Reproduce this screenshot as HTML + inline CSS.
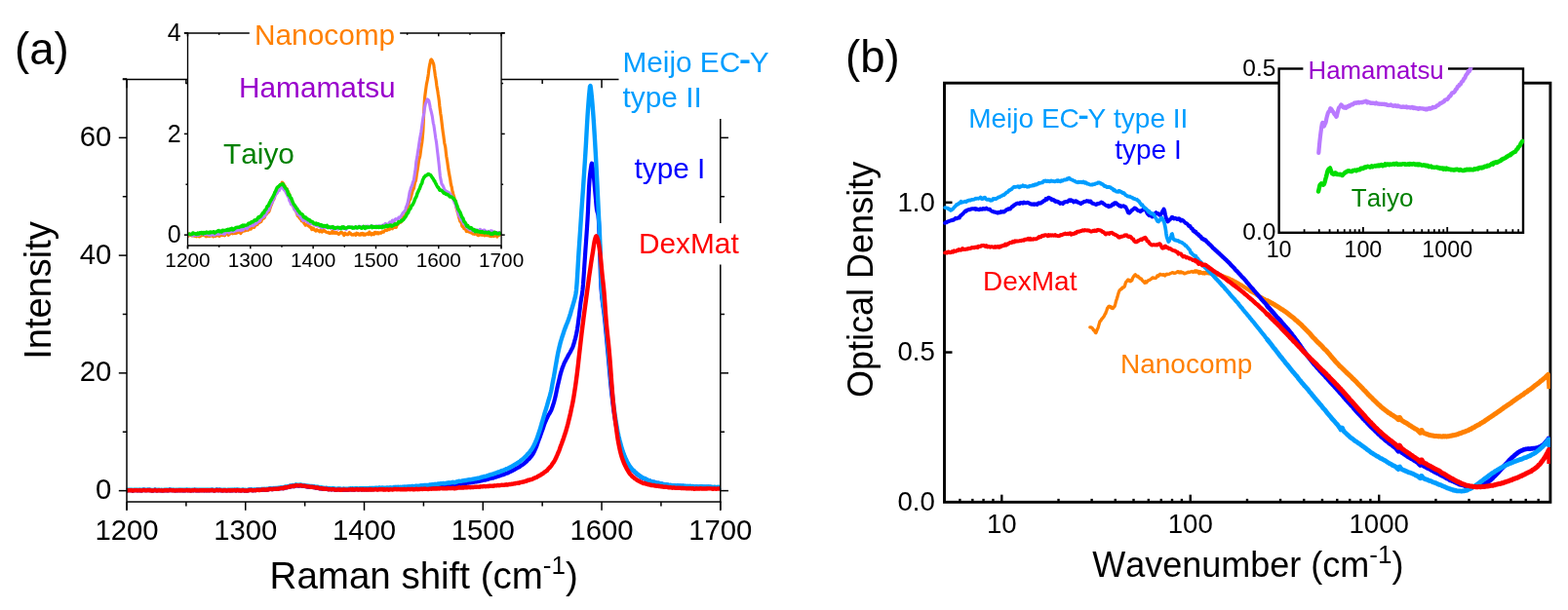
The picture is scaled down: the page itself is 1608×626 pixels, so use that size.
<!DOCTYPE html>
<html lang="en">
<head>
<meta charset="utf-8">
<title>Raman and optical density spectra</title>
<style>
html,body{margin:0;padding:0;background:#fff;}
body{width:1608px;height:626px;overflow:hidden;}
svg{display:block;}
svg text{font-family:"Liberation Sans",sans-serif;font-kerning:none;}
</style>
</head>
<body>
<svg width="1608" height="626" viewBox="0 0 1608 626">
<rect x="0" y="0" width="1608" height="626" fill="#fff"/>
<defs>
<clipPath id="clipA"><rect x="129.30" y="81.40" width="610.30" height="433.60"/></clipPath>
<clipPath id="clipAI"><rect x="191.90" y="33.90" width="322.90" height="218.00"/></clipPath>
<clipPath id="clipB"><rect x="967.10" y="85.20" width="622.80" height="430.10"/></clipPath>
<clipPath id="clipBI"><rect x="1311.60" y="69.30" width="251.60" height="169.50"/></clipPath>
</defs>
<g clip-path="url(#clipA)"><path d="M130.0,503.5 L130.5,503.5 L131.0,503.2 L131.5,503.1 L132.0,503.1 L132.5,503.2 L133.0,503.2 L133.5,503.2 L134.0,503.2 L134.5,503.1 L135.0,503.2 L135.5,503.3 L136.0,503.6 L136.5,503.5 L137.0,503.4 L137.5,503.2 L138.0,503.1 L138.5,503.2 L139.0,503.1 L139.5,503.2 L140.0,503.1 L140.5,503.3 L141.0,503.4 L141.5,503.4 L142.0,503.2 L142.5,503.2 L143.0,503.3 L143.5,503.3 L144.0,503.2 L144.5,503.3 L145.0,503.5 L145.5,503.4 L146.0,503.3 L146.5,503.1 L147.0,503.0 L147.5,502.9 L148.0,502.9 L148.5,503.2 L149.0,503.3 L149.5,503.2 L150.0,503.2 L150.5,503.2 L151.0,503.2 L151.5,503.1 L152.0,503.0 L152.5,503.1 L153.0,503.2 L153.5,503.0 L154.0,503.1 L154.5,503.2 L155.0,503.4 L155.5,503.5 L156.0,503.6 L156.5,503.6 L157.0,503.4 L157.5,503.4 L158.0,503.1 L158.5,503.1 L159.0,502.9 L159.5,503.2 L160.0,503.3 L160.5,503.5 L161.0,503.5 L161.5,503.4 L162.0,503.4 L162.5,503.2 L163.0,503.2 L163.5,503.2 L164.0,503.4 L164.5,503.4 L165.0,503.4 L165.5,503.3 L166.0,503.5 L166.5,503.5 L167.0,503.5 L167.5,503.4 L168.0,503.4 L168.5,503.2 L169.0,503.3 L169.5,503.2 L170.0,503.3 L170.5,503.2 L171.0,503.3 L171.5,503.3 L172.0,503.3 L172.5,503.4 L173.0,503.3 L173.5,502.9 L174.0,502.9 L174.5,502.9 L175.0,503.1 L175.5,503.1 L176.0,503.2 L176.5,503.2 L177.0,503.2 L177.5,503.3 L178.0,503.2 L178.5,503.2 L179.0,503.4 L179.5,503.5 L180.0,503.4 L180.5,503.2 L181.0,503.2 L181.5,503.4 L182.0,503.4 L182.5,503.3 L183.0,503.2 L183.5,503.2 L184.0,503.3 L184.5,503.3 L185.0,503.2 L185.5,503.2 L186.0,503.3 L186.5,503.2 L187.0,503.3 L187.5,503.3 L188.0,503.4 L188.5,503.3 L189.0,503.4 L189.5,503.3 L190.0,503.4 L190.5,503.2 L191.0,503.1 L191.5,503.1 L192.0,503.2 L192.5,503.3 L193.0,503.3 L193.5,503.2 L194.0,503.2 L194.5,503.1 L195.0,503.4 L195.5,503.5 L196.0,503.5 L196.5,503.3 L197.0,503.2 L197.5,503.2 L198.0,503.3 L198.5,503.3 L199.0,503.1 L199.5,503.0 L200.0,503.0 L200.5,503.2 L201.0,503.4 L201.5,503.3 L202.0,503.4 L202.5,503.3 L203.0,503.3 L203.5,503.4 L204.0,503.4 L204.5,503.3 L205.0,503.3 L205.5,503.2 L206.0,503.2 L206.5,503.2 L207.0,503.3 L207.5,503.2 L208.0,503.2 L208.5,503.2 L209.0,503.3 L209.5,503.3 L210.0,503.3 L210.5,503.2 L211.0,503.1 L211.5,503.3 L212.0,503.4 L212.5,503.3 L213.0,503.2 L213.5,503.2 L214.0,503.3 L214.5,503.3 L215.0,503.3 L215.5,503.2 L216.0,503.1 L216.5,503.2 L217.0,503.0 L217.5,503.0 L218.0,503.0 L218.5,503.2 L219.0,503.4 L219.5,503.5 L220.0,503.5 L220.5,503.4 L221.0,503.2 L221.5,503.0 L222.0,503.0 L222.5,502.9 L223.0,503.1 L223.5,503.2 L224.0,503.3 L224.5,503.2 L225.0,503.0 L225.5,503.0 L226.0,503.1 L226.5,503.3 L227.0,503.2 L227.5,503.4 L228.0,503.4 L228.5,503.5 L229.0,503.3 L229.5,503.2 L230.0,503.2 L230.5,503.2 L231.0,503.3 L231.5,503.3 L232.0,503.5 L232.5,503.5 L233.0,503.4 L233.5,503.4 L234.0,503.2 L234.5,503.2 L235.0,503.3 L235.5,503.3 L236.0,503.5 L236.5,503.3 L237.0,503.4 L237.5,503.3 L238.0,503.3 L238.5,503.4 L239.0,503.2 L239.5,503.2 L240.0,503.1 L240.5,503.1 L241.0,503.3 L241.5,503.3 L242.0,503.5 L242.5,503.1 L243.0,503.1 L243.5,503.0 L244.0,503.2 L244.5,503.3 L245.0,503.3 L245.5,503.3 L246.0,503.3 L246.5,503.5 L247.0,503.5 L247.5,503.5 L248.0,503.2 L248.5,503.2 L249.0,503.1 L249.5,503.1 L250.0,503.3 L250.5,503.5 L251.0,503.6 L251.5,503.4 L252.0,503.5 L252.5,503.5 L253.0,503.6 L253.5,503.5 L254.0,503.5 L254.5,503.4 L255.0,503.1 L255.5,503.0 L256.0,502.9 L256.5,503.0 L257.0,503.0 L257.5,502.9 L258.0,503.0 L258.5,503.2 L259.0,503.3 L259.5,503.3 L260.0,503.2 L260.5,503.1 L261.0,503.2 L261.5,503.1 L262.0,503.2 L262.5,503.0 L263.0,503.0 L263.5,502.8 L264.0,502.8 L264.5,502.9 L265.0,502.7 L265.5,503.0 L266.0,502.9 L266.5,503.0 L267.0,502.8 L267.5,502.9 L268.0,502.6 L268.5,502.6 L269.0,502.4 L269.5,502.6 L270.0,502.5 L270.5,502.6 L271.0,502.5 L271.5,502.6 L272.0,502.7 L272.5,502.8 L273.0,502.6 L273.5,502.4 L274.0,502.5 L274.5,502.6 L275.0,502.4 L275.5,502.2 L276.0,502.0 L276.5,501.9 L277.0,501.8 L277.5,501.9 L278.0,501.9 L278.5,502.1 L279.0,502.1 L279.5,502.1 L280.0,501.8 L280.5,501.7 L281.0,501.8 L281.5,501.8 L282.0,501.7 L282.5,501.6 L283.0,501.6 L283.5,501.7 L284.0,501.8 L284.5,501.7 L285.0,501.8 L285.5,501.5 L286.0,501.5 L286.5,501.4 L287.0,501.2 L287.5,501.2 L288.0,501.0 L288.5,501.1 L289.0,500.9 L289.5,501.1 L290.0,501.1 L290.5,501.2 L291.0,501.0 L291.5,500.8 L292.0,500.4 L292.5,500.2 L293.0,500.3 L293.5,500.4 L294.0,500.4 L294.5,500.3 L295.0,500.0 L295.5,499.9 L296.0,499.9 L296.5,499.9 L297.0,499.6 L297.5,499.3 L298.0,499.2 L298.5,499.3 L299.0,499.1 L299.5,499.1 L300.0,498.8 L300.5,498.9 L301.0,498.9 L301.5,499.2 L302.0,498.9 L302.5,498.7 L303.0,498.3 L303.5,498.4 L304.0,498.3 L304.5,498.5 L305.0,498.5 L305.5,498.5 L306.0,498.6 L306.5,498.6 L307.0,498.6 L307.5,498.4 L308.0,498.3 L308.5,498.3 L309.0,498.5 L309.5,498.6 L310.0,498.8 L310.5,498.8 L311.0,498.8 L311.5,498.8 L312.0,498.9 L312.5,499.0 L313.0,499.0 L313.5,499.2 L314.0,499.2 L314.5,499.4 L315.0,499.4 L315.5,499.6 L316.0,499.5 L316.5,499.6 L317.0,499.5 L317.5,499.7 L318.0,499.9 L318.5,499.9 L319.0,499.8 L319.5,499.7 L320.0,499.9 L320.5,499.9 L321.0,500.1 L321.5,500.1 L322.0,500.2 L322.5,500.2 L323.0,500.4 L323.5,500.6 L324.0,500.6 L324.5,500.6 L325.0,500.7 L325.5,500.6 L326.0,500.6 L326.5,500.7 L327.0,501.1 L327.5,501.3 L328.0,501.4 L328.5,501.4 L329.0,501.2 L329.5,501.2 L330.0,501.3 L330.5,501.6 L331.0,501.5 L331.5,501.5 L332.0,501.5 L332.5,501.8 L333.0,501.9 L333.5,501.8 L334.0,501.7 L334.5,501.7 L335.0,501.7 L335.5,501.9 L336.0,502.0 L336.5,502.2 L337.0,502.3 L337.5,502.2 L338.0,502.2 L338.5,502.1 L339.0,502.2 L339.5,502.3 L340.0,502.4 L340.5,502.3 L341.0,502.2 L341.5,502.1 L342.0,502.2 L342.5,502.2 L343.0,502.3 L343.5,502.6 L344.0,502.7 L344.5,502.7 L345.0,502.6 L345.5,502.6 L346.0,502.5 L346.5,502.4 L347.0,502.5 L347.5,502.4 L348.0,502.3 L348.5,502.4 L349.0,502.7 L349.5,502.9 L350.0,502.7 L350.5,502.8 L351.0,502.7 L351.5,502.6 L352.0,502.5 L352.5,502.4 L353.0,502.6 L353.5,502.5 L354.0,502.6 L354.5,502.6 L355.0,502.6 L355.5,502.6 L356.0,502.5 L356.5,502.5 L357.0,502.6 L357.5,502.5 L358.0,502.5 L358.5,502.3 L359.0,502.2 L359.5,502.2 L360.0,502.4 L360.5,502.5 L361.0,502.5 L361.5,502.2 L362.0,502.3 L362.5,502.4 L363.0,502.6 L363.5,502.6 L364.0,502.4 L364.5,502.3 L365.0,502.2 L365.5,502.2 L366.0,502.1 L366.5,502.2 L367.0,502.4 L367.5,502.5 L368.0,502.4 L368.5,502.3 L369.0,502.2 L369.5,502.1 L370.0,502.3 L370.5,502.4 L371.0,502.5 L371.5,502.4 L372.0,502.2 L372.5,502.2 L373.0,502.3 L373.5,502.3 L374.0,502.3 L374.5,502.2 L375.0,502.3 L375.5,502.4 L376.0,502.3 L376.5,502.3 L377.0,502.2 L377.5,502.3 L378.0,502.3 L378.5,502.2 L379.0,502.0 L379.5,502.2 L380.0,502.1 L380.5,502.3 L381.0,502.1 L381.5,502.2 L382.0,502.2 L382.5,502.2 L383.0,502.2 L383.5,502.1 L384.0,502.1 L384.5,502.0 L385.0,501.9 L385.5,501.9 L386.0,502.0 L386.5,502.0 L387.0,502.2 L387.5,502.1 L388.0,502.1 L388.5,501.8 L389.0,501.7 L389.5,501.8 L390.0,501.9 L390.5,501.9 L391.0,502.0 L391.5,501.8 L392.0,501.8 L392.5,501.7 L393.0,502.0 L393.5,502.1 L394.0,502.0 L394.5,501.9 L395.0,501.9 L395.5,502.0 L396.0,501.9 L396.5,501.8 L397.0,501.7 L397.5,501.8 L398.0,502.0 L398.5,502.1 L399.0,502.0 L399.5,501.8 L400.0,501.6 L400.5,501.7 L401.0,501.7 L401.5,501.8 L402.0,501.8 L402.5,501.9 L403.0,501.8 L403.5,501.7 L404.0,501.4 L404.5,501.3 L405.0,501.3 L405.5,501.3 L406.0,501.4 L406.5,501.5 L407.0,501.6 L407.5,501.4 L408.0,501.3 L408.5,501.2 L409.0,501.4 L409.5,501.4 L410.0,501.4 L410.5,501.3 L411.0,501.5 L411.5,501.5 L412.0,501.4 L412.5,501.3 L413.0,501.4 L413.5,501.4 L414.0,501.4 L414.5,501.2 L415.0,501.1 L415.5,501.3 L416.0,501.4 L416.5,501.4 L417.0,501.3 L417.5,501.0 L418.0,501.0 L418.5,501.1 L419.0,501.0 L419.5,501.0 L420.0,501.0 L420.5,501.1 L421.0,501.0 L421.5,501.0 L422.0,500.8 L422.5,500.8 L423.0,500.7 L423.5,500.9 L424.0,501.2 L424.5,501.2 L425.0,501.1 L425.5,500.9 L426.0,500.7 L426.5,500.7 L427.0,500.5 L427.5,500.7 L428.0,500.7 L428.5,500.8 L429.0,500.6 L429.5,500.6 L430.0,500.5 L430.5,500.6 L431.0,500.5 L431.5,500.3 L432.0,500.3 L432.5,500.3 L433.0,500.4 L433.5,500.3 L434.0,500.1 L434.5,500.1 L435.0,500.1 L435.5,500.2 L436.0,500.0 L436.5,500.0 L437.0,500.1 L437.5,500.2 L438.0,500.1 L438.5,500.1 L439.0,500.2 L439.5,500.1 L440.0,499.9 L440.5,499.7 L441.0,499.6 L441.5,499.7 L442.0,499.7 L442.5,499.7 L443.0,499.6 L443.5,499.4 L444.0,499.5 L444.5,499.4 L445.0,499.5 L445.5,499.3 L446.0,499.3 L446.5,499.1 L447.0,499.3 L447.5,499.3 L448.0,499.3 L448.5,499.1 L449.0,498.9 L449.5,499.0 L450.0,499.1 L450.5,499.0 L451.0,498.9 L451.5,498.7 L452.0,498.7 L452.5,498.6 L453.0,498.6 L453.5,498.6 L454.0,498.6 L454.5,498.6 L455.0,498.6 L455.5,498.7 L456.0,498.6 L456.5,498.7 L457.0,498.6 L457.5,498.5 L458.0,498.4 L458.5,498.2 L459.0,498.3 L459.5,498.0 L460.0,498.2 L460.5,498.0 L461.0,498.1 L461.5,498.1 L462.0,498.1 L462.5,498.0 L463.0,498.0 L463.5,497.7 L464.0,497.7 L464.5,497.6 L465.0,497.7 L465.5,497.7 L466.0,497.9 L466.5,497.8 L467.0,497.8 L467.5,497.4 L468.0,497.5 L468.5,497.2 L469.0,497.2 L469.5,497.0 L470.0,496.9 L470.5,496.6 L471.0,496.6 L471.5,496.7 L472.0,496.8 L472.5,496.8 L473.0,496.7 L473.5,496.6 L474.0,496.3 L474.5,496.3 L475.0,496.3 L475.5,496.4 L476.0,496.1 L476.5,495.8 L477.0,496.0 L477.5,496.0 L478.0,496.0 L478.5,495.7 L479.0,495.7 L479.5,495.7 L480.0,495.6 L480.5,495.3 L481.0,495.3 L481.5,495.4 L482.0,495.4 L482.5,495.4 L483.0,495.3 L483.5,495.2 L484.0,495.1 L484.5,495.0 L485.0,495.0 L485.5,494.9 L486.0,494.8 L486.5,494.6 L487.0,494.5 L487.5,494.5 L488.0,494.4 L488.5,494.4 L489.0,494.1 L489.5,494.1 L490.0,494.1 L490.5,494.0 L491.0,494.0 L491.5,493.8 L492.0,493.8 L492.5,493.4 L493.0,493.4 L493.5,493.2 L494.0,493.3 L494.5,493.1 L495.0,493.0 L495.5,492.8 L496.0,492.6 L496.5,492.5 L497.0,492.6 L497.5,492.6 L498.0,492.5 L498.5,492.3 L499.0,492.2 L499.5,491.9 L500.0,492.0 L500.5,491.9 L501.0,491.7 L501.5,491.3 L502.0,491.3 L502.5,491.2 L503.0,491.1 L503.5,490.9 L504.0,490.7 L504.5,490.7 L505.0,490.7 L505.5,490.6 L506.0,490.5 L506.5,490.1 L507.0,489.9 L507.5,489.7 L508.0,489.7 L508.5,489.6 L509.0,489.5 L509.5,489.2 L510.0,489.0 L510.5,488.7 L511.0,488.7 L511.5,488.7 L512.0,488.7 L512.5,488.3 L513.0,488.1 L513.5,487.9 L514.0,487.7 L514.5,487.4 L515.0,487.3 L515.5,487.3 L516.0,487.2 L516.5,487.0 L517.0,486.8 L517.5,486.6 L518.0,486.3 L518.5,486.0 L519.0,485.8 L519.5,485.6 L520.0,485.6 L520.5,485.5 L521.0,485.3 L521.5,484.9 L522.0,484.6 L522.5,484.4 L523.0,484.2 L523.5,484.0 L524.0,483.8 L524.5,483.5 L525.0,483.3 L525.5,483.0 L526.0,482.8 L526.5,482.5 L527.0,482.2 L527.5,482.0 L528.0,481.7 L528.5,481.2 L529.0,481.0 L529.5,480.7 L530.0,480.5 L530.5,480.2 L531.0,479.8 L531.5,479.7 L532.0,479.4 L532.5,479.3 L533.0,478.9 L533.5,478.4 L534.0,477.8 L534.5,477.7 L535.0,477.4 L535.5,477.2 L536.0,476.8 L536.5,476.4 L537.0,476.1 L537.5,475.5 L538.0,475.2 L538.5,474.7 L539.0,474.2 L539.5,473.9 L540.0,473.6 L540.5,473.0 L541.0,472.2 L541.5,471.7 L542.0,471.4 L542.5,471.0 L543.0,470.5 L543.5,469.8 L544.0,469.3 L544.5,468.6 L545.0,468.2 L545.5,467.4 L546.0,466.7 L546.5,465.9 L547.0,465.0 L547.5,464.1 L548.0,463.1 L548.5,462.0 L549.0,460.8 L549.5,459.7 L550.0,458.6 L550.5,457.2 L551.0,455.8 L551.5,454.3 L552.0,452.9 L552.5,451.6 L553.0,450.3 L553.5,449.0 L554.0,447.7 L554.5,446.2 L555.0,444.8 L555.5,443.2 L556.0,442.0 L556.5,440.6 L557.0,439.2 L557.5,437.6 L558.0,436.1 L558.5,434.6 L559.0,433.4 L559.5,432.2 L560.0,431.2 L560.5,430.0 L561.0,429.1 L561.5,428.0 L562.0,426.9 L562.5,425.8 L563.0,425.1 L563.5,424.4 L564.0,423.5 L564.5,422.6 L565.0,421.7 L565.5,420.6 L566.0,419.3 L566.5,417.7 L567.0,416.3 L567.5,414.7 L568.0,413.1 L568.5,411.2 L569.0,409.3 L569.5,407.2 L570.0,405.1 L570.5,402.6 L571.0,400.1 L571.5,397.7 L572.0,395.5 L572.5,393.4 L573.0,391.3 L573.5,389.2 L574.0,387.0 L574.5,384.9 L575.0,383.2 L575.5,381.4 L576.0,379.9 L576.5,378.2 L577.0,376.8 L577.5,375.6 L578.0,374.3 L578.5,373.0 L579.0,371.9 L579.5,370.9 L580.0,370.1 L580.5,369.0 L581.0,368.1 L581.5,367.1 L582.0,366.3 L582.5,365.3 L583.0,364.3 L583.5,363.4 L584.0,362.6 L584.5,361.9 L585.0,360.9 L585.5,359.8 L586.0,358.9 L586.5,357.9 L587.0,357.0 L587.5,355.7 L588.0,354.3 L588.5,352.6 L589.0,350.9 L589.5,349.0 L590.0,347.3 L590.5,345.2 L591.0,343.0 L591.5,340.5 L592.0,337.8 L592.5,334.5 L593.0,330.8 L593.5,326.7 L594.0,322.9 L594.5,318.6 L595.0,314.4 L595.5,310.3 L596.0,307.1 L596.5,304.2 L597.0,301.4 L597.5,297.2 L598.0,291.9 L598.5,284.8 L599.0,277.6 L599.5,269.9 L600.0,262.5 L600.5,255.2 L601.0,248.1 L601.5,240.9 L602.0,233.5 L602.5,225.5 L603.0,216.1 L603.5,204.1 L604.0,192.6 L604.5,184.8 L605.0,179.7 L605.5,175.5 L606.0,172.1 L606.5,168.8 L607.0,167.6 L607.5,170.2 L608.0,173.6 L608.5,177.7 L609.0,182.2 L609.5,187.4 L610.0,193.2 L610.5,199.0 L611.0,204.6 L611.5,210.6 L612.0,215.0 L612.5,217.3 L613.0,218.8 L613.5,221.0 L614.0,227.2 L614.5,238.6 L615.0,251.4 L615.5,268.3 L616.0,284.9 L616.5,295.5 L617.0,301.9 L617.5,306.8 L618.0,310.8 L618.5,314.4 L619.0,317.9 L619.5,321.6 L620.0,325.9 L620.5,330.8 L621.0,336.1 L621.5,341.2 L622.0,346.8 L622.5,352.1 L623.0,357.6 L623.5,362.9 L624.0,368.2 L624.5,374.0 L625.0,379.8 L625.5,385.5 L626.0,391.0 L626.5,396.3 L627.0,401.3 L627.5,405.9 L628.0,410.1 L628.5,414.5 L629.0,418.4 L629.5,422.1 L630.0,425.6 L630.5,428.8 L631.0,431.9 L631.5,434.5 L632.0,437.4 L632.5,440.3 L633.0,443.1 L633.5,445.8 L634.0,447.9 L634.5,450.1 L635.0,452.0 L635.5,453.9 L636.0,455.7 L636.5,457.5 L637.0,459.4 L637.5,461.1 L638.0,462.7 L638.5,464.0 L639.0,465.5 L639.5,466.6 L640.0,468.0 L640.5,469.1 L641.0,470.4 L641.5,471.3 L642.0,472.5 L642.5,473.6 L643.0,474.6 L643.5,475.4 L644.0,476.2 L644.5,477.1 L645.0,477.9 L645.5,478.7 L646.0,479.5 L646.5,480.1 L647.0,480.5 L647.5,481.2 L648.0,481.9 L648.5,482.5 L649.0,482.9 L649.5,483.0 L650.0,483.6 L650.5,484.1 L651.0,484.9 L651.5,485.0 L652.0,485.5 L652.5,485.9 L653.0,486.4 L653.5,486.8 L654.0,487.1 L654.5,487.5 L655.0,487.9 L655.5,488.2 L656.0,488.6 L656.5,488.9 L657.0,489.3 L657.5,489.6 L658.0,490.0 L658.5,490.1 L659.0,490.5 L659.5,490.7 L660.0,491.1 L660.5,491.0 L661.0,491.2 L661.5,491.2 L662.0,491.8 L662.5,492.1 L663.0,492.4 L663.5,492.4 L664.0,492.7 L664.5,493.0 L665.0,493.3 L665.5,493.2 L666.0,493.3 L666.5,493.5 L667.0,494.0 L667.5,494.2 L668.0,494.4 L668.5,494.3 L669.0,494.6 L669.5,494.6 L670.0,494.8 L670.5,494.7 L671.0,494.8 L671.5,495.0 L672.0,495.4 L672.5,495.5 L673.0,495.7 L673.5,495.6 L674.0,495.8 L674.5,495.8 L675.0,495.7 L675.5,495.8 L676.0,496.1 L676.5,496.2 L677.0,496.4 L677.5,496.5 L678.0,496.5 L678.5,496.7 L679.0,496.6 L679.5,496.9 L680.0,497.0 L680.5,497.2 L681.0,497.2 L681.5,497.3 L682.0,497.4 L682.5,497.5 L683.0,497.5 L683.5,497.4 L684.0,497.6 L684.5,497.6 L685.0,497.8 L685.5,497.9 L686.0,498.2 L686.5,498.2 L687.0,498.1 L687.5,498.0 L688.0,498.2 L688.5,498.3 L689.0,498.4 L689.5,498.6 L690.0,498.6 L690.5,498.6 L691.0,498.4 L691.5,498.5 L692.0,498.6 L692.5,498.6 L693.0,498.7 L693.5,498.8 L694.0,498.8 L694.5,498.5 L695.0,498.6 L695.5,498.6 L696.0,498.8 L696.5,498.7 L697.0,498.7 L697.5,498.7 L698.0,498.8 L698.5,498.9 L699.0,499.0 L699.5,498.9 L700.0,499.0 L700.5,498.9 L701.0,498.9 L701.5,499.0 L702.0,499.1 L702.5,499.0 L703.0,499.0 L703.5,499.1 L704.0,499.3 L704.5,499.4 L705.0,499.3 L705.5,499.1 L706.0,499.3 L706.5,499.3 L707.0,499.3 L707.5,499.2 L708.0,499.1 L708.5,499.3 L709.0,499.4 L709.5,499.6 L710.0,499.4 L710.5,499.4 L711.0,499.4 L711.5,499.6 L712.0,499.9 L712.5,500.0 L713.0,499.7 L713.5,499.5 L714.0,499.4 L714.5,499.7 L715.0,499.7 L715.5,499.8 L716.0,499.7 L716.5,499.8 L717.0,499.9 L717.5,499.8 L718.0,499.6 L718.5,499.4 L719.0,499.6 L719.5,499.8 L720.0,499.9 L720.5,499.7 L721.0,499.8 L721.5,499.9 L722.0,500.0 L722.5,499.8 L723.0,499.8 L723.5,499.8 L724.0,499.9 L724.5,500.1 L725.0,499.9 L725.5,499.8 L726.0,499.7 L726.5,499.9 L727.0,499.9 L727.5,499.8 L728.0,499.8 L728.5,499.9 L729.0,499.9 L729.5,500.0 L730.0,500.1 L730.5,500.2 L731.0,500.3 L731.5,500.3 L732.0,500.2 L732.5,500.1 L733.0,500.1 L733.5,500.2 L734.0,500.4 L734.5,500.3 L735.0,500.3 L735.5,500.3 L736.0,500.2 L736.5,500.2 L737.0,500.1 L737.5,500.3 L738.0,500.3 L738.5,500.4 L738.8,500.3" fill="none" stroke="#0000ff" stroke-width="4.2" stroke-linejoin="round" stroke-linecap="butt"/><path d="M130.0,503.0 L130.5,503.0 L131.0,502.7 L131.5,502.6 L132.0,502.6 L132.5,502.7 L133.0,502.7 L133.5,502.7 L134.0,502.7 L134.5,502.6 L135.0,502.7 L135.5,502.8 L136.0,503.1 L136.5,503.0 L137.0,502.9 L137.5,502.7 L138.0,502.6 L138.5,502.7 L139.0,502.6 L139.5,502.7 L140.0,502.6 L140.5,502.8 L141.0,502.9 L141.5,502.8 L142.0,502.7 L142.5,502.7 L143.0,502.8 L143.5,502.8 L144.0,502.7 L144.5,502.8 L145.0,503.0 L145.5,502.9 L146.0,502.8 L146.5,502.5 L147.0,502.4 L147.5,502.4 L148.0,502.4 L148.5,502.7 L149.0,502.8 L149.5,502.7 L150.0,502.7 L150.5,502.7 L151.0,502.6 L151.5,502.5 L152.0,502.5 L152.5,502.6 L153.0,502.6 L153.5,502.5 L154.0,502.6 L154.5,502.6 L155.0,502.9 L155.5,503.0 L156.0,503.0 L156.5,503.1 L157.0,502.9 L157.5,502.9 L158.0,502.6 L158.5,502.6 L159.0,502.4 L159.5,502.6 L160.0,502.8 L160.5,503.0 L161.0,503.0 L161.5,502.8 L162.0,502.9 L162.5,502.7 L163.0,502.7 L163.5,502.7 L164.0,502.9 L164.5,502.9 L165.0,502.9 L165.5,502.7 L166.0,503.0 L166.5,502.9 L167.0,503.0 L167.5,502.9 L168.0,502.9 L168.5,502.7 L169.0,502.8 L169.5,502.6 L170.0,502.8 L170.5,502.7 L171.0,502.8 L171.5,502.7 L172.0,502.8 L172.5,502.9 L173.0,502.8 L173.5,502.4 L174.0,502.3 L174.5,502.4 L175.0,502.6 L175.5,502.6 L176.0,502.7 L176.5,502.6 L177.0,502.7 L177.5,502.7 L178.0,502.7 L178.5,502.7 L179.0,502.8 L179.5,503.0 L180.0,502.9 L180.5,502.7 L181.0,502.7 L181.5,502.9 L182.0,502.9 L182.5,502.8 L183.0,502.6 L183.5,502.7 L184.0,502.8 L184.5,502.8 L185.0,502.7 L185.5,502.6 L186.0,502.7 L186.5,502.7 L187.0,502.8 L187.5,502.8 L188.0,502.9 L188.5,502.8 L189.0,502.8 L189.5,502.7 L190.0,502.8 L190.5,502.6 L191.0,502.6 L191.5,502.5 L192.0,502.6 L192.5,502.8 L193.0,502.8 L193.5,502.7 L194.0,502.6 L194.5,502.6 L195.0,502.8 L195.5,502.9 L196.0,502.9 L196.5,502.8 L197.0,502.7 L197.5,502.7 L198.0,502.7 L198.5,502.7 L199.0,502.6 L199.5,502.5 L200.0,502.5 L200.5,502.7 L201.0,502.8 L201.5,502.8 L202.0,502.8 L202.5,502.8 L203.0,502.8 L203.5,502.8 L204.0,502.8 L204.5,502.8 L205.0,502.8 L205.5,502.6 L206.0,502.7 L206.5,502.6 L207.0,502.8 L207.5,502.7 L208.0,502.7 L208.5,502.6 L209.0,502.8 L209.5,502.7 L210.0,502.7 L210.5,502.6 L211.0,502.6 L211.5,502.8 L212.0,502.8 L212.5,502.8 L213.0,502.7 L213.5,502.6 L214.0,502.8 L214.5,502.7 L215.0,502.7 L215.5,502.7 L216.0,502.6 L216.5,502.6 L217.0,502.5 L217.5,502.4 L218.0,502.4 L218.5,502.7 L219.0,502.8 L219.5,503.0 L220.0,503.0 L220.5,502.9 L221.0,502.7 L221.5,502.5 L222.0,502.4 L222.5,502.3 L223.0,502.5 L223.5,502.7 L224.0,502.7 L224.5,502.6 L225.0,502.4 L225.5,502.5 L226.0,502.6 L226.5,502.7 L227.0,502.7 L227.5,502.8 L228.0,502.9 L228.5,502.9 L229.0,502.7 L229.5,502.6 L230.0,502.6 L230.5,502.6 L231.0,502.7 L231.5,502.8 L232.0,502.9 L232.5,502.9 L233.0,502.9 L233.5,502.8 L234.0,502.6 L234.5,502.6 L235.0,502.7 L235.5,502.7 L236.0,502.9 L236.5,502.7 L237.0,502.8 L237.5,502.7 L238.0,502.8 L238.5,502.8 L239.0,502.7 L239.5,502.6 L240.0,502.6 L240.5,502.5 L241.0,502.7 L241.5,502.7 L242.0,502.9 L242.5,502.5 L243.0,502.5 L243.5,502.4 L244.0,502.6 L244.5,502.7 L245.0,502.7 L245.5,502.7 L246.0,502.7 L246.5,502.9 L247.0,502.9 L247.5,502.9 L248.0,502.6 L248.5,502.6 L249.0,502.5 L249.5,502.5 L250.0,502.7 L250.5,502.9 L251.0,503.0 L251.5,502.8 L252.0,502.9 L252.5,502.9 L253.0,503.0 L253.5,502.9 L254.0,502.8 L254.5,502.8 L255.0,502.5 L255.5,502.4 L256.0,502.3 L256.5,502.4 L257.0,502.4 L257.5,502.3 L258.0,502.3 L258.5,502.6 L259.0,502.7 L259.5,502.7 L260.0,502.6 L260.5,502.5 L261.0,502.5 L261.5,502.4 L262.0,502.6 L262.5,502.4 L263.0,502.4 L263.5,502.2 L264.0,502.2 L264.5,502.2 L265.0,502.1 L265.5,502.3 L266.0,502.3 L266.5,502.4 L267.0,502.2 L267.5,502.2 L268.0,502.0 L268.5,501.9 L269.0,501.8 L269.5,501.9 L270.0,501.9 L270.5,502.0 L271.0,501.8 L271.5,502.0 L272.0,502.1 L272.5,502.1 L273.0,501.9 L273.5,501.7 L274.0,501.8 L274.5,501.9 L275.0,501.8 L275.5,501.6 L276.0,501.3 L276.5,501.3 L277.0,501.1 L277.5,501.2 L278.0,501.2 L278.5,501.4 L279.0,501.4 L279.5,501.4 L280.0,501.2 L280.5,501.0 L281.0,501.2 L281.5,501.1 L282.0,501.0 L282.5,500.9 L283.0,500.9 L283.5,501.0 L284.0,501.1 L284.5,501.0 L285.0,501.1 L285.5,500.8 L286.0,500.8 L286.5,500.7 L287.0,500.5 L287.5,500.5 L288.0,500.3 L288.5,500.4 L289.0,500.2 L289.5,500.4 L290.0,500.3 L290.5,500.5 L291.0,500.3 L291.5,500.0 L292.0,499.7 L292.5,499.5 L293.0,499.5 L293.5,499.6 L294.0,499.6 L294.5,499.5 L295.0,499.3 L295.5,499.1 L296.0,499.1 L296.5,499.1 L297.0,498.8 L297.5,498.5 L298.0,498.4 L298.5,498.5 L299.0,498.4 L299.5,498.3 L300.0,498.0 L300.5,498.1 L301.0,498.1 L301.5,498.4 L302.0,498.1 L302.5,497.9 L303.0,497.5 L303.5,497.6 L304.0,497.5 L304.5,497.7 L305.0,497.7 L305.5,497.7 L306.0,497.8 L306.5,497.8 L307.0,497.8 L307.5,497.6 L308.0,497.5 L308.5,497.5 L309.0,497.7 L309.5,497.8 L310.0,498.0 L310.5,498.0 L311.0,498.0 L311.5,497.9 L312.0,498.1 L312.5,498.2 L313.0,498.2 L313.5,498.4 L314.0,498.4 L314.5,498.6 L315.0,498.5 L315.5,498.8 L316.0,498.6 L316.5,498.7 L317.0,498.7 L317.5,498.9 L318.0,499.0 L318.5,499.0 L319.0,499.0 L319.5,498.9 L320.0,499.0 L320.5,499.1 L321.0,499.2 L321.5,499.2 L322.0,499.3 L322.5,499.3 L323.0,499.6 L323.5,499.7 L324.0,499.7 L324.5,499.7 L325.0,499.8 L325.5,499.7 L326.0,499.7 L326.5,499.8 L327.0,500.2 L327.5,500.4 L328.0,500.5 L328.5,500.5 L329.0,500.3 L329.5,500.3 L330.0,500.4 L330.5,500.6 L331.0,500.6 L331.5,500.6 L332.0,500.6 L332.5,500.9 L333.0,501.0 L333.5,500.9 L334.0,500.8 L334.5,500.7 L335.0,500.8 L335.5,501.0 L336.0,501.1 L336.5,501.3 L337.0,501.4 L337.5,501.3 L338.0,501.3 L338.5,501.2 L339.0,501.3 L339.5,501.4 L340.0,501.5 L340.5,501.3 L341.0,501.3 L341.5,501.2 L342.0,501.3 L342.5,501.3 L343.0,501.4 L343.5,501.7 L344.0,501.8 L344.5,501.8 L345.0,501.7 L345.5,501.7 L346.0,501.6 L346.5,501.5 L347.0,501.6 L347.5,501.5 L348.0,501.4 L348.5,501.5 L349.0,501.8 L349.5,502.0 L350.0,501.8 L350.5,501.9 L351.0,501.8 L351.5,501.7 L352.0,501.6 L352.5,501.5 L353.0,501.7 L353.5,501.6 L354.0,501.7 L354.5,501.7 L355.0,501.7 L355.5,501.6 L356.0,501.6 L356.5,501.6 L357.0,501.6 L357.5,501.6 L358.0,501.5 L358.5,501.4 L359.0,501.3 L359.5,501.3 L360.0,501.5 L360.5,501.5 L361.0,501.6 L361.5,501.3 L362.0,501.3 L362.5,501.4 L363.0,501.6 L363.5,501.6 L364.0,501.5 L364.5,501.3 L365.0,501.3 L365.5,501.2 L366.0,501.2 L366.5,501.2 L367.0,501.4 L367.5,501.5 L368.0,501.4 L368.5,501.2 L369.0,501.2 L369.5,501.1 L370.0,501.3 L370.5,501.3 L371.0,501.5 L371.5,501.3 L372.0,501.1 L372.5,501.1 L373.0,501.3 L373.5,501.3 L374.0,501.2 L374.5,501.2 L375.0,501.2 L375.5,501.3 L376.0,501.2 L376.5,501.2 L377.0,501.1 L377.5,501.2 L378.0,501.2 L378.5,501.1 L379.0,500.9 L379.5,501.1 L380.0,501.0 L380.5,501.1 L381.0,500.9 L381.5,501.0 L382.0,501.1 L382.5,501.0 L383.0,501.0 L383.5,500.9 L384.0,500.9 L384.5,500.8 L385.0,500.7 L385.5,500.7 L386.0,500.8 L386.5,500.8 L387.0,501.0 L387.5,500.9 L388.0,500.8 L388.5,500.6 L389.0,500.4 L389.5,500.5 L390.0,500.7 L390.5,500.7 L391.0,500.7 L391.5,500.5 L392.0,500.5 L392.5,500.4 L393.0,500.7 L393.5,500.8 L394.0,500.7 L394.5,500.6 L395.0,500.6 L395.5,500.7 L396.0,500.6 L396.5,500.5 L397.0,500.4 L397.5,500.4 L398.0,500.6 L398.5,500.8 L399.0,500.7 L399.5,500.5 L400.0,500.3 L400.5,500.3 L401.0,500.4 L401.5,500.4 L402.0,500.4 L402.5,500.5 L403.0,500.4 L403.5,500.3 L404.0,500.0 L404.5,499.9 L405.0,499.9 L405.5,499.8 L406.0,499.9 L406.5,500.0 L407.0,500.1 L407.5,500.0 L408.0,499.8 L408.5,499.7 L409.0,499.9 L409.5,499.9 L410.0,499.9 L410.5,499.8 L411.0,500.0 L411.5,499.9 L412.0,499.9 L412.5,499.7 L413.0,499.8 L413.5,499.8 L414.0,499.8 L414.5,499.6 L415.0,499.5 L415.5,499.6 L416.0,499.8 L416.5,499.8 L417.0,499.6 L417.5,499.4 L418.0,499.3 L418.5,499.4 L419.0,499.3 L419.5,499.3 L420.0,499.2 L420.5,499.4 L421.0,499.3 L421.5,499.2 L422.0,499.0 L422.5,499.0 L423.0,498.9 L423.5,499.1 L424.0,499.4 L424.5,499.4 L425.0,499.3 L425.5,499.0 L426.0,498.8 L426.5,498.8 L427.0,498.6 L427.5,498.8 L428.0,498.8 L428.5,498.9 L429.0,498.7 L429.5,498.7 L430.0,498.6 L430.5,498.6 L431.0,498.5 L431.5,498.3 L432.0,498.3 L432.5,498.3 L433.0,498.4 L433.5,498.3 L434.0,498.1 L434.5,498.1 L435.0,498.0 L435.5,498.1 L436.0,497.9 L436.5,497.9 L437.0,498.0 L437.5,498.0 L438.0,498.0 L438.5,497.9 L439.0,498.0 L439.5,497.9 L440.0,497.7 L440.5,497.5 L441.0,497.4 L441.5,497.4 L442.0,497.5 L442.5,497.4 L443.0,497.3 L443.5,497.1 L444.0,497.2 L444.5,497.1 L445.0,497.2 L445.5,497.0 L446.0,496.9 L446.5,496.8 L447.0,496.9 L447.5,496.9 L448.0,496.9 L448.5,496.7 L449.0,496.5 L449.5,496.5 L450.0,496.7 L450.5,496.6 L451.0,496.4 L451.5,496.2 L452.0,496.2 L452.5,496.1 L453.0,496.1 L453.5,496.1 L454.0,496.1 L454.5,496.0 L455.0,496.0 L455.5,496.2 L456.0,496.1 L456.5,496.1 L457.0,496.0 L457.5,495.9 L458.0,495.8 L458.5,495.6 L459.0,495.6 L459.5,495.4 L460.0,495.5 L460.5,495.3 L461.0,495.5 L461.5,495.4 L462.0,495.4 L462.5,495.3 L463.0,495.2 L463.5,495.0 L464.0,494.9 L464.5,494.8 L465.0,495.0 L465.5,494.9 L466.0,495.2 L466.5,495.0 L467.0,495.0 L467.5,494.6 L468.0,494.7 L468.5,494.3 L469.0,494.4 L469.5,494.1 L470.0,494.1 L470.5,493.7 L471.0,493.7 L471.5,493.9 L472.0,493.9 L472.5,493.9 L473.0,493.8 L473.5,493.7 L474.0,493.4 L474.5,493.3 L475.0,493.4 L475.5,493.4 L476.0,493.2 L476.5,492.9 L477.0,493.0 L477.5,493.0 L478.0,493.0 L478.5,492.7 L479.0,492.7 L479.5,492.6 L480.0,492.5 L480.5,492.3 L481.0,492.2 L481.5,492.3 L482.0,492.3 L482.5,492.3 L483.0,492.2 L483.5,492.1 L484.0,492.0 L484.5,491.8 L485.0,491.8 L485.5,491.8 L486.0,491.6 L486.5,491.4 L487.0,491.3 L487.5,491.3 L488.0,491.2 L488.5,491.2 L489.0,490.9 L489.5,490.8 L490.0,490.8 L490.5,490.7 L491.0,490.7 L491.5,490.5 L492.0,490.5 L492.5,490.1 L493.0,490.0 L493.5,489.8 L494.0,489.8 L494.5,489.7 L495.0,489.5 L495.5,489.4 L496.0,489.1 L496.5,489.0 L497.0,489.0 L497.5,489.0 L498.0,488.9 L498.5,488.7 L499.0,488.5 L499.5,488.3 L500.0,488.3 L500.5,488.2 L501.0,487.9 L501.5,487.5 L502.0,487.5 L502.5,487.4 L503.0,487.3 L503.5,487.0 L504.0,486.9 L504.5,486.8 L505.0,486.8 L505.5,486.7 L506.0,486.5 L506.5,486.1 L507.0,485.9 L507.5,485.7 L508.0,485.6 L508.5,485.5 L509.0,485.4 L509.5,485.1 L510.0,484.9 L510.5,484.5 L511.0,484.5 L511.5,484.5 L512.0,484.5 L512.5,484.1 L513.0,483.9 L513.5,483.6 L514.0,483.4 L514.5,483.1 L515.0,483.0 L515.5,483.0 L516.0,482.9 L516.5,482.6 L517.0,482.4 L517.5,482.2 L518.0,481.9 L518.5,481.6 L519.0,481.3 L519.5,481.1 L520.0,481.1 L520.5,481.0 L521.0,480.8 L521.5,480.3 L522.0,480.0 L522.5,479.8 L523.0,479.6 L523.5,479.4 L524.0,479.2 L524.5,478.8 L525.0,478.6 L525.5,478.3 L526.0,478.0 L526.5,477.7 L527.0,477.4 L527.5,477.2 L528.0,476.8 L528.5,476.3 L529.0,476.2 L529.5,475.8 L530.0,475.6 L530.5,475.2 L531.0,474.8 L531.5,474.6 L532.0,474.3 L532.5,474.1 L533.0,473.7 L533.5,473.2 L534.0,472.6 L534.5,472.3 L535.0,472.0 L535.5,471.7 L536.0,471.3 L536.5,470.9 L537.0,470.5 L537.5,469.8 L538.0,469.4 L538.5,468.9 L539.0,468.4 L539.5,468.0 L540.0,467.6 L540.5,466.9 L541.0,466.1 L541.5,465.5 L542.0,465.1 L542.5,464.7 L543.0,464.1 L543.5,463.3 L544.0,462.7 L544.5,462.0 L545.0,461.4 L545.5,460.6 L546.0,459.8 L546.5,458.9 L547.0,458.0 L547.5,457.1 L548.0,456.1 L548.5,455.0 L549.0,453.9 L549.5,452.7 L550.0,451.7 L550.5,450.3 L551.0,448.9 L551.5,447.4 L552.0,445.9 L552.5,444.5 L553.0,443.0 L553.5,441.4 L554.0,440.0 L554.5,438.1 L555.0,436.4 L555.5,434.5 L556.0,433.0 L556.5,431.3 L557.0,429.7 L557.5,427.8 L558.0,426.1 L558.5,424.3 L559.0,422.8 L559.5,421.2 L560.0,419.7 L560.5,417.8 L561.0,416.2 L561.5,414.4 L562.0,412.6 L562.5,410.7 L563.0,409.2 L563.5,407.7 L564.0,405.8 L564.5,403.8 L565.0,401.8 L565.5,399.5 L566.0,396.9 L566.5,394.0 L567.0,391.5 L567.5,388.9 L568.0,386.4 L568.5,383.5 L569.0,380.6 L569.5,377.5 L570.0,374.7 L570.5,371.8 L571.0,368.9 L571.5,366.1 L572.0,363.4 L572.5,361.0 L573.0,358.7 L573.5,356.6 L574.0,354.5 L574.5,352.4 L575.0,350.7 L575.5,349.0 L576.0,347.4 L576.5,345.7 L577.0,344.2 L577.5,342.8 L578.0,341.3 L578.5,339.7 L579.0,338.2 L579.5,336.9 L580.0,335.7 L580.5,334.2 L581.0,333.0 L581.5,331.8 L582.0,330.7 L582.5,329.3 L583.0,327.9 L583.5,326.4 L584.0,325.0 L584.5,323.6 L585.0,321.9 L585.5,320.0 L586.0,318.2 L586.5,316.6 L587.0,315.0 L587.5,313.3 L588.0,311.5 L588.5,309.8 L589.0,308.0 L589.5,306.1 L590.0,304.1 L590.5,301.4 L591.0,297.8 L591.5,291.9 L592.0,284.5 L592.5,276.0 L593.0,267.5 L593.5,259.2 L594.0,251.9 L594.5,244.5 L595.0,237.3 L595.5,229.7 L596.0,222.1 L596.5,214.6 L597.0,207.6 L597.5,200.5 L598.0,193.5 L598.5,185.8 L599.0,178.3 L599.5,170.7 L600.0,163.1 L600.5,155.0 L601.0,146.5 L601.5,137.2 L602.0,128.0 L602.5,119.6 L603.0,112.2 L603.5,105.3 L604.0,99.1 L604.5,93.7 L605.0,88.8 L605.5,88.1 L606.0,91.4 L606.5,96.1 L607.0,100.9 L607.5,106.7 L608.0,113.0 L608.5,119.6 L609.0,126.9 L609.5,134.9 L610.0,143.2 L610.5,151.8 L611.0,160.7 L611.5,170.3 L612.0,180.1 L612.5,190.1 L613.0,200.6 L613.5,211.2 L614.0,221.8 L614.5,231.6 L615.0,241.5 L615.5,254.5 L616.0,271.8 L616.5,287.9 L617.0,296.9 L617.5,302.7 L618.0,307.3 L618.5,311.2 L619.0,314.7 L619.5,318.1 L620.0,321.6 L620.5,325.9 L621.0,330.9 L621.5,335.8 L622.0,341.4 L622.5,346.7 L623.0,352.2 L623.5,357.5 L624.0,362.8 L624.5,368.3 L625.0,373.8 L625.5,379.4 L626.0,384.8 L626.5,390.2 L627.0,395.4 L627.5,400.4 L628.0,405.0 L628.5,409.5 L629.0,413.8 L629.5,417.8 L630.0,421.7 L630.5,425.2 L631.0,428.7 L631.5,431.6 L632.0,434.6 L632.5,437.7 L633.0,440.5 L633.5,443.4 L634.0,445.6 L634.5,448.0 L635.0,450.0 L635.5,452.0 L636.0,453.8 L636.5,455.8 L637.0,457.7 L637.5,459.4 L638.0,461.1 L638.5,462.5 L639.0,464.0 L639.5,465.3 L640.0,466.8 L640.5,467.9 L641.0,469.2 L641.5,470.3 L642.0,471.5 L642.5,472.6 L643.0,473.6 L643.5,474.5 L644.0,475.4 L644.5,476.3 L645.0,477.2 L645.5,478.0 L646.0,478.8 L646.5,479.5 L647.0,479.9 L647.5,480.6 L648.0,481.3 L648.5,482.0 L649.0,482.3 L649.5,482.5 L650.0,483.1 L650.5,483.6 L651.0,484.4 L651.5,484.6 L652.0,485.1 L652.5,485.4 L653.0,486.0 L653.5,486.4 L654.0,486.7 L654.5,487.1 L655.0,487.5 L655.5,487.8 L656.0,488.2 L656.5,488.6 L657.0,489.0 L657.5,489.3 L658.0,489.7 L658.5,489.8 L659.0,490.2 L659.5,490.4 L660.0,490.8 L660.5,490.7 L661.0,491.0 L661.5,491.0 L662.0,491.6 L662.5,491.9 L663.0,492.2 L663.5,492.2 L664.0,492.5 L664.5,492.8 L665.0,493.1 L665.5,493.1 L666.0,493.1 L666.5,493.3 L667.0,493.8 L667.5,494.1 L668.0,494.2 L668.5,494.1 L669.0,494.4 L669.5,494.5 L670.0,494.7 L670.5,494.6 L671.0,494.7 L671.5,494.9 L672.0,495.3 L672.5,495.4 L673.0,495.6 L673.5,495.5 L674.0,495.7 L674.5,495.7 L675.0,495.6 L675.5,495.7 L676.0,496.0 L676.5,496.1 L677.0,496.3 L677.5,496.3 L678.0,496.3 L678.5,496.5 L679.0,496.5 L679.5,496.7 L680.0,496.9 L680.5,497.0 L681.0,497.0 L681.5,497.1 L682.0,497.2 L682.5,497.3 L683.0,497.3 L683.5,497.2 L684.0,497.4 L684.5,497.4 L685.0,497.6 L685.5,497.7 L686.0,497.9 L686.5,498.0 L687.0,497.8 L687.5,497.7 L688.0,497.9 L688.5,498.0 L689.0,498.1 L689.5,498.3 L690.0,498.3 L690.5,498.3 L691.0,498.1 L691.5,498.2 L692.0,498.3 L692.5,498.3 L693.0,498.4 L693.5,498.5 L694.0,498.5 L694.5,498.2 L695.0,498.3 L695.5,498.3 L696.0,498.4 L696.5,498.4 L697.0,498.4 L697.5,498.4 L698.0,498.4 L698.5,498.5 L699.0,498.7 L699.5,498.6 L700.0,498.6 L700.5,498.5 L701.0,498.6 L701.5,498.7 L702.0,498.8 L702.5,498.7 L703.0,498.7 L703.5,498.7 L704.0,499.0 L704.5,499.0 L705.0,499.0 L705.5,498.8 L706.0,499.0 L706.5,499.0 L707.0,499.0 L707.5,498.8 L708.0,498.8 L708.5,499.0 L709.0,499.0 L709.5,499.2 L710.0,499.1 L710.5,499.0 L711.0,499.1 L711.5,499.3 L712.0,499.6 L712.5,499.6 L713.0,499.4 L713.5,499.2 L714.0,499.1 L714.5,499.3 L715.0,499.3 L715.5,499.4 L716.0,499.3 L716.5,499.4 L717.0,499.5 L717.5,499.5 L718.0,499.3 L718.5,499.1 L719.0,499.3 L719.5,499.5 L720.0,499.6 L720.5,499.3 L721.0,499.4 L721.5,499.5 L722.0,499.6 L722.5,499.5 L723.0,499.4 L723.5,499.4 L724.0,499.5 L724.5,499.7 L725.0,499.6 L725.5,499.4 L726.0,499.3 L726.5,499.5 L727.0,499.5 L727.5,499.4 L728.0,499.4 L728.5,499.5 L729.0,499.6 L729.5,499.6 L730.0,499.7 L730.5,499.8 L731.0,499.9 L731.5,499.9 L732.0,499.8 L732.5,499.7 L733.0,499.7 L733.5,499.8 L734.0,500.0 L734.5,499.9 L735.0,500.0 L735.5,499.9 L736.0,499.8 L736.5,499.8 L737.0,499.7 L737.5,499.9 L738.0,499.9 L738.5,500.0 L738.8,499.9" fill="none" stroke="#009dff" stroke-width="4.4" stroke-linejoin="round" stroke-linecap="butt"/><path d="M130.0,503.5 L130.5,503.5 L131.0,503.2 L131.5,503.1 L132.0,503.1 L132.5,503.2 L133.0,503.2 L133.5,503.2 L134.0,503.2 L134.5,503.1 L135.0,503.2 L135.5,503.3 L136.0,503.6 L136.5,503.5 L137.0,503.4 L137.5,503.2 L138.0,503.1 L138.5,503.2 L139.0,503.1 L139.5,503.2 L140.0,503.1 L140.5,503.3 L141.0,503.4 L141.5,503.4 L142.0,503.2 L142.5,503.2 L143.0,503.3 L143.5,503.3 L144.0,503.2 L144.5,503.3 L145.0,503.5 L145.5,503.4 L146.0,503.3 L146.5,503.1 L147.0,503.0 L147.5,502.9 L148.0,502.9 L148.5,503.2 L149.0,503.3 L149.5,503.2 L150.0,503.2 L150.5,503.2 L151.0,503.2 L151.5,503.1 L152.0,503.0 L152.5,503.1 L153.0,503.2 L153.5,503.0 L154.0,503.1 L154.5,503.2 L155.0,503.4 L155.5,503.5 L156.0,503.6 L156.5,503.6 L157.0,503.4 L157.5,503.4 L158.0,503.1 L158.5,503.1 L159.0,502.9 L159.5,503.2 L160.0,503.3 L160.5,503.5 L161.0,503.5 L161.5,503.4 L162.0,503.4 L162.5,503.2 L163.0,503.2 L163.5,503.2 L164.0,503.4 L164.5,503.4 L165.0,503.4 L165.5,503.3 L166.0,503.5 L166.5,503.5 L167.0,503.5 L167.5,503.4 L168.0,503.4 L168.5,503.2 L169.0,503.3 L169.5,503.2 L170.0,503.3 L170.5,503.2 L171.0,503.3 L171.5,503.3 L172.0,503.3 L172.5,503.4 L173.0,503.3 L173.5,502.9 L174.0,502.9 L174.5,502.9 L175.0,503.1 L175.5,503.1 L176.0,503.2 L176.5,503.2 L177.0,503.2 L177.5,503.3 L178.0,503.2 L178.5,503.2 L179.0,503.4 L179.5,503.5 L180.0,503.4 L180.5,503.2 L181.0,503.2 L181.5,503.4 L182.0,503.4 L182.5,503.3 L183.0,503.2 L183.5,503.2 L184.0,503.3 L184.5,503.3 L185.0,503.2 L185.5,503.2 L186.0,503.3 L186.5,503.2 L187.0,503.3 L187.5,503.3 L188.0,503.4 L188.5,503.3 L189.0,503.4 L189.5,503.3 L190.0,503.4 L190.5,503.2 L191.0,503.1 L191.5,503.1 L192.0,503.2 L192.5,503.3 L193.0,503.3 L193.5,503.2 L194.0,503.2 L194.5,503.1 L195.0,503.4 L195.5,503.5 L196.0,503.5 L196.5,503.3 L197.0,503.2 L197.5,503.2 L198.0,503.3 L198.5,503.3 L199.0,503.1 L199.5,503.0 L200.0,503.0 L200.5,503.2 L201.0,503.4 L201.5,503.3 L202.0,503.4 L202.5,503.3 L203.0,503.3 L203.5,503.4 L204.0,503.4 L204.5,503.3 L205.0,503.3 L205.5,503.2 L206.0,503.2 L206.5,503.2 L207.0,503.3 L207.5,503.2 L208.0,503.2 L208.5,503.2 L209.0,503.3 L209.5,503.3 L210.0,503.3 L210.5,503.2 L211.0,503.1 L211.5,503.3 L212.0,503.4 L212.5,503.3 L213.0,503.2 L213.5,503.2 L214.0,503.3 L214.5,503.3 L215.0,503.3 L215.5,503.2 L216.0,503.1 L216.5,503.2 L217.0,503.0 L217.5,503.0 L218.0,503.0 L218.5,503.2 L219.0,503.4 L219.5,503.5 L220.0,503.5 L220.5,503.4 L221.0,503.2 L221.5,503.0 L222.0,503.0 L222.5,502.9 L223.0,503.1 L223.5,503.2 L224.0,503.3 L224.5,503.2 L225.0,503.0 L225.5,503.0 L226.0,503.1 L226.5,503.3 L227.0,503.2 L227.5,503.4 L228.0,503.4 L228.5,503.5 L229.0,503.3 L229.5,503.2 L230.0,503.2 L230.5,503.2 L231.0,503.3 L231.5,503.3 L232.0,503.5 L232.5,503.5 L233.0,503.4 L233.5,503.4 L234.0,503.2 L234.5,503.2 L235.0,503.3 L235.5,503.3 L236.0,503.5 L236.5,503.3 L237.0,503.4 L237.5,503.3 L238.0,503.3 L238.5,503.4 L239.0,503.2 L239.5,503.2 L240.0,503.1 L240.5,503.1 L241.0,503.3 L241.5,503.3 L242.0,503.5 L242.5,503.1 L243.0,503.1 L243.5,503.0 L244.0,503.2 L244.5,503.3 L245.0,503.3 L245.5,503.3 L246.0,503.3 L246.5,503.5 L247.0,503.5 L247.5,503.5 L248.0,503.2 L248.5,503.2 L249.0,503.1 L249.5,503.1 L250.0,503.3 L250.5,503.5 L251.0,503.6 L251.5,503.4 L252.0,503.5 L252.5,503.5 L253.0,503.6 L253.5,503.5 L254.0,503.5 L254.5,503.4 L255.0,503.1 L255.5,503.0 L256.0,502.9 L256.5,503.0 L257.0,503.0 L257.5,502.9 L258.0,503.0 L258.5,503.2 L259.0,503.3 L259.5,503.3 L260.0,503.2 L260.5,503.1 L261.0,503.2 L261.5,503.1 L262.0,503.2 L262.5,503.0 L263.0,503.0 L263.5,502.8 L264.0,502.9 L264.5,502.9 L265.0,502.7 L265.5,503.0 L266.0,502.9 L266.5,503.0 L267.0,502.8 L267.5,502.9 L268.0,502.6 L268.5,502.6 L269.0,502.4 L269.5,502.6 L270.0,502.5 L270.5,502.6 L271.0,502.5 L271.5,502.6 L272.0,502.8 L272.5,502.8 L273.0,502.6 L273.5,502.4 L274.0,502.5 L274.5,502.6 L275.0,502.5 L275.5,502.3 L276.0,502.0 L276.5,501.9 L277.0,501.8 L277.5,501.9 L278.0,501.9 L278.5,502.1 L279.0,502.1 L279.5,502.1 L280.0,501.8 L280.5,501.7 L281.0,501.9 L281.5,501.8 L282.0,501.7 L282.5,501.6 L283.0,501.6 L283.5,501.7 L284.0,501.8 L284.5,501.7 L285.0,501.8 L285.5,501.5 L286.0,501.5 L286.5,501.4 L287.0,501.2 L287.5,501.2 L288.0,501.0 L288.5,501.1 L289.0,500.9 L289.5,501.1 L290.0,501.0 L290.5,501.2 L291.0,501.0 L291.5,500.7 L292.0,500.3 L292.5,500.1 L293.0,500.2 L293.5,500.3 L294.0,500.3 L294.5,500.2 L295.0,499.9 L295.5,499.8 L296.0,499.8 L296.5,499.7 L297.0,499.4 L297.5,499.1 L298.0,499.0 L298.5,499.2 L299.0,499.0 L299.5,499.0 L300.0,498.6 L300.5,498.7 L301.0,498.7 L301.5,499.0 L302.0,498.7 L302.5,498.5 L303.0,498.1 L303.5,498.2 L304.0,498.1 L304.5,498.3 L305.0,498.3 L305.5,498.3 L306.0,498.4 L306.5,498.4 L307.0,498.4 L307.5,498.2 L308.0,498.1 L308.5,498.1 L309.0,498.3 L309.5,498.4 L310.0,498.7 L310.5,498.6 L311.0,498.6 L311.5,498.6 L312.0,498.7 L312.5,498.8 L313.0,498.8 L313.5,499.0 L314.0,499.0 L314.5,499.3 L315.0,499.2 L315.5,499.4 L316.0,499.3 L316.5,499.4 L317.0,499.3 L317.5,499.6 L318.0,499.7 L318.5,499.7 L319.0,499.7 L319.5,499.6 L320.0,499.8 L320.5,499.8 L321.0,500.0 L321.5,499.9 L322.0,500.1 L322.5,500.1 L323.0,500.3 L323.5,500.4 L324.0,500.5 L324.5,500.5 L325.0,500.6 L325.5,500.5 L326.0,500.5 L326.5,500.6 L327.0,501.0 L327.5,501.2 L328.0,501.3 L328.5,501.3 L329.0,501.1 L329.5,501.1 L330.0,501.2 L330.5,501.5 L331.0,501.5 L331.5,501.5 L332.0,501.5 L332.5,501.8 L333.0,501.8 L333.5,501.8 L334.0,501.6 L334.5,501.6 L335.0,501.7 L335.5,501.8 L336.0,502.0 L336.5,502.2 L337.0,502.3 L337.5,502.2 L338.0,502.2 L338.5,502.1 L339.0,502.2 L339.5,502.3 L340.0,502.4 L340.5,502.2 L341.0,502.1 L341.5,502.1 L342.0,502.2 L342.5,502.2 L343.0,502.3 L343.5,502.6 L344.0,502.7 L344.5,502.7 L345.0,502.6 L345.5,502.6 L346.0,502.5 L346.5,502.4 L347.0,502.5 L347.5,502.4 L348.0,502.3 L348.5,502.4 L349.0,502.7 L349.5,502.9 L350.0,502.7 L350.5,502.8 L351.0,502.7 L351.5,502.6 L352.0,502.5 L352.5,502.4 L353.0,502.6 L353.5,502.5 L354.0,502.6 L354.5,502.6 L355.0,502.6 L355.5,502.6 L356.0,502.6 L356.5,502.6 L357.0,502.6 L357.5,502.5 L358.0,502.5 L358.5,502.4 L359.0,502.3 L359.5,502.3 L360.0,502.5 L360.5,502.5 L361.0,502.6 L361.5,502.3 L362.0,502.3 L362.5,502.5 L363.0,502.6 L363.5,502.6 L364.0,502.5 L364.5,502.4 L365.0,502.3 L365.5,502.3 L366.0,502.2 L366.5,502.3 L367.0,502.5 L367.5,502.6 L368.0,502.5 L368.5,502.4 L369.0,502.3 L369.5,502.3 L370.0,502.4 L370.5,502.5 L371.0,502.6 L371.5,502.5 L372.0,502.3 L372.5,502.3 L373.0,502.5 L373.5,502.5 L374.0,502.4 L374.5,502.4 L375.0,502.5 L375.5,502.6 L376.0,502.5 L376.5,502.5 L377.0,502.4 L377.5,502.5 L378.0,502.5 L378.5,502.5 L379.0,502.3 L379.5,502.5 L380.0,502.3 L380.5,502.5 L381.0,502.3 L381.5,502.4 L382.0,502.5 L382.5,502.4 L383.0,502.5 L383.5,502.4 L384.0,502.4 L384.5,502.3 L385.0,502.2 L385.5,502.2 L386.0,502.3 L386.5,502.4 L387.0,502.6 L387.5,502.5 L388.0,502.4 L388.5,502.2 L389.0,502.1 L389.5,502.2 L390.0,502.3 L390.5,502.3 L391.0,502.4 L391.5,502.2 L392.0,502.2 L392.5,502.1 L393.0,502.4 L393.5,502.6 L394.0,502.5 L394.5,502.3 L395.0,502.4 L395.5,502.5 L396.0,502.4 L396.5,502.3 L397.0,502.2 L397.5,502.3 L398.0,502.5 L398.5,502.7 L399.0,502.6 L399.5,502.4 L400.0,502.2 L400.5,502.2 L401.0,502.3 L401.5,502.4 L402.0,502.4 L402.5,502.5 L403.0,502.4 L403.5,502.3 L404.0,502.0 L404.5,502.0 L405.0,502.0 L405.5,501.9 L406.0,502.1 L406.5,502.2 L407.0,502.3 L407.5,502.2 L408.0,502.0 L408.5,502.0 L409.0,502.2 L409.5,502.1 L410.0,502.2 L410.5,502.1 L411.0,502.3 L411.5,502.3 L412.0,502.3 L412.5,502.1 L413.0,502.2 L413.5,502.3 L414.0,502.3 L414.5,502.1 L415.0,502.0 L415.5,502.2 L416.0,502.4 L416.5,502.4 L417.0,502.2 L417.5,502.0 L418.0,502.0 L418.5,502.1 L419.0,502.1 L419.5,502.0 L420.0,502.0 L420.5,502.2 L421.0,502.1 L421.5,502.1 L422.0,501.9 L422.5,501.9 L423.0,501.9 L423.5,502.1 L424.0,502.4 L424.5,502.4 L425.0,502.3 L425.5,502.1 L426.0,502.0 L426.5,502.0 L427.0,501.8 L427.5,502.0 L428.0,502.1 L428.5,502.2 L429.0,502.0 L429.5,502.0 L430.0,502.0 L430.5,502.0 L431.0,501.9 L431.5,501.8 L432.0,501.8 L432.5,501.8 L433.0,502.0 L433.5,501.9 L434.0,501.7 L434.5,501.8 L435.0,501.8 L435.5,501.8 L436.0,501.7 L436.5,501.8 L437.0,501.8 L437.5,501.9 L438.0,501.9 L438.5,501.9 L439.0,502.0 L439.5,501.9 L440.0,501.8 L440.5,501.6 L441.0,501.6 L441.5,501.6 L442.0,501.7 L442.5,501.7 L443.0,501.6 L443.5,501.4 L444.0,501.6 L444.5,501.5 L445.0,501.6 L445.5,501.4 L446.0,501.4 L446.5,501.3 L447.0,501.5 L447.5,501.6 L448.0,501.6 L448.5,501.3 L449.0,501.2 L449.5,501.3 L450.0,501.5 L450.5,501.4 L451.0,501.3 L451.5,501.1 L452.0,501.2 L452.5,501.1 L453.0,501.1 L453.5,501.2 L454.0,501.2 L454.5,501.2 L455.0,501.2 L455.5,501.4 L456.0,501.3 L456.5,501.4 L457.0,501.4 L457.5,501.3 L458.0,501.2 L458.5,501.0 L459.0,501.2 L459.5,501.0 L460.0,501.1 L460.5,501.0 L461.0,501.1 L461.5,501.1 L462.0,501.2 L462.5,501.1 L463.0,501.1 L463.5,500.9 L464.0,500.9 L464.5,500.8 L465.0,501.0 L465.5,501.0 L466.0,501.3 L466.5,501.2 L467.0,501.2 L467.5,500.9 L468.0,501.0 L468.5,500.7 L469.0,500.8 L469.5,500.6 L470.0,500.6 L470.5,500.3 L471.0,500.3 L471.5,500.5 L472.0,500.6 L472.5,500.6 L473.0,500.6 L473.5,500.6 L474.0,500.3 L474.5,500.3 L475.0,500.4 L475.5,500.5 L476.0,500.3 L476.5,500.1 L477.0,500.2 L477.5,500.3 L478.0,500.3 L478.5,500.1 L479.0,500.2 L479.5,500.2 L480.0,500.1 L480.5,499.9 L481.0,499.9 L481.5,500.1 L482.0,500.2 L482.5,500.2 L483.0,500.1 L483.5,500.1 L484.0,500.0 L484.5,500.0 L485.0,500.0 L485.5,500.0 L486.0,499.9 L486.5,499.8 L487.0,499.8 L487.5,499.8 L488.0,499.8 L488.5,499.8 L489.0,499.6 L489.5,499.6 L490.0,499.7 L490.5,499.6 L491.0,499.7 L491.5,499.6 L492.0,499.7 L492.5,499.3 L493.0,499.4 L493.5,499.3 L494.0,499.4 L494.5,499.3 L495.0,499.2 L495.5,499.2 L496.0,499.0 L496.5,499.0 L497.0,499.1 L497.5,499.2 L498.0,499.3 L498.5,499.1 L499.0,499.1 L499.5,499.0 L500.0,499.1 L500.5,499.1 L501.0,499.0 L501.5,498.7 L502.0,498.7 L502.5,498.8 L503.0,498.8 L503.5,498.6 L504.0,498.6 L504.5,498.7 L505.0,498.8 L505.5,498.8 L506.0,498.8 L506.5,498.5 L507.0,498.4 L507.5,498.3 L508.0,498.4 L508.5,498.4 L509.0,498.4 L509.5,498.2 L510.0,498.2 L510.5,497.9 L511.0,498.1 L511.5,498.2 L512.0,498.3 L512.5,498.1 L513.0,498.0 L513.5,497.9 L514.0,497.8 L514.5,497.7 L515.0,497.7 L515.5,497.8 L516.0,497.9 L516.5,497.8 L517.0,497.7 L517.5,497.7 L518.0,497.6 L518.5,497.4 L519.0,497.3 L519.5,497.3 L520.0,497.5 L520.5,497.5 L521.0,497.4 L521.5,497.2 L522.0,497.1 L522.5,497.0 L523.0,497.0 L523.5,496.9 L524.0,497.0 L524.5,496.8 L525.0,496.8 L525.5,496.7 L526.0,496.6 L526.5,496.5 L527.0,496.4 L527.5,496.4 L528.0,496.3 L528.5,496.0 L529.0,496.0 L529.5,495.9 L530.0,495.9 L530.5,495.8 L531.0,495.6 L531.5,495.7 L532.0,495.5 L532.5,495.7 L533.0,495.4 L533.5,495.2 L534.0,494.9 L534.5,494.9 L535.0,494.8 L535.5,494.8 L536.0,494.7 L536.5,494.6 L537.0,494.4 L537.5,494.2 L538.0,494.1 L538.5,493.8 L539.0,493.7 L539.5,493.7 L540.0,493.7 L540.5,493.3 L541.0,492.9 L541.5,492.7 L542.0,492.8 L542.5,492.7 L543.0,492.6 L543.5,492.3 L544.0,492.3 L544.5,492.1 L545.0,492.1 L545.5,491.8 L546.0,491.7 L546.5,491.4 L547.0,491.1 L547.5,490.9 L548.0,490.7 L548.5,490.4 L549.0,490.3 L549.5,490.1 L550.0,490.1 L550.5,489.7 L551.0,489.4 L551.5,489.0 L552.0,488.7 L552.5,488.4 L553.0,488.2 L553.5,487.9 L554.0,487.8 L554.5,487.3 L555.0,487.0 L555.5,486.5 L556.0,486.4 L556.5,486.2 L557.0,485.9 L557.5,485.3 L558.0,484.9 L558.5,484.5 L559.0,484.2 L559.5,483.9 L560.0,483.7 L560.5,483.1 L561.0,482.9 L561.5,482.2 L562.0,481.6 L562.5,480.8 L563.0,480.4 L563.5,480.1 L564.0,479.4 L564.5,478.9 L565.0,478.3 L565.5,477.7 L566.0,476.9 L566.5,475.9 L567.0,475.3 L567.5,474.6 L568.0,474.0 L568.5,473.2 L569.0,472.3 L569.5,471.3 L570.0,470.3 L570.5,469.1 L571.0,467.9 L571.5,466.8 L572.0,465.6 L572.5,464.5 L573.0,463.3 L573.5,462.1 L574.0,460.7 L574.5,459.1 L575.0,457.8 L575.5,456.5 L576.0,455.2 L576.5,453.7 L577.0,452.4 L577.5,451.1 L578.0,449.6 L578.5,448.0 L579.0,446.5 L579.5,445.0 L580.0,443.6 L580.5,441.8 L581.0,440.0 L581.5,438.3 L582.0,436.5 L582.5,434.6 L583.0,432.5 L583.5,430.4 L584.0,428.4 L584.5,426.4 L585.0,424.2 L585.5,421.7 L586.0,419.4 L586.5,417.1 L587.0,414.8 L587.5,412.3 L588.0,409.5 L588.5,406.5 L589.0,403.3 L589.5,400.0 L590.0,396.8 L590.5,393.2 L591.0,389.6 L591.5,385.7 L592.0,381.9 L592.5,377.6 L593.0,373.3 L593.5,368.5 L594.0,364.0 L594.5,359.4 L595.0,355.2 L595.5,350.8 L596.0,346.4 L596.5,342.0 L597.0,338.1 L597.5,334.1 L598.0,330.4 L598.5,326.1 L599.0,322.4 L599.5,318.5 L600.0,314.9 L600.5,311.2 L601.0,307.4 L601.5,303.6 L602.0,299.9 L602.5,296.3 L603.0,292.5 L603.5,288.7 L604.0,284.8 L604.5,281.3 L605.0,277.9 L605.5,274.5 L606.0,271.0 L606.5,267.7 L607.0,264.4 L607.5,261.4 L608.0,258.3 L608.5,255.0 L609.0,251.5 L609.5,248.5 L610.0,246.1 L610.5,244.4 L611.0,242.8 L611.5,242.3 L612.0,242.9 L612.5,244.3 L613.0,245.9 L613.5,247.7 L614.0,250.2 L614.5,253.3 L615.0,256.7 L615.5,260.4 L616.0,265.0 L616.5,270.4 L617.0,275.9 L617.5,281.1 L618.0,285.7 L618.5,290.2 L619.0,294.8 L619.5,300.0 L620.0,306.4 L620.5,313.8 L621.0,321.4 L621.5,327.7 L622.0,333.5 L622.5,338.5 L623.0,343.4 L623.5,348.0 L624.0,352.7 L624.5,357.9 L625.0,363.4 L625.5,369.5 L626.0,376.0 L626.5,382.8 L627.0,389.8 L627.5,396.6 L628.0,403.1 L628.5,409.2 L629.0,414.4 L629.5,419.2 L630.0,423.7 L630.5,427.8 L631.0,431.9 L631.5,435.6 L632.0,439.5 L632.5,443.3 L633.0,446.9 L633.5,450.3 L634.0,453.0 L634.5,455.9 L635.0,458.3 L635.5,460.7 L636.0,462.9 L636.5,465.0 L637.0,466.9 L637.5,468.6 L638.0,470.2 L638.5,471.5 L639.0,472.9 L639.5,474.1 L640.0,475.4 L640.5,476.4 L641.0,477.6 L641.5,478.5 L642.0,479.6 L642.5,480.6 L643.0,481.5 L643.5,482.3 L644.0,483.2 L644.5,484.0 L645.0,484.8 L645.5,485.6 L646.0,486.3 L646.5,486.9 L647.0,487.3 L647.5,487.9 L648.0,488.5 L648.5,489.1 L649.0,489.5 L649.5,489.6 L650.0,490.1 L650.5,490.5 L651.0,491.2 L651.5,491.3 L652.0,491.8 L652.5,492.0 L653.0,492.5 L653.5,492.8 L654.0,493.0 L654.5,493.3 L655.0,493.6 L655.5,493.9 L656.0,494.1 L656.5,494.4 L657.0,494.7 L657.5,494.9 L658.0,495.2 L658.5,495.3 L659.0,495.6 L659.5,495.6 L660.0,496.0 L660.5,495.8 L661.0,495.9 L661.5,495.9 L662.0,496.3 L662.5,496.6 L663.0,496.7 L663.5,496.7 L664.0,496.9 L664.5,497.1 L665.0,497.4 L665.5,497.2 L666.0,497.2 L666.5,497.3 L667.0,497.7 L667.5,497.9 L668.0,498.0 L668.5,497.8 L669.0,498.1 L669.5,498.1 L670.0,498.2 L670.5,498.0 L671.0,498.1 L671.5,498.3 L672.0,498.6 L672.5,498.6 L673.0,498.8 L673.5,498.7 L674.0,498.8 L674.5,498.7 L675.0,498.7 L675.5,498.7 L676.0,499.0 L676.5,499.1 L677.0,499.2 L677.5,499.2 L678.0,499.2 L678.5,499.3 L679.0,499.2 L679.5,499.5 L680.0,499.6 L680.5,499.7 L681.0,499.7 L681.5,499.7 L682.0,499.8 L682.5,499.8 L683.0,499.8 L683.5,499.7 L684.0,499.9 L684.5,499.9 L685.0,500.1 L685.5,500.1 L686.0,500.4 L686.5,500.4 L687.0,500.2 L687.5,500.1 L688.0,500.3 L688.5,500.4 L689.0,500.5 L689.5,500.7 L690.0,500.6 L690.5,500.6 L691.0,500.4 L691.5,500.6 L692.0,500.7 L692.5,500.7 L693.0,500.8 L693.5,500.9 L694.0,500.9 L694.5,500.6 L695.0,500.7 L695.5,500.7 L696.0,500.9 L696.5,500.8 L697.0,500.8 L697.5,500.8 L698.0,500.9 L698.5,501.0 L699.0,501.1 L699.5,501.0 L700.0,501.1 L700.5,501.0 L701.0,501.0 L701.5,501.1 L702.0,501.2 L702.5,501.1 L703.0,501.1 L703.5,501.1 L704.0,501.4 L704.5,501.4 L705.0,501.3 L705.5,501.1 L706.0,501.3 L706.5,501.3 L707.0,501.3 L707.5,501.1 L708.0,501.1 L708.5,501.3 L709.0,501.3 L709.5,501.5 L710.0,501.3 L710.5,501.3 L711.0,501.3 L711.5,501.5 L712.0,501.8 L712.5,501.8 L713.0,501.6 L713.5,501.3 L714.0,501.2 L714.5,501.5 L715.0,501.5 L715.5,501.5 L716.0,501.4 L716.5,501.5 L717.0,501.6 L717.5,501.6 L718.0,501.3 L718.5,501.1 L719.0,501.3 L719.5,501.5 L720.0,501.6 L720.5,501.4 L721.0,501.4 L721.5,501.5 L722.0,501.6 L722.5,501.4 L723.0,501.4 L723.5,501.4 L724.0,501.5 L724.5,501.6 L725.0,501.5 L725.5,501.3 L726.0,501.2 L726.5,501.4 L727.0,501.4 L727.5,501.3 L728.0,501.3 L728.5,501.4 L729.0,501.4 L729.5,501.4 L730.0,501.5 L730.5,501.7 L731.0,501.7 L731.5,501.7 L732.0,501.5 L732.5,501.5 L733.0,501.5 L733.5,501.6 L734.0,501.7 L734.5,501.7 L735.0,501.7 L735.5,501.6 L736.0,501.5 L736.5,501.5 L737.0,501.4 L737.5,501.6 L738.0,501.5 L738.5,501.6 L738.8,501.5" fill="none" stroke="#ff0000" stroke-width="4.4" stroke-linejoin="round" stroke-linecap="butt"/></g>
<line x1="130.00" y1="80.65" x2="130.00" y2="523.60" stroke="#000" stroke-width="1.5"/>
<line x1="125.80" y1="81.40" x2="738.80" y2="81.40" stroke="#000" stroke-width="1.5"/>
<line x1="130.00" y1="515.00" x2="739.55" y2="515.00" stroke="#000" stroke-width="1.5"/>
<line x1="738.80" y1="81.40" x2="738.80" y2="523.60" stroke="#000" stroke-width="1.5"/>
<line x1="130.00" y1="515.00" x2="130.00" y2="523.80" stroke="#000" stroke-width="1.5"/>
<line x1="130.00" y1="81.40" x2="130.00" y2="90.20" stroke="#000" stroke-width="1.5"/>
<line x1="190.88" y1="515.00" x2="190.88" y2="519.50" stroke="#000" stroke-width="1.5"/>
<line x1="190.88" y1="81.40" x2="190.88" y2="85.90" stroke="#000" stroke-width="1.5"/>
<line x1="251.76" y1="515.00" x2="251.76" y2="523.80" stroke="#000" stroke-width="1.5"/>
<line x1="251.76" y1="81.40" x2="251.76" y2="90.20" stroke="#000" stroke-width="1.5"/>
<line x1="312.64" y1="515.00" x2="312.64" y2="519.50" stroke="#000" stroke-width="1.5"/>
<line x1="312.64" y1="81.40" x2="312.64" y2="85.90" stroke="#000" stroke-width="1.5"/>
<line x1="373.52" y1="515.00" x2="373.52" y2="523.80" stroke="#000" stroke-width="1.5"/>
<line x1="373.52" y1="81.40" x2="373.52" y2="90.20" stroke="#000" stroke-width="1.5"/>
<line x1="434.40" y1="515.00" x2="434.40" y2="519.50" stroke="#000" stroke-width="1.5"/>
<line x1="434.40" y1="81.40" x2="434.40" y2="85.90" stroke="#000" stroke-width="1.5"/>
<line x1="495.28" y1="515.00" x2="495.28" y2="523.80" stroke="#000" stroke-width="1.5"/>
<line x1="495.28" y1="81.40" x2="495.28" y2="90.20" stroke="#000" stroke-width="1.5"/>
<line x1="556.16" y1="515.00" x2="556.16" y2="519.50" stroke="#000" stroke-width="1.5"/>
<line x1="556.16" y1="81.40" x2="556.16" y2="85.90" stroke="#000" stroke-width="1.5"/>
<line x1="617.04" y1="515.00" x2="617.04" y2="523.80" stroke="#000" stroke-width="1.5"/>
<line x1="617.04" y1="81.40" x2="617.04" y2="90.20" stroke="#000" stroke-width="1.5"/>
<line x1="677.92" y1="515.00" x2="677.92" y2="519.50" stroke="#000" stroke-width="1.5"/>
<line x1="677.92" y1="81.40" x2="677.92" y2="85.90" stroke="#000" stroke-width="1.5"/>
<line x1="738.80" y1="515.00" x2="738.80" y2="523.80" stroke="#000" stroke-width="1.5"/>
<line x1="738.80" y1="81.40" x2="738.80" y2="90.20" stroke="#000" stroke-width="1.5"/>
<line x1="121.80" y1="503.60" x2="130.00" y2="503.60" stroke="#000" stroke-width="1.5"/>
<line x1="738.80" y1="503.60" x2="747.00" y2="503.60" stroke="#000" stroke-width="1.5"/>
<line x1="125.80" y1="443.23" x2="130.00" y2="443.23" stroke="#000" stroke-width="1.5"/>
<line x1="738.80" y1="443.23" x2="743.00" y2="443.23" stroke="#000" stroke-width="1.5"/>
<line x1="121.80" y1="382.85" x2="130.00" y2="382.85" stroke="#000" stroke-width="1.5"/>
<line x1="738.80" y1="382.85" x2="747.00" y2="382.85" stroke="#000" stroke-width="1.5"/>
<line x1="125.80" y1="322.48" x2="130.00" y2="322.48" stroke="#000" stroke-width="1.5"/>
<line x1="738.80" y1="322.48" x2="743.00" y2="322.48" stroke="#000" stroke-width="1.5"/>
<line x1="121.80" y1="262.10" x2="130.00" y2="262.10" stroke="#000" stroke-width="1.5"/>
<line x1="738.80" y1="262.10" x2="747.00" y2="262.10" stroke="#000" stroke-width="1.5"/>
<line x1="125.80" y1="201.73" x2="130.00" y2="201.73" stroke="#000" stroke-width="1.5"/>
<line x1="738.80" y1="201.73" x2="743.00" y2="201.73" stroke="#000" stroke-width="1.5"/>
<line x1="121.80" y1="141.35" x2="130.00" y2="141.35" stroke="#000" stroke-width="1.5"/>
<line x1="738.80" y1="141.35" x2="747.00" y2="141.35" stroke="#000" stroke-width="1.5"/>
<line x1="125.80" y1="80.98" x2="130.00" y2="80.98" stroke="#000" stroke-width="1.5"/>
<line x1="738.80" y1="80.98" x2="743.00" y2="80.98" stroke="#000" stroke-width="1.5"/>
<text x="130.00" y="553.80" font-size="29.3" fill="#000" text-anchor="middle" >1200</text>
<text x="251.76" y="553.80" font-size="29.3" fill="#000" text-anchor="middle" >1300</text>
<text x="373.52" y="553.80" font-size="29.3" fill="#000" text-anchor="middle" >1400</text>
<text x="495.28" y="553.80" font-size="29.3" fill="#000" text-anchor="middle" >1500</text>
<text x="617.04" y="553.80" font-size="29.3" fill="#000" text-anchor="middle" >1600</text>
<text x="738.80" y="553.80" font-size="29.3" fill="#000" text-anchor="middle" >1700</text>
<text x="114.30" y="512.20" font-size="29.3" fill="#000" text-anchor="end" >0</text>
<text x="114.30" y="391.45" font-size="29.3" fill="#000" text-anchor="end" >20</text>
<text x="114.30" y="270.70" font-size="29.3" fill="#000" text-anchor="end" >40</text>
<text x="114.30" y="149.95" font-size="29.3" fill="#000" text-anchor="end" >60</text>
<text x="276.60" y="603.70" font-size="38.5" fill="#000" text-anchor="start" >Raman shift (cm<tspan font-size="26" dy="-14.5">-1</tspan><tspan dy="14.5">)</tspan></text>
<text transform="translate(52,298) rotate(-90)" font-size="38" text-anchor="middle">Intensity</text>
<text x="15.10" y="65.80" font-size="45.5" fill="#000" text-anchor="start" >(a)</text>
<rect x="192.50" y="33.90" width="321.60" height="244.00" fill="#fff"/>
<g clip-path="url(#clipAI)"><path d="M192.8,242.4 L193.3,242.2 L193.8,241.1 L194.3,240.0 L194.8,240.2 L195.3,241.4 L195.8,241.1 L196.3,241.5 L196.8,241.9 L197.3,241.3 L197.8,240.6 L198.3,240.9 L198.8,241.7 L199.3,242.3 L199.8,241.3 L200.3,240.5 L200.8,241.5 L201.3,242.8 L201.8,242.5 L202.3,241.4 L202.8,241.9 L203.3,242.1 L203.8,242.0 L204.3,242.9 L204.8,242.8 L205.3,242.1 L205.8,242.2 L206.3,241.8 L206.8,241.4 L207.3,241.4 L207.8,241.4 L208.3,241.5 L208.8,241.5 L209.3,241.6 L209.8,241.7 L210.3,241.9 L210.8,242.1 L211.3,242.7 L211.8,241.8 L212.3,241.8 L212.8,242.4 L213.3,241.2 L213.8,241.2 L214.3,241.9 L214.8,242.5 L215.3,241.9 L215.8,241.5 L216.3,242.1 L216.8,241.1 L217.3,240.5 L217.8,241.6 L218.3,242.5 L218.8,242.8 L219.3,242.7 L219.8,242.3 L220.3,242.1 L220.8,242.4 L221.3,241.9 L221.8,241.2 L222.3,241.8 L222.8,241.0 L223.3,241.4 L223.8,241.8 L224.3,241.0 L224.8,242.4 L225.3,242.0 L225.8,240.6 L226.3,241.7 L226.8,241.4 L227.3,240.3 L227.8,241.1 L228.3,241.4 L228.8,241.4 L229.3,241.3 L229.8,241.6 L230.3,241.8 L230.8,241.4 L231.3,240.4 L231.8,239.7 L232.3,239.0 L232.8,239.6 L233.3,239.6 L233.8,239.6 L234.3,241.3 L234.8,240.3 L235.3,238.9 L235.8,239.2 L236.3,239.8 L236.8,239.5 L237.3,239.0 L237.8,239.1 L238.3,238.9 L238.8,239.7 L239.3,239.3 L239.8,238.6 L240.3,239.1 L240.8,239.4 L241.3,238.6 L241.8,238.6 L242.3,239.3 L242.8,239.1 L243.3,238.8 L243.8,237.5 L244.3,237.0 L244.8,238.1 L245.3,238.4 L245.8,237.8 L246.3,238.6 L246.8,239.5 L247.3,238.5 L247.8,238.3 L248.3,237.2 L248.8,235.0 L249.3,236.3 L249.8,237.1 L250.3,236.8 L250.8,237.0 L251.3,236.5 L251.8,236.5 L252.3,236.4 L252.8,235.2 L253.3,235.0 L253.8,235.7 L254.3,236.3 L254.8,235.5 L255.3,234.4 L255.8,234.5 L256.3,234.3 L256.8,235.1 L257.3,235.1 L257.8,233.8 L258.3,233.4 L258.8,233.7 L259.3,232.9 L259.8,232.1 L260.3,233.0 L260.8,233.3 L261.3,232.2 L261.8,231.2 L262.3,230.8 L262.8,229.9 L263.3,230.1 L263.8,230.6 L264.3,229.9 L264.8,228.7 L265.3,227.8 L265.8,228.3 L266.3,228.4 L266.8,227.5 L267.3,227.1 L267.8,227.4 L268.3,226.3 L268.8,225.0 L269.3,224.4 L269.8,223.5 L270.3,223.8 L270.8,224.0 L271.3,223.2 L271.8,221.7 L272.3,220.3 L272.8,220.2 L273.3,219.8 L273.8,219.1 L274.3,218.2 L274.8,217.6 L275.3,217.8 L275.8,217.2 L276.3,216.0 L276.8,214.2 L277.3,212.7 L277.8,211.3 L278.3,210.1 L278.8,208.9 L279.3,207.0 L279.8,205.7 L280.3,205.2 L280.8,204.5 L281.3,203.1 L281.8,201.2 L282.3,199.9 L282.8,198.6 L283.3,198.1 L283.8,197.6 L284.3,195.9 L284.8,195.0 L285.3,193.3 L285.8,191.9 L286.3,191.9 L286.8,192.5 L287.3,191.2 L287.8,189.4 L288.3,189.4 L288.8,188.4 L289.3,187.2 L289.8,187.6 L290.3,188.4 L290.8,188.7 L291.3,190.0 L291.8,190.8 L292.3,191.1 L292.8,192.9 L293.3,194.5 L293.8,193.8 L294.3,193.8 L294.8,196.2 L295.3,196.9 L295.8,197.2 L296.3,198.7 L296.8,199.9 L297.3,201.4 L297.8,203.6 L298.3,206.2 L298.8,208.2 L299.3,208.8 L299.8,208.2 L300.3,209.4 L300.8,211.4 L301.3,212.8 L301.8,214.1 L302.3,214.1 L302.8,215.5 L303.3,216.4 L303.8,216.8 L304.3,218.9 L304.8,220.2 L305.3,221.6 L305.8,221.1 L306.3,221.2 L306.8,223.5 L307.3,223.8 L307.8,224.5 L308.3,224.8 L308.8,225.4 L309.3,226.8 L309.8,226.6 L310.3,226.5 L310.8,227.4 L311.3,227.9 L311.8,229.0 L312.3,229.8 L312.8,230.3 L313.3,231.2 L313.8,231.0 L314.3,230.7 L314.8,230.5 L315.3,230.6 L315.8,231.0 L316.3,231.9 L316.8,232.2 L317.3,232.3 L317.8,233.2 L318.3,233.2 L318.8,233.2 L319.3,234.5 L319.8,235.6 L320.3,234.7 L320.8,234.0 L321.3,234.5 L321.8,234.6 L322.3,235.7 L322.8,236.4 L323.3,236.4 L323.8,237.1 L324.3,236.4 L324.8,235.6 L325.3,236.0 L325.8,236.7 L326.3,236.8 L326.8,236.7 L327.3,237.5 L327.8,237.8 L328.3,237.6 L328.8,236.7 L329.3,235.8 L329.8,236.9 L330.3,238.0 L330.8,237.1 L331.3,236.7 L331.8,237.0 L332.3,236.5 L332.8,237.0 L333.3,237.5 L333.8,237.3 L334.3,238.1 L334.8,238.3 L335.3,238.3 L335.8,238.6 L336.3,238.5 L336.8,238.4 L337.3,239.3 L337.8,239.3 L338.3,239.3 L338.8,239.0 L339.3,238.6 L339.8,239.2 L340.3,238.5 L340.8,237.2 L341.3,238.4 L341.8,239.2 L342.3,238.0 L342.8,238.7 L343.3,239.3 L343.8,239.4 L344.3,239.3 L344.8,238.4 L345.3,239.0 L345.8,239.4 L346.3,239.1 L346.8,239.9 L347.3,240.4 L347.8,240.0 L348.3,239.3 L348.8,239.4 L349.3,238.6 L349.8,238.4 L350.3,238.9 L350.8,238.7 L351.3,239.3 L351.8,239.8 L352.3,240.5 L352.8,241.5 L353.3,239.8 L353.8,239.1 L354.3,239.6 L354.8,239.9 L355.3,240.5 L355.8,240.7 L356.3,240.8 L356.8,240.7 L357.3,240.5 L357.8,238.9 L358.3,238.5 L358.8,239.3 L359.3,239.7 L359.8,239.6 L360.3,240.7 L360.8,241.1 L361.3,241.0 L361.8,240.9 L362.3,241.1 L362.8,240.7 L363.3,240.1 L363.8,240.1 L364.3,240.0 L364.8,241.4 L365.3,240.4 L365.8,239.2 L366.3,240.1 L366.8,240.5 L367.3,239.7 L367.8,240.3 L368.3,241.0 L368.8,241.1 L369.3,241.2 L369.8,240.0 L370.3,239.6 L370.8,240.8 L371.3,240.3 L371.8,239.4 L372.3,240.4 L372.8,241.1 L373.3,241.2 L373.8,239.9 L374.3,240.5 L374.8,241.1 L375.3,240.1 L375.8,240.1 L376.3,240.0 L376.8,239.5 L377.3,239.4 L377.8,240.5 L378.3,240.0 L378.8,238.1 L379.3,239.0 L379.8,240.3 L380.3,240.4 L380.8,241.0 L381.3,240.3 L381.8,239.5 L382.3,240.0 L382.8,240.5 L383.3,240.7 L383.8,239.7 L384.3,238.4 L384.8,238.7 L385.3,238.5 L385.8,239.1 L386.3,239.7 L386.8,238.9 L387.3,238.6 L387.8,239.4 L388.3,239.9 L388.8,238.8 L389.3,238.8 L389.8,238.8 L390.3,238.7 L390.8,239.2 L391.3,238.6 L391.8,238.0 L392.3,238.2 L392.8,238.3 L393.3,238.2 L393.8,237.5 L394.3,236.7 L394.8,236.6 L395.3,236.2 L395.8,236.2 L396.3,236.6 L396.8,236.4 L397.3,235.9 L397.8,235.1 L398.3,234.8 L398.8,235.5 L399.3,235.7 L399.8,234.9 L400.3,234.0 L400.8,233.9 L401.3,232.9 L401.8,233.4 L402.3,234.8 L402.8,234.0 L403.3,233.2 L403.8,232.4 L404.3,233.2 L404.8,233.4 L405.3,233.1 L405.8,233.5 L406.3,233.4 L406.8,231.5 L407.3,230.4 L407.8,230.4 L408.3,230.0 L408.8,229.1 L409.3,228.0 L409.8,228.1 L410.3,228.2 L410.8,228.2 L411.3,227.6 L411.8,227.3 L412.3,225.8 L412.8,223.7 L413.3,223.9 L413.8,223.5 L414.3,222.0 L414.8,221.6 L415.3,221.5 L415.8,220.5 L416.3,218.4 L416.8,216.2 L417.3,214.9 L417.8,213.3 L418.3,212.0 L418.8,210.1 L419.3,208.0 L419.8,205.5 L420.3,204.1 L420.8,204.5 L421.3,202.7 L421.8,201.0 L422.3,198.8 L422.8,196.8 L423.3,195.4 L423.8,194.2 L424.3,193.6 L424.8,191.0 L425.3,188.4 L425.8,186.5 L426.3,185.6 L426.8,183.1 L427.3,179.1 L427.8,176.3 L428.3,173.3 L428.8,170.0 L429.3,166.2 L429.8,163.2 L430.3,162.0 L430.8,159.8 L431.3,156.1 L431.8,152.3 L432.3,149.1 L432.8,145.9 L433.3,141.1 L433.8,135.1 L434.3,124.9 L434.8,113.0 L435.3,104.0 L435.8,98.5 L436.3,94.5 L436.8,90.9 L437.3,87.1 L437.8,84.7 L438.3,82.2 L438.8,79.4 L439.3,75.9 L439.8,71.7 L440.3,68.4 L440.8,66.2 L441.3,63.5 L441.8,61.5 L442.3,60.9 L442.8,61.6 L443.3,62.3 L443.8,63.6 L444.3,64.9 L444.8,66.3 L445.3,70.3 L445.8,73.6 L446.3,77.4 L446.8,80.3 L447.3,83.2 L447.8,87.5 L448.3,90.7 L448.8,93.1 L449.3,96.8 L449.8,99.8 L450.3,103.5 L450.8,108.5 L451.3,112.5 L451.8,116.4 L452.3,119.5 L452.8,123.5 L453.3,127.7 L453.8,132.0 L454.3,135.7 L454.8,139.1 L455.3,142.9 L455.8,146.8 L456.3,149.0 L456.8,151.4 L457.3,156.2 L457.8,160.2 L458.3,163.2 L458.8,166.2 L459.3,170.0 L459.8,173.6 L460.3,176.6 L460.8,179.4 L461.3,182.0 L461.8,184.8 L462.3,188.5 L462.8,190.5 L463.3,192.3 L463.8,195.7 L464.3,197.1 L464.8,199.2 L465.3,200.9 L465.8,202.5 L466.3,204.6 L466.8,205.4 L467.3,208.1 L467.8,212.1 L468.3,214.1 L468.8,215.8 L469.3,217.9 L469.8,219.3 L470.3,221.8 L470.8,223.7 L471.3,225.1 L471.8,227.2 L472.3,227.6 L472.8,227.8 L473.3,229.4 L473.8,231.8 L474.3,232.5 L474.8,231.8 L475.3,232.8 L475.8,234.7 L476.3,234.8 L476.8,234.1 L477.3,235.0 L477.8,236.0 L478.3,237.5 L478.8,236.9 L479.3,235.4 L479.8,236.4 L480.3,237.8 L480.8,236.8 L481.3,236.5 L481.8,238.3 L482.3,238.5 L482.8,238.4 L483.3,239.0 L483.8,239.2 L484.3,239.5 L484.8,239.5 L485.3,240.0 L485.8,239.7 L486.3,239.3 L486.8,240.3 L487.3,240.0 L487.8,239.4 L488.3,239.4 L488.8,239.2 L489.3,240.7 L489.8,241.5 L490.3,241.5 L490.8,241.7 L491.3,240.9 L491.8,240.5 L492.3,240.6 L492.8,240.8 L493.3,241.2 L493.8,240.9 L494.3,240.6 L494.8,241.3 L495.3,241.2 L495.8,240.9 L496.3,241.4 L496.8,241.8 L497.3,241.5 L497.8,241.3 L498.3,241.1 L498.8,241.5 L499.3,241.7 L499.8,240.7 L500.3,240.6 L500.8,241.7 L501.3,242.0 L501.8,241.3 L502.3,241.5 L502.8,242.3 L503.3,242.2 L503.8,242.6 L504.3,242.1 L504.8,241.7 L505.3,241.7 L505.8,241.9 L506.3,242.5 L506.8,242.3 L507.3,242.1 L507.8,241.4 L508.3,241.3 L508.8,241.1 L509.3,241.8 L509.8,243.0 L510.3,241.1 L510.8,239.2 L511.3,240.6 L511.8,241.4 L512.3,241.0 L512.8,240.8 L513.3,240.5 L513.8,240.8" fill="none" stroke="#ff8000" stroke-width="3.2" stroke-linejoin="round" stroke-linecap="butt"/><path d="M192.8,241.3 L193.3,241.0 L193.8,240.9 L194.3,240.4 L194.8,240.6 L195.3,240.7 L195.8,240.4 L196.3,240.9 L196.8,240.6 L197.3,241.8 L197.8,241.9 L198.3,240.9 L198.8,241.6 L199.3,240.9 L199.8,241.0 L200.3,241.4 L200.8,241.3 L201.3,240.9 L201.8,240.1 L202.3,240.9 L202.8,241.6 L203.3,241.1 L203.8,241.2 L204.3,241.3 L204.8,240.5 L205.3,239.4 L205.8,239.1 L206.3,239.3 L206.8,239.1 L207.3,239.5 L207.8,240.2 L208.3,240.5 L208.8,240.8 L209.3,240.6 L209.8,240.4 L210.3,240.6 L210.8,240.3 L211.3,239.9 L211.8,240.3 L212.3,240.3 L212.8,240.1 L213.3,240.3 L213.8,241.1 L214.3,241.2 L214.8,240.5 L215.3,240.1 L215.8,240.2 L216.3,241.4 L216.8,240.1 L217.3,239.3 L217.8,240.7 L218.3,240.8 L218.8,240.2 L219.3,240.7 L219.8,241.6 L220.3,240.6 L220.8,240.2 L221.3,239.9 L221.8,239.8 L222.3,240.0 L222.8,240.3 L223.3,240.5 L223.8,240.0 L224.3,240.1 L224.8,240.3 L225.3,240.0 L225.8,239.1 L226.3,239.3 L226.8,239.4 L227.3,238.5 L227.8,238.9 L228.3,239.5 L228.8,240.0 L229.3,239.0 L229.8,239.0 L230.3,240.3 L230.8,239.4 L231.3,238.5 L231.8,238.4 L232.3,238.2 L232.8,237.7 L233.3,237.2 L233.8,237.6 L234.3,238.3 L234.8,239.1 L235.3,238.5 L235.8,236.7 L236.3,237.1 L236.8,237.7 L237.3,237.7 L237.8,237.7 L238.3,236.9 L238.8,236.7 L239.3,237.5 L239.8,237.8 L240.3,236.9 L240.8,237.1 L241.3,236.8 L241.8,236.1 L242.3,236.7 L242.8,236.2 L243.3,235.5 L243.8,236.0 L244.3,236.3 L244.8,236.1 L245.3,235.7 L245.8,235.2 L246.3,235.0 L246.8,236.6 L247.3,236.6 L247.8,235.8 L248.3,235.6 L248.8,235.4 L249.3,236.0 L249.8,235.5 L250.3,234.5 L250.8,233.6 L251.3,234.1 L251.8,234.0 L252.3,232.9 L252.8,233.9 L253.3,234.9 L253.8,234.0 L254.3,233.1 L254.8,232.6 L255.3,232.7 L255.8,232.6 L256.3,231.5 L256.8,231.2 L257.3,231.7 L257.8,231.1 L258.3,230.3 L258.8,230.7 L259.3,231.6 L259.8,231.3 L260.3,230.3 L260.8,230.7 L261.3,229.9 L261.8,228.5 L262.3,228.9 L262.8,229.4 L263.3,228.8 L263.8,226.9 L264.3,226.7 L264.8,227.7 L265.3,227.0 L265.8,226.6 L266.3,226.8 L266.8,226.2 L267.3,224.8 L267.8,223.5 L268.3,223.5 L268.8,223.5 L269.3,222.8 L269.8,222.1 L270.3,222.0 L270.8,222.3 L271.3,221.8 L271.8,220.4 L272.3,220.0 L272.8,220.0 L273.3,218.0 L273.8,217.4 L274.3,216.9 L274.8,215.3 L275.3,215.7 L275.8,215.5 L276.3,213.7 L276.8,212.0 L277.3,211.3 L277.8,209.9 L278.3,208.8 L278.8,208.3 L279.3,207.4 L279.8,206.5 L280.3,204.7 L280.8,203.9 L281.3,203.2 L281.8,201.5 L282.3,200.2 L282.8,199.4 L283.3,199.0 L283.8,198.8 L284.3,198.0 L284.8,196.4 L285.3,195.5 L285.8,195.6 L286.3,195.6 L286.8,194.3 L287.3,193.3 L287.8,193.1 L288.3,191.8 L288.8,191.4 L289.3,192.3 L289.8,192.9 L290.3,193.4 L290.8,194.0 L291.3,194.9 L291.8,195.4 L292.3,195.3 L292.8,196.6 L293.3,197.7 L293.8,198.7 L294.3,199.5 L294.8,200.8 L295.3,201.7 L295.8,201.7 L296.3,203.6 L296.8,206.0 L297.3,206.5 L297.8,207.4 L298.3,209.3 L298.8,210.0 L299.3,210.2 L299.8,209.9 L300.3,210.4 L300.8,211.9 L301.3,213.7 L301.8,214.9 L302.3,215.2 L302.8,216.1 L303.3,216.4 L303.8,217.2 L304.3,218.1 L304.8,219.1 L305.3,220.2 L305.8,219.9 L306.3,220.1 L306.8,220.3 L307.3,221.1 L307.8,221.9 L308.3,222.3 L308.8,223.7 L309.3,224.3 L309.8,224.4 L310.3,225.8 L310.8,226.3 L311.3,226.0 L311.8,226.0 L312.3,225.3 L312.8,225.9 L313.3,226.2 L313.8,225.1 L314.3,226.2 L314.8,227.9 L315.3,227.5 L315.8,228.2 L316.3,228.9 L316.8,228.4 L317.3,228.3 L317.8,229.2 L318.3,229.7 L318.8,229.2 L319.3,229.4 L319.8,229.5 L320.3,229.2 L320.8,229.4 L321.3,229.9 L321.8,230.7 L322.3,230.6 L322.8,230.8 L323.3,231.2 L323.8,230.7 L324.3,231.0 L324.8,231.5 L325.3,231.7 L325.8,232.1 L326.3,232.2 L326.8,231.4 L327.3,231.2 L327.8,232.6 L328.3,233.0 L328.8,231.4 L329.3,231.6 L329.8,233.4 L330.3,233.9 L330.8,233.3 L331.3,232.9 L331.8,233.3 L332.3,233.2 L332.8,232.7 L333.3,233.6 L333.8,233.7 L334.3,233.5 L334.8,233.0 L335.3,232.3 L335.8,232.6 L336.3,233.1 L336.8,233.4 L337.3,233.0 L337.8,232.9 L338.3,233.3 L338.8,234.2 L339.3,233.9 L339.8,233.8 L340.3,234.1 L340.8,233.6 L341.3,233.8 L341.8,234.7 L342.3,233.5 L342.8,233.2 L343.3,235.1 L343.8,234.7 L344.3,234.3 L344.8,234.8 L345.3,234.7 L345.8,234.4 L346.3,234.8 L346.8,235.1 L347.3,234.6 L347.8,234.4 L348.3,234.0 L348.8,233.6 L349.3,234.0 L349.8,234.0 L350.3,233.7 L350.8,234.2 L351.3,234.6 L351.8,234.3 L352.3,233.6 L352.8,233.0 L353.3,233.3 L353.8,233.4 L354.3,234.3 L354.8,235.5 L355.3,234.8 L355.8,233.8 L356.3,233.6 L356.8,233.2 L357.3,233.6 L357.8,233.6 L358.3,232.8 L358.8,233.2 L359.3,233.5 L359.8,233.4 L360.3,233.5 L360.8,233.8 L361.3,233.9 L361.8,233.8 L362.3,233.5 L362.8,233.1 L363.3,233.2 L363.8,233.4 L364.3,233.4 L364.8,233.4 L365.3,234.1 L365.8,233.9 L366.3,233.2 L366.8,233.3 L367.3,233.6 L367.8,233.2 L368.3,232.1 L368.8,233.0 L369.3,233.8 L369.8,233.4 L370.3,232.7 L370.8,233.2 L371.3,233.7 L371.8,232.9 L372.3,232.5 L372.8,232.4 L373.3,233.2 L373.8,233.4 L374.3,232.4 L374.8,232.2 L375.3,233.1 L375.8,233.6 L376.3,232.8 L376.8,232.1 L377.3,232.1 L377.8,232.7 L378.3,232.8 L378.8,232.4 L379.3,232.6 L379.8,232.6 L380.3,232.1 L380.8,231.7 L381.3,231.8 L381.8,232.0 L382.3,232.5 L382.8,232.9 L383.3,232.4 L383.8,232.8 L384.3,232.6 L384.8,232.6 L385.3,232.6 L385.8,232.0 L386.3,232.8 L386.8,233.3 L387.3,232.5 L387.8,232.1 L388.3,231.9 L388.8,231.7 L389.3,232.2 L389.8,231.9 L390.3,232.3 L390.8,232.6 L391.3,232.1 L391.8,231.5 L392.3,231.0 L392.8,231.2 L393.3,231.4 L393.8,231.4 L394.3,230.7 L394.8,229.9 L395.3,229.4 L395.8,230.5 L396.3,231.3 L396.8,230.9 L397.3,230.1 L397.8,230.2 L398.3,230.3 L398.8,229.4 L399.3,228.7 L399.8,227.8 L400.3,228.2 L400.8,228.6 L401.3,228.1 L401.8,227.3 L402.3,226.2 L402.8,226.0 L403.3,227.0 L403.8,228.0 L404.3,227.1 L404.8,225.9 L405.3,225.2 L405.8,224.7 L406.3,225.2 L406.8,224.9 L407.3,224.5 L407.8,225.0 L408.3,224.5 L408.8,223.2 L409.3,223.5 L409.8,223.9 L410.3,222.8 L410.8,222.2 L411.3,221.5 L411.8,221.1 L412.3,220.1 L412.8,219.1 L413.3,218.5 L413.8,217.7 L414.3,217.7 L414.8,216.7 L415.3,216.1 L415.8,215.1 L416.3,212.9 L416.8,211.8 L417.3,210.8 L417.8,209.3 L418.3,207.2 L418.8,204.5 L419.3,202.2 L419.8,198.9 L420.3,196.4 L420.8,194.9 L421.3,193.1 L421.8,191.7 L422.3,191.2 L422.8,189.5 L423.3,187.2 L423.8,186.3 L424.3,185.0 L424.8,181.7 L425.3,178.3 L425.8,175.6 L426.3,171.2 L426.8,166.0 L427.3,163.3 L427.8,160.9 L428.3,157.0 L428.8,154.1 L429.3,151.1 L429.8,147.2 L430.3,143.9 L430.8,141.0 L431.3,138.4 L431.8,135.6 L432.3,132.3 L432.8,128.5 L433.3,124.8 L433.8,121.8 L434.3,118.8 L434.8,115.8 L435.3,111.7 L435.8,109.1 L436.3,106.9 L436.8,105.2 L437.3,104.4 L437.8,102.9 L438.3,101.8 L438.8,102.3 L439.3,102.7 L439.8,103.4 L440.3,105.6 L440.8,108.1 L441.3,111.1 L441.8,113.0 L442.3,114.8 L442.8,117.1 L443.3,119.4 L443.8,122.9 L444.3,126.3 L444.8,128.1 L445.3,131.2 L445.8,134.9 L446.3,138.4 L446.8,142.0 L447.3,144.7 L447.8,148.3 L448.3,152.9 L448.8,157.0 L449.3,161.3 L449.8,165.6 L450.3,170.2 L450.8,175.4 L451.3,180.2 L451.8,183.5 L452.3,185.5 L452.8,188.3 L453.3,189.5 L453.8,189.7 L454.3,190.8 L454.8,191.9 L455.3,193.5 L455.8,194.6 L456.3,195.1 L456.8,195.8 L457.3,196.2 L457.8,196.4 L458.3,196.3 L458.8,196.8 L459.3,197.3 L459.8,197.7 L460.3,197.8 L460.8,197.8 L461.3,198.8 L461.8,199.3 L462.3,199.7 L462.8,201.0 L463.3,202.1 L463.8,201.9 L464.3,202.5 L464.8,204.6 L465.3,205.6 L465.8,207.1 L466.3,208.5 L466.8,208.3 L467.3,210.3 L467.8,212.4 L468.3,212.1 L468.8,214.1 L469.3,216.7 L469.8,218.3 L470.3,220.4 L470.8,221.8 L471.3,222.4 L471.8,222.4 L472.3,224.1 L472.8,225.7 L473.3,226.1 L473.8,226.3 L474.3,226.8 L474.8,228.3 L475.3,229.2 L475.8,229.8 L476.3,230.1 L476.8,229.8 L477.3,230.8 L477.8,231.9 L478.3,232.7 L478.8,233.7 L479.3,233.6 L479.8,233.3 L480.3,234.3 L480.8,235.2 L481.3,234.6 L481.8,235.3 L482.3,236.1 L482.8,235.4 L483.3,235.0 L483.8,235.1 L484.3,236.1 L484.8,236.5 L485.3,237.0 L485.8,237.3 L486.3,236.4 L486.8,235.9 L487.3,236.3 L487.8,236.1 L488.3,236.0 L488.8,236.0 L489.3,235.9 L489.8,236.3 L490.3,236.9 L490.8,237.5 L491.3,237.1 L491.8,236.4 L492.3,235.4 L492.8,235.6 L493.3,237.1 L493.8,236.9 L494.3,236.9 L494.8,236.8 L495.3,236.5 L495.8,236.3 L496.3,236.2 L496.8,236.0 L497.3,237.0 L497.8,238.2 L498.3,237.7 L498.8,237.4 L499.3,238.0 L499.8,238.3 L500.3,237.5 L500.8,237.3 L501.3,237.8 L501.8,237.9 L502.3,238.0 L502.8,237.2 L503.3,236.8 L503.8,236.7 L504.3,237.2 L504.8,237.9 L505.3,237.3 L505.8,238.5 L506.3,239.6 L506.8,238.5 L507.3,238.4 L507.8,238.4 L508.3,238.5 L508.8,239.2 L509.3,238.6 L509.8,238.6 L510.3,239.6 L510.8,239.9 L511.3,238.6 L511.8,238.5 L512.3,239.4 L512.8,239.3 L513.3,239.6 L513.8,239.2" fill="none" stroke="#b97aff" stroke-width="3.1" stroke-linejoin="round" stroke-linecap="butt"/><path d="M192.8,239.8 L193.3,240.0 L193.8,240.2 L194.3,240.1 L194.8,240.5 L195.3,240.5 L195.8,240.5 L196.3,240.6 L196.8,240.6 L197.3,239.9 L197.8,239.0 L198.3,238.9 L198.8,239.4 L199.3,239.7 L199.8,239.8 L200.3,240.0 L200.8,239.7 L201.3,240.3 L201.8,240.4 L202.3,239.6 L202.8,239.0 L203.3,239.4 L203.8,240.1 L204.3,239.2 L204.8,238.8 L205.3,239.3 L205.8,238.7 L206.3,238.5 L206.8,239.5 L207.3,239.0 L207.8,238.7 L208.3,239.9 L208.8,239.4 L209.3,238.6 L209.8,238.8 L210.3,239.1 L210.8,239.2 L211.3,238.4 L211.8,238.0 L212.3,238.5 L212.8,238.6 L213.3,238.9 L213.8,238.9 L214.3,238.3 L214.8,239.0 L215.3,239.1 L215.8,238.0 L216.3,238.0 L216.8,238.2 L217.3,238.4 L217.8,238.6 L218.3,238.2 L218.8,237.9 L219.3,237.7 L219.8,238.3 L220.3,239.1 L220.8,238.6 L221.3,238.0 L221.8,238.1 L222.3,237.7 L222.8,237.3 L223.3,237.2 L223.8,236.7 L224.3,236.5 L224.8,237.3 L225.3,237.8 L225.8,237.5 L226.3,237.0 L226.8,237.2 L227.3,238.0 L227.8,237.3 L228.3,236.3 L228.8,236.4 L229.3,236.8 L229.8,236.5 L230.3,236.4 L230.8,236.4 L231.3,236.3 L231.8,236.4 L232.3,235.9 L232.8,236.3 L233.3,235.9 L233.8,235.3 L234.3,235.8 L234.8,236.3 L235.3,236.0 L235.8,234.9 L236.3,234.9 L236.8,235.7 L237.3,235.3 L237.8,234.4 L238.3,234.7 L238.8,235.9 L239.3,235.6 L239.8,235.4 L240.3,234.9 L240.8,234.3 L241.3,234.2 L241.8,233.6 L242.3,233.6 L242.8,233.5 L243.3,233.3 L243.8,233.2 L244.3,233.2 L244.8,233.2 L245.3,233.2 L245.8,232.7 L246.3,232.6 L246.8,232.3 L247.3,232.0 L247.8,232.5 L248.3,231.5 L248.8,231.2 L249.3,232.2 L249.8,232.3 L250.3,231.6 L250.8,231.1 L251.3,231.2 L251.8,231.2 L252.3,231.2 L252.8,231.0 L253.3,230.8 L253.8,230.7 L254.3,229.9 L254.8,229.2 L255.3,229.1 L255.8,229.4 L256.3,229.0 L256.8,229.0 L257.3,228.5 L257.8,227.8 L258.3,227.8 L258.8,227.7 L259.3,227.8 L259.8,227.4 L260.3,226.6 L260.8,226.0 L261.3,225.9 L261.8,226.3 L262.3,225.9 L262.8,225.4 L263.3,225.6 L263.8,224.8 L264.3,223.9 L264.8,223.0 L265.3,222.6 L265.8,223.2 L266.3,222.6 L266.8,222.0 L267.3,222.1 L267.8,221.5 L268.3,220.5 L268.8,219.8 L269.3,219.1 L269.8,218.3 L270.3,218.7 L270.8,218.0 L271.3,216.2 L271.8,215.7 L272.3,215.3 L272.8,214.8 L273.3,213.7 L273.8,212.3 L274.3,211.4 L274.8,211.3 L275.3,211.1 L275.8,209.7 L276.3,208.3 L276.8,207.6 L277.3,206.5 L277.8,205.3 L278.3,205.0 L278.8,203.8 L279.3,202.6 L279.8,202.5 L280.3,201.0 L280.8,200.0 L281.3,199.2 L281.8,197.5 L282.3,196.7 L282.8,195.8 L283.3,194.5 L283.8,193.4 L284.3,192.4 L284.8,191.9 L285.3,191.5 L285.8,191.4 L286.3,190.8 L286.8,190.2 L287.3,189.7 L287.8,189.5 L288.3,189.3 L288.8,189.5 L289.3,189.6 L289.8,188.8 L290.3,189.1 L290.8,190.0 L291.3,191.0 L291.8,191.8 L292.3,192.5 L292.8,193.4 L293.3,193.6 L293.8,194.0 L294.3,195.2 L294.8,196.0 L295.3,198.2 L295.8,199.9 L296.3,199.4 L296.8,199.8 L297.3,201.4 L297.8,202.7 L298.3,203.1 L298.8,203.6 L299.3,205.1 L299.8,206.5 L300.3,207.6 L300.8,208.7 L301.3,209.9 L301.8,210.2 L302.3,210.8 L302.8,212.0 L303.3,212.2 L303.8,213.5 L304.3,213.9 L304.8,214.2 L305.3,215.4 L305.8,216.5 L306.3,216.7 L306.8,217.0 L307.3,218.3 L307.8,218.7 L308.3,219.1 L308.8,219.6 L309.3,219.6 L309.8,220.0 L310.3,220.3 L310.8,221.2 L311.3,222.7 L311.8,222.3 L312.3,222.7 L312.8,223.6 L313.3,223.0 L313.8,223.1 L314.3,224.2 L314.8,224.8 L315.3,224.6 L315.8,225.2 L316.3,225.8 L316.8,225.7 L317.3,225.6 L317.8,226.3 L318.3,227.3 L318.8,227.0 L319.3,226.9 L319.8,227.4 L320.3,227.8 L320.8,227.8 L321.3,228.7 L321.8,229.4 L322.3,229.2 L322.8,229.2 L323.3,229.8 L323.8,230.2 L324.3,229.1 L324.8,229.4 L325.3,230.2 L325.8,229.7 L326.3,229.8 L326.8,230.1 L327.3,230.5 L327.8,231.2 L328.3,230.6 L328.8,230.8 L329.3,231.8 L329.8,230.8 L330.3,231.0 L330.8,232.2 L331.3,232.2 L331.8,232.6 L332.3,232.3 L332.8,231.6 L333.3,231.9 L333.8,232.2 L334.3,232.3 L334.8,231.6 L335.3,231.4 L335.8,233.2 L336.3,233.6 L336.8,233.1 L337.3,233.2 L337.8,232.8 L338.3,233.0 L338.8,233.5 L339.3,233.1 L339.8,232.9 L340.3,233.3 L340.8,233.1 L341.3,232.6 L341.8,233.4 L342.3,234.1 L342.8,233.7 L343.3,233.9 L343.8,234.3 L344.3,233.9 L344.8,233.4 L345.3,233.6 L345.8,233.6 L346.3,233.3 L346.8,233.2 L347.3,233.7 L347.8,233.9 L348.3,233.5 L348.8,233.7 L349.3,234.6 L349.8,234.7 L350.3,233.3 L350.8,232.9 L351.3,233.5 L351.8,233.3 L352.3,232.9 L352.8,233.7 L353.3,234.3 L353.8,234.1 L354.3,233.9 L354.8,233.9 L355.3,234.0 L355.8,233.7 L356.3,233.5 L356.8,233.1 L357.3,232.9 L357.8,233.2 L358.3,233.1 L358.8,233.3 L359.3,233.3 L359.8,233.4 L360.3,233.3 L360.8,233.1 L361.3,234.0 L361.8,234.2 L362.3,233.6 L362.8,233.7 L363.3,233.9 L363.8,233.6 L364.3,233.6 L364.8,232.8 L365.3,233.1 L365.8,233.8 L366.3,233.9 L366.8,233.4 L367.3,233.4 L367.8,233.5 L368.3,232.8 L368.8,232.7 L369.3,233.2 L369.8,233.4 L370.3,233.8 L370.8,234.3 L371.3,234.1 L371.8,233.8 L372.3,233.0 L372.8,232.4 L373.3,232.7 L373.8,233.7 L374.3,234.3 L374.8,233.2 L375.3,232.9 L375.8,233.7 L376.3,233.2 L376.8,233.0 L377.3,233.1 L377.8,233.1 L378.3,233.4 L378.8,233.2 L379.3,233.1 L379.8,233.0 L380.3,233.0 L380.8,232.1 L381.3,232.2 L381.8,233.7 L382.3,233.1 L382.8,232.6 L383.3,233.3 L383.8,233.1 L384.3,232.6 L384.8,232.8 L385.3,233.3 L385.8,232.8 L386.3,232.6 L386.8,233.3 L387.3,232.7 L387.8,232.5 L388.3,233.5 L388.8,233.4 L389.3,232.8 L389.8,233.3 L390.3,233.1 L390.8,232.5 L391.3,233.1 L391.8,233.7 L392.3,232.8 L392.8,232.1 L393.3,232.6 L393.8,233.0 L394.3,233.0 L394.8,232.2 L395.3,232.3 L395.8,231.6 L396.3,231.3 L396.8,232.3 L397.3,232.6 L397.8,232.4 L398.3,231.4 L398.8,231.5 L399.3,231.7 L399.8,231.2 L400.3,231.7 L400.8,231.0 L401.3,231.3 L401.8,232.2 L402.3,231.7 L402.8,231.2 L403.3,231.0 L403.8,231.2 L404.3,230.8 L404.8,229.9 L405.3,229.8 L405.8,230.3 L406.3,230.3 L406.8,230.1 L407.3,229.7 L407.8,229.3 L408.3,228.5 L408.8,227.5 L409.3,227.7 L409.8,227.8 L410.3,227.7 L410.8,227.2 L411.3,226.5 L411.8,226.8 L412.3,226.7 L412.8,225.8 L413.3,225.6 L413.8,225.5 L414.3,224.5 L414.8,223.6 L415.3,223.3 L415.8,222.8 L416.3,221.8 L416.8,220.9 L417.3,219.2 L417.8,218.7 L418.3,218.9 L418.8,217.8 L419.3,216.1 L419.8,215.2 L420.3,214.9 L420.8,214.1 L421.3,213.1 L421.8,211.4 L422.3,210.7 L422.8,210.7 L423.3,209.7 L423.8,208.9 L424.3,207.7 L424.8,206.7 L425.3,205.1 L425.8,203.7 L426.3,203.0 L426.8,202.1 L427.3,200.9 L427.8,199.0 L428.3,197.7 L428.8,196.8 L429.3,195.5 L429.8,194.4 L430.3,193.7 L430.8,192.2 L431.3,190.8 L431.8,189.4 L432.3,188.7 L432.8,187.9 L433.3,185.4 L433.8,184.2 L434.3,183.1 L434.8,181.9 L435.3,181.8 L435.8,181.1 L436.3,180.2 L436.8,180.1 L437.3,180.1 L437.8,179.8 L438.3,179.5 L438.8,178.8 L439.3,178.5 L439.8,178.7 L440.3,179.0 L440.8,179.3 L441.3,179.4 L441.8,180.0 L442.3,180.7 L442.8,181.5 L443.3,182.2 L443.8,183.1 L444.3,183.5 L444.8,184.6 L445.3,185.7 L445.8,185.8 L446.3,187.1 L446.8,188.3 L447.3,189.0 L447.8,190.2 L448.3,190.9 L448.8,192.0 L449.3,192.6 L449.8,192.5 L450.3,193.9 L450.8,195.1 L451.3,195.3 L451.8,194.8 L452.3,195.0 L452.8,195.6 L453.3,195.9 L453.8,196.4 L454.3,197.1 L454.8,197.9 L455.3,198.2 L455.8,197.9 L456.3,198.2 L456.8,198.9 L457.3,199.5 L457.8,199.5 L458.3,199.3 L458.8,199.6 L459.3,199.7 L459.8,200.3 L460.3,200.8 L460.8,201.3 L461.3,202.0 L461.8,201.9 L462.3,201.9 L462.8,202.0 L463.3,202.2 L463.8,202.6 L464.3,203.2 L464.8,203.3 L465.3,203.7 L465.8,204.7 L466.3,205.4 L466.8,205.9 L467.3,206.7 L467.8,208.4 L468.3,210.2 L468.8,211.1 L469.3,212.8 L469.8,214.5 L470.3,215.0 L470.8,216.3 L471.3,217.3 L471.8,217.5 L472.3,218.9 L472.8,220.5 L473.3,221.7 L473.8,223.0 L474.3,223.4 L474.8,223.9 L475.3,225.6 L475.8,227.2 L476.3,227.7 L476.8,228.0 L477.3,228.9 L477.8,229.7 L478.3,231.2 L478.8,232.3 L479.3,231.8 L479.8,231.6 L480.3,232.8 L480.8,233.5 L481.3,233.8 L481.8,234.2 L482.3,233.9 L482.8,233.6 L483.3,233.7 L483.8,234.2 L484.3,235.1 L484.8,235.5 L485.3,236.3 L485.8,236.2 L486.3,235.6 L486.8,236.7 L487.3,237.7 L487.8,237.1 L488.3,236.7 L488.8,237.5 L489.3,236.8 L489.8,236.9 L490.3,237.8 L490.8,237.5 L491.3,237.8 L491.8,238.1 L492.3,237.6 L492.8,238.1 L493.3,238.2 L493.8,238.3 L494.3,237.7 L494.8,237.7 L495.3,238.5 L495.8,238.3 L496.3,238.5 L496.8,238.9 L497.3,238.6 L497.8,238.2 L498.3,238.4 L498.8,238.7 L499.3,238.9 L499.8,238.9 L500.3,239.0 L500.8,238.4 L501.3,238.2 L501.8,238.9 L502.3,239.1 L502.8,240.0 L503.3,240.2 L503.8,239.9 L504.3,239.5 L504.8,239.4 L505.3,240.2 L505.8,239.8 L506.3,239.0 L506.8,238.6 L507.3,238.4 L507.8,239.6 L508.3,239.5 L508.8,238.9 L509.3,239.8 L509.8,239.9 L510.3,239.8 L510.8,239.7 L511.3,240.0 L511.8,239.6 L512.3,239.1 L512.8,239.6 L513.3,239.1 L513.8,238.9" fill="none" stroke="#00dd00" stroke-width="3.5" stroke-linejoin="round" stroke-linecap="butt"/></g>
<line x1="192.50" y1="33.15" x2="192.50" y2="255.30" stroke="#000" stroke-width="1.35"/>
<line x1="188.90" y1="33.90" x2="517.70" y2="33.90" stroke="#000" stroke-width="1.5"/>
<line x1="192.50" y1="251.90" x2="514.10" y2="251.90" stroke="#000" stroke-width="1.5"/>
<line x1="514.10" y1="33.90" x2="514.10" y2="255.30" stroke="#000" stroke-width="1.35"/>
<line x1="192.50" y1="251.90" x2="192.50" y2="255.30" stroke="#000" stroke-width="1.5"/>
<line x1="192.50" y1="33.90" x2="192.50" y2="37.30" stroke="#000" stroke-width="1.5"/>
<line x1="224.66" y1="251.90" x2="224.66" y2="253.80" stroke="#000" stroke-width="1.5"/>
<line x1="224.66" y1="33.90" x2="224.66" y2="35.80" stroke="#000" stroke-width="1.5"/>
<line x1="256.82" y1="251.90" x2="256.82" y2="255.30" stroke="#000" stroke-width="1.5"/>
<line x1="256.82" y1="33.90" x2="256.82" y2="37.30" stroke="#000" stroke-width="1.5"/>
<line x1="288.98" y1="251.90" x2="288.98" y2="253.80" stroke="#000" stroke-width="1.5"/>
<line x1="288.98" y1="33.90" x2="288.98" y2="35.80" stroke="#000" stroke-width="1.5"/>
<line x1="321.14" y1="251.90" x2="321.14" y2="255.30" stroke="#000" stroke-width="1.5"/>
<line x1="321.14" y1="33.90" x2="321.14" y2="37.30" stroke="#000" stroke-width="1.5"/>
<line x1="353.30" y1="251.90" x2="353.30" y2="253.80" stroke="#000" stroke-width="1.5"/>
<line x1="353.30" y1="33.90" x2="353.30" y2="35.80" stroke="#000" stroke-width="1.5"/>
<line x1="385.46" y1="251.90" x2="385.46" y2="255.30" stroke="#000" stroke-width="1.5"/>
<line x1="385.46" y1="33.90" x2="385.46" y2="37.30" stroke="#000" stroke-width="1.5"/>
<line x1="417.62" y1="251.90" x2="417.62" y2="253.80" stroke="#000" stroke-width="1.5"/>
<line x1="417.62" y1="33.90" x2="417.62" y2="35.80" stroke="#000" stroke-width="1.5"/>
<line x1="449.78" y1="251.90" x2="449.78" y2="255.30" stroke="#000" stroke-width="1.5"/>
<line x1="449.78" y1="33.90" x2="449.78" y2="37.30" stroke="#000" stroke-width="1.5"/>
<line x1="481.94" y1="251.90" x2="481.94" y2="253.80" stroke="#000" stroke-width="1.5"/>
<line x1="481.94" y1="33.90" x2="481.94" y2="35.80" stroke="#000" stroke-width="1.5"/>
<line x1="514.10" y1="251.90" x2="514.10" y2="255.30" stroke="#000" stroke-width="1.5"/>
<line x1="514.10" y1="33.90" x2="514.10" y2="37.30" stroke="#000" stroke-width="1.5"/>
<line x1="188.90" y1="241.10" x2="192.50" y2="241.10" stroke="#000" stroke-width="1.5"/>
<line x1="514.10" y1="241.10" x2="517.70" y2="241.10" stroke="#000" stroke-width="1.5"/>
<line x1="190.50" y1="189.25" x2="192.50" y2="189.25" stroke="#000" stroke-width="1.5"/>
<line x1="514.10" y1="189.25" x2="516.10" y2="189.25" stroke="#000" stroke-width="1.5"/>
<line x1="188.90" y1="137.40" x2="192.50" y2="137.40" stroke="#000" stroke-width="1.5"/>
<line x1="514.10" y1="137.40" x2="517.70" y2="137.40" stroke="#000" stroke-width="1.5"/>
<line x1="190.50" y1="85.55" x2="192.50" y2="85.55" stroke="#000" stroke-width="1.5"/>
<line x1="514.10" y1="85.55" x2="516.10" y2="85.55" stroke="#000" stroke-width="1.5"/>
<line x1="188.90" y1="33.70" x2="192.50" y2="33.70" stroke="#000" stroke-width="1.5"/>
<line x1="514.10" y1="33.70" x2="517.70" y2="33.70" stroke="#000" stroke-width="1.5"/>
<text x="192.50" y="274.20" font-size="20.8" fill="#000" text-anchor="middle" >1200</text>
<text x="256.82" y="274.20" font-size="20.8" fill="#000" text-anchor="middle" >1300</text>
<text x="321.14" y="274.20" font-size="20.8" fill="#000" text-anchor="middle" >1400</text>
<text x="385.46" y="274.20" font-size="20.8" fill="#000" text-anchor="middle" >1500</text>
<text x="449.78" y="274.20" font-size="20.8" fill="#000" text-anchor="middle" >1600</text>
<text x="514.10" y="274.20" font-size="20.8" fill="#000" text-anchor="middle" >1700</text>
<text x="185.70" y="249.30" font-size="25" fill="#000" text-anchor="end" >0</text>
<text x="185.70" y="145.60" font-size="25" fill="#000" text-anchor="end" >2</text>
<text x="185.70" y="41.90" font-size="25" fill="#000" text-anchor="end" >4</text>
<rect x="255.80" y="22.00" width="154.40" height="30.00" fill="#fff"/>
<text x="261.00" y="45.80" font-size="29.8" fill="#ff8000" text-anchor="start" >Nanocomp</text>
<text x="245.00" y="100.40" font-size="29.8" fill="#9900cc" text-anchor="start" >Hamamatsu</text>
<text x="229.00" y="167.50" font-size="29.8" fill="#008000" text-anchor="start" >Taiyo</text>
<rect x="634.50" y="40.00" width="160.00" height="82.00" fill="#fff"/>
<text x="638.40" y="74.20" font-size="29.8" fill="#009dff" text-anchor="start" >Meijo EC<tspan font-weight="bold" dx="-1.4" dy="-3.4" textLength="12" lengthAdjust="spacingAndGlyphs">-</tspan><tspan dx="-1.2" dy="3.4">Y</tspan></text>
<text x="638.60" y="110.00" font-size="29.8" fill="#009dff" text-anchor="start" >type II</text>
<text x="650.50" y="182.50" font-size="29.8" fill="#0000ff" text-anchor="start" >type I</text>
<rect x="650.00" y="229.00" width="115.00" height="42.50" fill="#fff"/>
<text x="655.00" y="259.50" font-size="29.8" fill="#ff0000" text-anchor="start" >DexMat</text>
<rect x="968.50" y="85.20" width="621.40" height="430.10" fill="none" stroke="#000" stroke-width="2.9"/>
<line x1="984.38" y1="515.30" x2="984.38" y2="511.85" stroke="#000" stroke-width="2.4"/>
<line x1="997.33" y1="515.30" x2="997.33" y2="511.85" stroke="#000" stroke-width="2.4"/>
<line x1="1008.55" y1="515.30" x2="1008.55" y2="511.85" stroke="#000" stroke-width="2.4"/>
<line x1="1018.45" y1="515.30" x2="1018.45" y2="511.85" stroke="#000" stroke-width="2.4"/>
<line x1="1027.30" y1="515.30" x2="1027.30" y2="507.65" stroke="#000" stroke-width="2.4"/>
<line x1="1085.53" y1="515.30" x2="1085.53" y2="511.85" stroke="#000" stroke-width="2.4"/>
<line x1="1119.60" y1="515.30" x2="1119.60" y2="511.85" stroke="#000" stroke-width="2.4"/>
<line x1="1143.77" y1="515.30" x2="1143.77" y2="511.85" stroke="#000" stroke-width="2.4"/>
<line x1="1162.52" y1="515.30" x2="1162.52" y2="511.85" stroke="#000" stroke-width="2.4"/>
<line x1="1177.83" y1="515.30" x2="1177.83" y2="511.85" stroke="#000" stroke-width="2.4"/>
<line x1="1190.78" y1="515.30" x2="1190.78" y2="511.85" stroke="#000" stroke-width="2.4"/>
<line x1="1202.00" y1="515.30" x2="1202.00" y2="511.85" stroke="#000" stroke-width="2.4"/>
<line x1="1211.90" y1="515.30" x2="1211.90" y2="511.85" stroke="#000" stroke-width="2.4"/>
<line x1="1220.75" y1="515.30" x2="1220.75" y2="507.65" stroke="#000" stroke-width="2.4"/>
<line x1="1278.98" y1="515.30" x2="1278.98" y2="511.85" stroke="#000" stroke-width="2.4"/>
<line x1="1313.05" y1="515.30" x2="1313.05" y2="511.85" stroke="#000" stroke-width="2.4"/>
<line x1="1337.22" y1="515.30" x2="1337.22" y2="511.85" stroke="#000" stroke-width="2.4"/>
<line x1="1355.97" y1="515.30" x2="1355.97" y2="511.85" stroke="#000" stroke-width="2.4"/>
<line x1="1371.28" y1="515.30" x2="1371.28" y2="511.85" stroke="#000" stroke-width="2.4"/>
<line x1="1384.23" y1="515.30" x2="1384.23" y2="511.85" stroke="#000" stroke-width="2.4"/>
<line x1="1395.45" y1="515.30" x2="1395.45" y2="511.85" stroke="#000" stroke-width="2.4"/>
<line x1="1405.35" y1="515.30" x2="1405.35" y2="511.85" stroke="#000" stroke-width="2.4"/>
<line x1="1414.20" y1="515.30" x2="1414.20" y2="507.65" stroke="#000" stroke-width="2.4"/>
<line x1="1472.43" y1="515.30" x2="1472.43" y2="511.85" stroke="#000" stroke-width="2.4"/>
<line x1="1506.50" y1="515.30" x2="1506.50" y2="511.85" stroke="#000" stroke-width="2.4"/>
<line x1="1530.67" y1="515.30" x2="1530.67" y2="511.85" stroke="#000" stroke-width="2.4"/>
<line x1="1549.42" y1="515.30" x2="1549.42" y2="511.85" stroke="#000" stroke-width="2.4"/>
<line x1="1564.73" y1="515.30" x2="1564.73" y2="511.85" stroke="#000" stroke-width="2.4"/>
<line x1="1577.68" y1="515.30" x2="1577.68" y2="511.85" stroke="#000" stroke-width="2.4"/>
<line x1="968.50" y1="361.55" x2="976.50" y2="361.55" stroke="#000" stroke-width="2.5"/>
<line x1="968.50" y1="207.80" x2="976.50" y2="207.80" stroke="#000" stroke-width="2.5"/>
<g clip-path="url(#clipB)"><path d="M1117.8,335.8 L1118.3,335.9 L1118.8,335.8 L1119.3,336.2 L1119.8,336.5 L1120.3,336.8 L1120.8,337.8 L1121.3,338.8 L1121.8,338.6 L1122.3,339.0 L1122.8,340.2 L1123.3,341.2 L1123.8,341.6 L1124.3,340.7 L1124.8,339.3 L1125.3,338.0 L1125.8,337.1 L1126.3,335.7 L1126.8,333.8 L1127.3,332.1 L1127.8,330.3 L1128.3,329.3 L1128.8,329.3 L1129.3,328.4 L1129.8,327.3 L1130.3,327.0 L1130.8,326.3 L1131.3,325.7 L1131.8,325.1 L1132.3,324.3 L1132.8,323.2 L1133.3,322.1 L1133.8,321.7 L1134.3,320.0 L1134.8,318.8 L1135.3,317.4 L1135.8,315.8 L1136.3,315.5 L1136.8,314.6 L1137.3,314.2 L1137.8,314.9 L1138.3,315.2 L1138.8,314.5 L1139.3,314.9 L1139.8,316.2 L1140.3,316.3 L1140.8,316.2 L1141.3,316.5 L1141.8,315.9 L1142.3,315.0 L1142.8,314.8 L1143.3,313.7 L1143.8,311.9 L1144.3,309.9 L1144.8,308.1 L1145.3,306.8 L1145.8,305.3 L1146.3,303.4 L1146.8,301.6 L1147.3,300.0 L1147.8,298.7 L1148.3,297.6 L1148.8,297.7 L1149.3,296.9 L1149.8,296.5 L1150.3,296.5 L1150.8,295.3 L1151.3,295.0 L1151.8,295.0 L1152.3,295.0 L1152.8,294.6 L1153.3,293.9 L1153.8,292.3 L1154.3,290.4 L1154.8,289.3 L1155.3,288.8 L1155.8,288.3 L1156.3,287.5 L1156.8,287.1 L1157.3,288.0 L1157.8,288.0 L1158.3,287.5 L1158.8,288.3 L1159.3,288.8 L1159.8,288.4 L1160.3,288.2 L1160.8,287.7 L1161.3,286.0 L1161.8,284.9 L1162.3,284.3 L1162.8,283.4 L1163.3,282.8 L1163.8,282.1 L1164.3,281.7 L1164.8,282.9 L1165.3,283.2 L1165.8,283.3 L1166.3,283.8 L1166.8,283.2 L1167.3,283.7 L1167.8,284.6 L1168.3,284.8 L1168.8,285.5 L1169.3,285.9 L1169.8,286.1 L1170.3,286.0 L1170.8,286.7 L1171.3,287.6 L1171.8,288.0 L1172.3,288.8 L1172.8,288.8 L1173.3,289.3 L1173.8,290.4 L1174.3,290.0 L1174.8,288.8 L1175.3,289.3 L1175.8,289.9 L1176.3,289.1 L1176.8,288.6 L1177.3,288.0 L1177.8,287.6 L1178.3,287.6 L1178.8,287.5 L1179.3,287.1 L1179.8,286.6 L1180.3,286.5 L1180.8,286.2 L1181.3,285.4 L1181.8,285.1 L1182.3,284.9 L1182.8,285.3 L1183.3,285.4 L1183.8,285.2 L1184.3,285.4 L1184.8,285.5 L1185.3,285.4 L1185.8,284.8 L1186.3,284.1 L1186.8,282.9 L1187.3,283.0 L1187.8,283.5 L1188.3,282.9 L1188.8,282.0 L1189.3,281.6 L1189.8,281.3 L1190.3,281.8 L1190.8,282.0 L1191.3,281.9 L1191.8,282.1 L1192.3,281.7 L1192.8,282.3 L1193.3,282.5 L1193.8,281.8 L1194.3,282.3 L1194.8,282.9 L1195.3,282.4 L1195.8,281.8 L1196.3,281.4 L1196.8,281.2 L1197.3,281.6 L1197.8,281.4 L1198.3,281.4 L1198.8,281.4 L1199.3,281.1 L1199.8,280.8 L1200.3,280.3 L1200.8,280.4 L1201.3,280.1 L1201.8,280.0 L1202.3,279.7 L1202.8,279.6 L1203.3,280.2 L1203.8,280.3 L1204.3,280.1 L1204.8,280.4 L1205.3,280.0 L1205.8,279.9 L1206.3,279.8 L1206.8,279.3 L1207.3,279.0 L1207.8,278.7 L1208.3,278.6 L1208.8,279.5 L1209.3,279.8 L1209.8,279.3 L1210.3,279.7 L1210.8,278.9 L1211.3,278.8 L1211.8,279.9 L1212.3,279.9 L1212.8,279.7 L1213.3,279.6 L1213.8,280.2 L1214.3,280.9 L1214.8,280.9 L1215.3,280.6 L1215.8,280.4 L1216.3,280.2 L1216.8,279.8 L1217.3,279.8 L1217.8,279.8 L1218.3,279.1 L1218.8,279.2 L1219.3,279.5 L1219.8,279.4 L1220.3,279.4 L1220.8,278.9 L1221.3,278.8 L1221.8,278.9 L1222.3,278.4 L1222.8,278.7 L1223.3,279.4 L1223.8,279.1 L1224.3,278.7 L1224.8,278.6 L1225.3,278.7 L1225.8,278.3" fill="none" stroke="#ff8000" stroke-width="3.3" stroke-linejoin="round" stroke-linecap="round"/><path d="M1224.3,278.7 L1224.8,278.6 L1225.3,278.7 L1225.8,278.3 L1226.3,278.3 L1226.8,278.6 L1227.3,278.4 L1227.8,278.6 L1228.3,278.7 L1228.8,278.8 L1229.3,279.4 L1229.8,280.2 L1230.3,279.9 L1230.8,279.1 L1231.3,279.7 L1231.8,279.9 L1232.3,279.8 L1232.8,280.2 L1233.3,280.3 L1233.8,280.3 L1234.3,279.8 L1234.8,280.2 L1235.3,280.5 L1235.8,280.0 L1236.0,280.0 L1236.5,280.0 L1237.0,280.1 L1237.5,280.1 L1238.0,280.2 L1238.5,280.0 L1239.0,280.3 L1239.5,280.4 L1240.0,280.5 L1240.5,280.4 L1241.0,280.4 L1241.5,280.6 L1242.0,280.7 L1242.5,280.7 L1243.0,280.7 L1243.5,280.9 L1244.0,281.0 L1244.5,281.0 L1245.0,281.1 L1245.5,281.1 L1246.0,281.3 L1246.5,281.4 L1247.0,281.6 L1247.5,281.7 L1248.0,281.8 L1248.5,281.9 L1249.0,282.0 L1249.5,282.1 L1250.0,282.2 L1250.5,282.4 L1251.0,282.5 L1251.5,282.7 L1252.0,282.7 L1252.5,282.9 L1253.0,283.0 L1253.5,283.3 L1254.0,283.4 L1254.5,283.6 L1255.0,283.7 L1255.5,283.9 L1256.0,284.1 L1256.5,284.4 L1257.0,284.7 L1257.5,284.8 L1258.0,284.9 L1258.5,285.2 L1259.0,285.3 L1259.5,285.5 L1260.0,285.6 L1260.5,285.9 L1261.0,286.2 L1261.5,286.5 L1262.0,286.7 L1262.5,286.9 L1263.0,287.1 L1263.5,287.2 L1264.0,287.6 L1264.5,287.9 L1265.0,288.2 L1265.5,288.4 L1266.0,288.6 L1266.5,288.9 L1267.0,289.2 L1267.5,289.5 L1268.0,289.7 L1268.5,290.0 L1269.0,290.3 L1269.5,290.5 L1270.0,290.9 L1270.5,291.2 L1271.0,291.6 L1271.5,291.8 L1272.0,292.1 L1272.5,292.2 L1273.0,292.6 L1273.5,292.9 L1274.0,293.4 L1274.5,293.6 L1275.0,293.9 L1275.5,294.2 L1276.0,294.5 L1276.5,295.0 L1277.0,295.2 L1277.5,295.6 L1278.0,295.8 L1278.5,296.3 L1279.0,296.6 L1279.5,296.9 L1280.0,297.1 L1280.5,297.5 L1281.0,297.7 L1281.5,298.2 L1282.0,298.6 L1282.5,299.0 L1283.0,299.2 L1283.5,299.3 L1284.0,299.6 L1284.5,300.0 L1285.0,300.3 L1285.5,300.5 L1286.0,300.8 L1286.5,301.0 L1287.0,301.3 L1287.5,301.5 L1288.0,302.0 L1288.5,302.5 L1289.0,302.8 L1289.5,303.0 L1290.0,303.2 L1290.5,303.5 L1291.0,303.9 L1291.5,304.2 L1292.0,304.4 L1292.5,304.7 L1293.0,304.9 L1293.5,305.2 L1294.0,305.5 L1294.5,305.8 L1295.0,306.0 L1295.5,306.4 L1296.0,306.6 L1296.5,306.8 L1297.0,307.1 L1297.5,307.5 L1298.0,307.8 L1298.5,308.1 L1299.0,308.3 L1299.5,308.5 L1300.0,308.8 L1300.5,309.1 L1301.0,309.4" fill="none" stroke="#ff8000" stroke-width="4.15" stroke-linejoin="round" stroke-linecap="butt"/><path d="M1299.0,308.3 L1299.5,308.5 L1300.0,308.8 L1300.5,309.1 L1301.0,309.4 L1301.5,309.6 L1302.0,309.9 L1302.5,310.1 L1303.0,310.5 L1303.5,310.7 L1304.0,311.0 L1304.5,311.2 L1305.0,311.5 L1305.5,311.8 L1306.0,312.1 L1306.5,312.4 L1307.0,312.7 L1307.5,313.0 L1308.0,313.3 L1308.5,313.6 L1309.0,313.9 L1309.5,314.2 L1310.0,314.5 L1310.5,314.7 L1311.0,315.1 L1311.5,315.4 L1312.0,315.8 L1312.5,316.1 L1313.0,316.5 L1313.5,316.8 L1314.0,317.2 L1314.5,317.5 L1315.0,317.7 L1315.5,318.0 L1316.0,318.4 L1316.5,318.8 L1317.0,319.1 L1317.5,319.4 L1318.0,319.7 L1318.5,320.1 L1319.0,320.4 L1319.5,320.8 L1320.0,321.2 L1320.5,321.6 L1321.0,322.1 L1321.5,322.4 L1322.0,322.8 L1322.5,323.2 L1323.0,323.6 L1323.5,324.0 L1324.0,324.3 L1324.5,324.8 L1325.0,325.1 L1325.5,325.5 L1326.0,325.9 L1326.5,326.2 L1327.0,326.7 L1327.5,327.1 L1328.0,327.7 L1328.5,328.2 L1329.0,328.6 L1329.5,328.9 L1330.0,329.3 L1330.5,329.7 L1331.0,330.3 L1331.5,330.7 L1332.0,331.2 L1332.5,331.6 L1333.0,332.1 L1333.5,332.6 L1334.0,332.9 L1334.5,333.3 L1335.0,333.8 L1335.5,334.5 L1336.0,335.0 L1336.5,335.4 L1337.0,335.9 L1337.5,336.5 L1338.0,337.0 L1338.5,337.3 L1339.0,337.9 L1339.5,338.4 L1340.0,338.9 L1340.5,339.4 L1341.0,340.0 L1341.5,340.6 L1342.0,341.1 L1342.5,341.6 L1343.0,342.1 L1343.5,342.6 L1344.0,343.2 L1344.5,343.8 L1345.0,344.4 L1345.5,345.1 L1346.0,345.6 L1346.5,346.2 L1347.0,346.6 L1347.5,347.1 L1348.0,347.5 L1348.5,348.1 L1349.0,348.6 L1349.5,349.2 L1350.0,349.7 L1350.5,350.2 L1351.0,350.7 L1351.5,351.3 L1352.0,351.7 L1352.5,352.2 L1353.0,352.6 L1353.5,353.1 L1354.0,353.7 L1354.5,354.1 L1355.0,354.6 L1355.5,355.1 L1356.0,355.7 L1356.5,356.3 L1357.0,356.8 L1357.5,357.4 L1358.0,357.9 L1358.5,358.4 L1359.0,358.8 L1359.5,359.2 L1360.0,359.6 L1360.5,360.2 L1361.0,360.8 L1361.5,361.5 L1362.0,362.1 L1362.5,362.6 L1363.0,363.2 L1363.5,363.6 L1364.0,364.3 L1364.5,365.0 L1365.0,365.6 L1365.5,366.2 L1366.0,366.8 L1366.5,367.4 L1367.0,368.0 L1367.5,368.5 L1368.0,369.0 L1368.5,369.7 L1369.0,370.3 L1369.5,370.9 L1370.0,371.4 L1370.5,372.0 L1371.0,372.4 L1371.5,372.9 L1372.0,373.4 L1372.5,373.9 L1373.0,374.6 L1373.5,375.2 L1374.0,375.8 L1374.5,376.1 L1375.0,376.5 L1375.5,377.0 L1376.0,377.5 L1376.5,378.0 L1377.0,378.5 L1377.5,379.0 L1378.0,379.5 L1378.5,379.9 L1379.0,380.5 L1379.5,380.9 L1380.0,381.5 L1380.5,381.8 L1381.0,382.5 L1381.5,382.9 L1382.0,383.4 L1382.5,383.8 L1383.0,384.3 L1383.5,384.8 L1384.0,385.2 L1384.5,385.6 L1385.0,386.1 L1385.5,386.5 L1386.0,387.1 L1386.5,387.7 L1387.0,388.3 L1387.5,388.7 L1388.0,389.2 L1388.5,389.5 L1389.0,390.1 L1389.5,390.5 L1390.0,391.1 L1390.5,391.6 L1391.0,392.1 L1391.5,392.6 L1392.0,393.2 L1392.5,393.7 L1393.0,394.2 L1393.5,394.7 L1394.0,395.2 L1394.5,395.7 L1395.0,396.1 L1395.5,396.7 L1396.0,397.2 L1396.5,397.8 L1397.0,398.3 L1397.5,398.8 L1398.0,399.4 L1398.5,400.0 L1399.0,400.4 L1399.5,400.9 L1400.0,401.3 L1400.5,401.9 L1401.0,402.5 L1401.5,403.0 L1402.0,403.5 L1402.5,404.0 L1403.0,404.7 L1403.5,405.2 L1404.0,405.6 L1404.5,406.1 L1405.0,406.7 L1405.5,407.1 L1406.0,407.6 L1406.5,408.0 L1407.0,408.6 L1407.5,409.1 L1408.0,409.7 L1408.5,410.2 L1409.0,410.6 L1409.5,411.0 L1410.0,411.5 L1410.5,412.1 L1411.0,412.6 L1411.5,413.1 L1412.0,413.6 L1412.5,414.1 L1413.0,414.5 L1413.5,415.0 L1414.0,415.3 L1414.5,415.8 L1415.0,416.1 L1415.5,416.7 L1416.0,417.4 L1416.5,417.7 L1417.0,418.1 L1417.5,418.5 L1418.0,418.9 L1418.5,419.4 L1419.0,419.7 L1419.5,420.0 L1420.0,420.4 L1420.5,420.9 L1421.0,421.3 L1421.5,421.6 L1422.0,421.9 L1422.5,422.4 L1423.0,422.8 L1423.5,423.3 L1424.0,423.6 L1424.5,423.7 L1425.0,424.0 L1425.5,424.3 L1426.0,424.8 L1426.5,425.2 L1427.0,425.6 L1427.5,425.8 L1428.0,425.9 L1428.5,426.3 L1429.0,426.7 L1429.5,427.1 L1430.0,427.3 L1430.5,427.6 L1431.0,427.9 L1431.5,428.4 L1432.0,428.6 L1432.5,429.1 L1433.0,429.6 L1433.5,430.2 L1434.0,430.6 L1434.5,429.5 L1435.0,428.4 L1435.5,428.4 L1436.0,429.2 L1436.5,430.0 L1437.0,430.9 L1437.5,431.4 L1438.0,431.7 L1438.5,432.1 L1439.0,432.3 L1439.5,432.7 L1440.0,433.0 L1440.5,433.4 L1441.0,433.6 L1441.5,433.8 L1442.0,433.9 L1442.5,434.3 L1443.0,434.7 L1443.5,435.0 L1444.0,435.3 L1444.5,435.6 L1445.0,436.1 L1445.5,436.5 L1446.0,436.7 L1446.5,436.9 L1447.0,437.2 L1447.5,437.6 L1448.0,438.0 L1448.5,438.3 L1449.0,438.5 L1449.5,438.9 L1450.0,439.2 L1450.5,439.6 L1451.0,439.9 L1451.5,440.1 L1452.0,440.3 L1452.5,440.5 L1453.0,440.9 L1453.5,441.3 L1454.0,441.8 L1454.5,442.3 L1455.0,442.6 L1455.5,443.2 L1456.0,443.7 L1456.5,444.2 L1457.0,442.8 L1457.5,441.6 L1458.0,441.6 L1458.5,442.4 L1459.0,443.1 L1459.5,443.9 L1460.0,444.3 L1460.5,444.5 L1461.0,444.7 L1461.5,444.9 L1462.0,445.0 L1462.5,445.2 L1463.0,445.4 L1463.5,445.6 L1464.0,445.8 L1464.5,445.9 L1465.0,446.2 L1465.5,446.3 L1466.0,446.5 L1466.5,446.5 L1467.0,446.7 L1467.5,446.8 L1468.0,446.9 L1468.5,447.0 L1469.0,447.1 L1469.5,447.1 L1470.0,447.2 L1470.5,447.3 L1471.0,447.5 L1471.5,447.5 L1472.0,447.5 L1472.5,447.5 L1473.0,447.6 L1473.5,447.6 L1474.0,447.6 L1474.5,447.7 L1475.0,447.8 L1475.5,447.9 L1476.0,447.8 L1476.5,447.8 L1477.0,447.8 L1477.5,447.9 L1478.0,448.0 L1478.5,448.0 L1479.0,448.1 L1479.5,447.8 L1480.0,447.9 L1480.5,447.8 L1481.0,447.9 L1481.5,447.9 L1482.0,447.8 L1482.5,447.8 L1483.0,447.9 L1483.5,447.9 L1484.0,447.9 L1484.5,447.8 L1485.0,447.8 L1485.5,447.7 L1486.0,447.6 L1486.5,447.5 L1487.0,447.4 L1487.5,447.3 L1488.0,447.2 L1488.5,447.1 L1489.0,447.1 L1489.5,446.8 L1490.0,446.7 L1490.5,446.7 L1491.0,446.6 L1491.5,446.5 L1492.0,446.4 L1492.5,446.2 L1493.0,446.2 L1493.5,446.0 L1494.0,445.9 L1494.5,445.8 L1495.0,445.7 L1495.5,445.4 L1496.0,445.1 L1496.5,444.9 L1497.0,444.8 L1497.5,444.7 L1498.0,444.6 L1498.5,444.4 L1499.0,444.1 L1499.5,443.9 L1500.0,443.7 L1500.5,443.5 L1501.0,443.2 L1501.5,443.3 L1502.0,443.1 L1502.5,443.0 L1503.0,442.6 L1503.5,442.4 L1504.0,442.2 L1504.5,442.0 L1505.0,441.9 L1505.5,441.8 L1506.0,441.5 L1506.5,441.2 L1507.0,440.8 L1507.5,440.7 L1508.0,440.5 L1508.5,440.4 L1509.0,439.9 L1509.5,439.5 L1510.0,439.1 L1510.5,439.1 L1511.0,438.9 L1511.5,438.8 L1512.0,438.4 L1512.5,438.1 L1513.0,437.6 L1513.5,437.4 L1514.0,437.1 L1514.5,436.8 L1515.0,436.4 L1515.5,436.3 L1516.0,436.1 L1516.5,435.9 L1517.0,435.6 L1517.5,435.3 L1518.0,434.9 L1518.5,434.5 L1519.0,434.2 L1519.5,434.0 L1520.0,433.6 L1520.5,433.3 L1521.0,432.9 L1521.5,432.8 L1522.0,432.5 L1522.5,432.1 L1523.0,431.7 L1523.5,431.3 L1524.0,431.0 L1524.5,430.7 L1525.0,430.4 L1525.5,430.1 L1526.0,429.7 L1526.5,429.3 L1527.0,428.9 L1527.5,428.6 L1528.0,428.2 L1528.5,428.0 L1529.0,427.7 L1529.5,427.4 L1530.0,427.0 L1530.5,426.7 L1531.0,426.4 L1531.5,426.1 L1532.0,425.6 L1532.5,425.2 L1533.0,424.8 L1533.5,424.6 L1534.0,424.3 L1534.5,424.1 L1535.0,423.6 L1535.5,423.2 L1536.0,422.9 L1536.5,422.5 L1537.0,422.2 L1537.5,421.8 L1538.0,421.5 L1538.5,421.2 L1539.0,420.8 L1539.5,420.4 L1540.0,420.0 L1540.5,419.7 L1541.0,419.3 L1541.5,419.0 L1542.0,418.5 L1542.5,418.2 L1543.0,417.8 L1543.5,417.5 L1544.0,417.3 L1544.5,416.9 L1545.0,416.5 L1545.5,416.2 L1546.0,415.8 L1546.5,415.5 L1547.0,415.2 L1547.5,414.7 L1548.0,414.5 L1548.5,414.1 L1549.0,413.9 L1549.5,413.6 L1550.0,413.2 L1550.5,412.8 L1551.0,412.3 L1551.5,411.9 L1552.0,411.6 L1552.5,411.3 L1553.0,410.8 L1553.5,410.6 L1554.0,410.2 L1554.5,409.9 L1555.0,409.4 L1555.5,409.1 L1556.0,408.7 L1556.5,408.3 L1557.0,408.1 L1557.5,407.7 L1558.0,407.6 L1558.5,407.1 L1559.0,406.8 L1559.5,406.4 L1560.0,406.0 L1560.5,405.6 L1561.0,405.3 L1561.5,405.2 L1562.0,404.9 L1562.5,404.4 L1563.0,403.9 L1563.5,403.5 L1564.0,403.2 L1564.5,402.8 L1565.0,402.5 L1565.5,402.3 L1566.0,402.0 L1566.5,401.6 L1567.0,401.0 L1567.5,400.6 L1568.0,400.3 L1568.5,400.1 L1569.0,399.9 L1569.5,399.5 L1570.0,399.1 L1570.5,398.6 L1571.0,398.3 L1571.5,398.0 L1572.0,397.5 L1572.5,397.1 L1573.0,396.6 L1573.5,396.3 L1574.0,395.8 L1574.5,395.4 L1575.0,395.1 L1575.5,394.8 L1576.0,394.4 L1576.5,394.0 L1577.0,393.7 L1577.5,393.3 L1578.0,392.9 L1578.5,392.5 L1579.0,392.1 L1579.5,391.5 L1580.0,391.0 L1580.5,390.7 L1581.0,390.5 L1581.5,390.1 L1582.0,389.6 L1582.5,389.2 L1583.0,388.7 L1583.5,388.4 L1584.0,388.0 L1584.5,387.6 L1585.0,387.1 L1585.5,386.6 L1586.0,386.1 L1587.6,384.5 L1588.3,388.0 L1588.9,399.0" fill="none" stroke="#ff8000" stroke-width="5.0" stroke-linejoin="round" stroke-linecap="butt"/><path d="M969.0,228.8 L969.5,228.3 L970.0,228.4 L970.5,228.4 L971.0,227.8 L971.5,227.4 L972.0,227.6 L972.5,227.3 L973.0,227.0 L973.5,227.0 L974.0,226.6 L974.5,226.5 L975.0,226.4 L975.5,226.4 L976.0,225.8 L976.5,225.7 L977.0,226.0 L977.5,225.8 L978.0,225.8 L978.5,225.0 L979.0,224.8 L979.5,224.6 L980.0,223.8 L980.5,224.1 L981.0,224.4 L981.5,224.2 L982.0,223.9 L982.5,223.7 L983.0,223.1 L983.5,222.8 L984.0,223.4 L984.5,222.4 L985.0,221.2 L985.5,221.3 L986.0,220.6 L986.5,220.1 L987.0,219.9 L987.5,219.3 L988.0,218.8 L988.5,218.1 L989.0,217.7 L989.5,217.4 L990.0,216.5 L990.5,216.9 L991.0,216.8 L991.5,216.0 L992.0,215.4 L992.5,215.4 L993.0,215.4 L993.5,214.9 L994.0,215.2 L994.5,215.3 L995.0,214.7 L995.5,214.5 L996.0,214.6 L996.5,214.4 L997.0,214.1 L997.5,214.3 L998.0,214.2 L998.5,214.2 L999.0,214.6 L999.5,214.3 L1000.0,214.0 L1000.5,215.0 L1001.0,214.8 L1001.5,214.2 L1002.0,214.7 L1002.5,214.8 L1003.0,215.0 L1003.5,215.2 L1004.0,215.3 L1004.5,215.0 L1005.0,214.4 L1005.5,214.3 L1006.0,214.7 L1006.5,214.9 L1007.0,214.9 L1007.5,214.7 L1008.0,214.1 L1008.5,213.9 L1009.0,214.2 L1009.5,214.5 L1010.0,214.6 L1010.5,214.5 L1011.0,213.9 L1011.5,213.6 L1012.0,214.1 L1012.5,214.4 L1013.0,214.8 L1013.5,214.6 L1014.0,214.8 L1014.5,214.7 L1015.0,214.6 L1015.5,215.6 L1016.0,215.9 L1016.5,216.3 L1017.0,216.6 L1017.5,216.6 L1018.0,217.1 L1018.5,217.0 L1019.0,217.4 L1019.5,217.6 L1020.0,217.5 L1020.5,217.8 L1021.0,217.7 L1021.5,217.8 L1022.0,218.2 L1022.5,218.1 L1023.0,218.6 L1023.5,218.5 L1024.0,217.8 L1024.5,218.3 L1025.0,218.3 L1025.5,218.2 L1026.0,217.6 L1026.5,217.1 L1027.0,217.4 L1027.5,217.7 L1028.0,217.4 L1028.5,217.0 L1029.0,217.5 L1029.5,217.5 L1030.0,217.0 L1030.5,216.7 L1031.0,216.6 L1031.5,215.9 L1032.0,215.2 L1032.5,215.3 L1033.0,215.2 L1033.5,215.1 L1034.0,214.3 L1034.5,214.1 L1035.0,214.2 L1035.5,214.6 L1036.0,214.4 L1036.5,213.6 L1037.0,213.1 L1037.5,212.4 L1038.0,211.9 L1038.5,211.7 L1039.0,211.8 L1039.5,210.9 L1040.0,210.3 L1040.5,210.4 L1041.0,210.2 L1041.5,209.5 L1042.0,209.3 L1042.5,208.9 L1043.0,208.6 L1043.5,208.7 L1044.0,208.4 L1044.5,208.8 L1045.0,208.9 L1045.5,209.2 L1046.0,209.0 L1046.5,208.0 L1047.0,208.3 L1047.5,208.4 L1048.0,208.0 L1048.5,208.2 L1049.0,208.7 L1049.5,208.0 L1050.0,207.5 L1050.5,208.2 L1051.0,208.1 L1051.5,208.2 L1052.0,208.4 L1052.5,208.1 L1053.0,208.2 L1053.5,207.8 L1054.0,207.8 L1054.5,208.0 L1055.0,208.1 L1055.5,208.7 L1056.0,209.2 L1056.5,209.0 L1057.0,209.1 L1057.5,209.7 L1058.0,209.8 L1058.5,209.5 L1059.0,209.8 L1059.5,209.9 L1060.0,209.4 L1060.5,210.0 L1061.0,209.9 L1061.5,209.3 L1062.0,209.6 L1062.5,209.4 L1063.0,209.6 L1063.5,210.0 L1064.0,209.5 L1064.5,208.6 L1065.0,208.4 L1065.5,208.2 L1066.0,208.2 L1066.5,208.7 L1067.0,208.5 L1067.5,208.5 L1068.0,208.2 L1068.5,207.4 L1069.0,206.9 L1069.5,207.1 L1070.0,206.3 L1070.5,205.8 L1071.0,205.7 L1071.5,205.9 L1072.0,205.5 L1072.5,204.0 L1073.0,204.3 L1073.5,204.8 L1074.0,204.1 L1074.5,203.5 L1075.0,203.0 L1075.5,202.7 L1076.0,203.2 L1076.5,203.5 L1077.0,203.5 L1077.5,203.6 L1078.0,204.1 L1078.5,205.0 L1079.0,205.3 L1079.5,204.8 L1080.0,204.8 L1080.5,205.1 L1081.0,205.3 L1081.5,205.8 L1082.0,206.8 L1082.5,207.0 L1083.0,206.5 L1083.5,206.5 L1084.0,206.8 L1084.5,206.7 L1085.0,206.9 L1085.5,207.8 L1086.0,207.5 L1086.5,207.9 L1087.0,208.9 L1087.5,208.5 L1088.0,208.3 L1088.5,208.6 L1089.0,208.4 L1089.5,208.8 L1090.0,209.1 L1090.5,208.4 L1091.0,207.6 L1091.5,207.8 L1092.0,207.5 L1092.5,206.9 L1093.0,207.0 L1093.5,206.9 L1094.0,206.8 L1094.5,207.2 L1095.0,206.5 L1095.5,206.2 L1096.0,205.9 L1096.5,205.3 L1097.0,205.6 L1097.5,206.1 L1098.0,205.3 L1098.5,205.3 L1099.0,205.9 L1099.5,205.7 L1100.0,206.1 L1100.5,206.7 L1101.0,207.4 L1101.5,207.2 L1102.0,206.6 L1102.5,206.5 L1103.0,206.3 L1103.5,206.3 L1104.0,207.3 L1104.5,207.5 L1105.0,207.1 L1105.5,207.6 L1106.0,207.9 L1106.5,208.1 L1107.0,208.2 L1107.5,208.4 L1108.0,209.0 L1108.5,209.2 L1109.0,208.7 L1109.5,208.1 L1110.0,208.0 L1110.5,208.0 L1111.0,207.6 L1111.5,207.0 L1112.0,207.1 L1112.5,207.0 L1113.0,206.6 L1113.5,206.6 L1114.0,206.6 L1114.5,206.1 L1115.0,206.4 L1115.5,206.6 L1116.0,206.2 L1116.5,206.5 L1117.0,207.1 L1117.5,207.2 L1118.0,206.4 L1118.5,206.4 L1119.0,207.3 L1119.5,207.9 L1120.0,208.5 L1120.5,208.8 L1121.0,208.6 L1121.5,209.0 L1122.0,209.1 L1122.5,209.4 L1123.0,209.4 L1123.5,209.8 L1124.0,210.1 L1124.5,209.8 L1125.0,209.7 L1125.5,208.9 L1126.0,208.8 L1126.5,209.0 L1127.0,208.9 L1127.5,208.8 L1128.0,208.6 L1128.5,208.3 L1129.0,207.6 L1129.5,207.5 L1130.0,207.7 L1130.5,208.0 L1131.0,208.5 L1131.5,208.9 L1132.0,209.1 L1132.5,209.5 L1133.0,210.1 L1133.5,210.4 L1134.0,210.6 L1134.5,210.9 L1135.0,211.3 L1135.5,211.4 L1136.0,210.9 L1136.5,211.0 L1137.0,212.2 L1137.5,212.0 L1138.0,211.5 L1138.5,211.6 L1139.0,211.6 L1139.5,211.5 L1140.0,210.7 L1140.5,210.2 L1141.0,209.5 L1141.5,209.6 L1142.0,209.9 L1142.5,208.8 L1143.0,208.1 L1143.5,208.2 L1144.0,208.2 L1144.5,208.1 L1145.0,208.9 L1145.5,209.4 L1146.0,209.6 L1146.5,210.2 L1147.0,210.2 L1147.5,210.7 L1148.0,211.5 L1148.5,211.2 L1149.0,211.0 L1149.5,211.5 L1150.0,212.0 L1150.5,211.7 L1151.0,211.4 L1151.5,211.4 L1152.0,211.2 L1152.5,211.3 L1153.0,211.6 L1153.5,212.2 L1154.0,212.1 L1154.5,212.5 L1155.0,213.6 L1155.5,214.6 L1156.0,215.6 L1156.5,217.0 L1157.0,218.3 L1157.5,218.4 L1158.0,218.7 L1158.5,218.3 L1159.0,217.5 L1159.5,217.3 L1160.0,216.6 L1160.5,215.8 L1161.0,215.5 L1161.5,215.4 L1162.0,214.8 L1162.5,214.5 L1163.0,214.2 L1163.5,213.4 L1164.0,213.4 L1164.5,213.8 L1165.0,214.1 L1165.5,214.7 L1166.0,215.1 L1166.5,215.7 L1167.0,216.0 L1167.5,216.1 L1168.0,216.4 L1168.5,216.3 L1169.0,216.6 L1169.5,217.1 L1170.0,216.4 L1170.5,216.0 L1171.0,216.1 L1171.5,215.8 L1172.0,215.2 L1172.5,214.6 L1173.0,213.9 L1173.5,213.4 L1174.0,213.9 L1174.5,214.7 L1175.0,215.9 L1175.5,216.8 L1176.0,217.8 L1176.5,219.0 L1177.0,219.5 L1177.5,220.1 L1178.0,220.7 L1178.5,221.2 L1179.0,221.1 L1179.5,220.8 L1180.0,221.3 L1180.5,221.6 L1181.0,221.9 L1181.5,222.5 L1182.0,222.0 L1182.5,222.0 L1183.0,221.5 L1183.5,219.9 L1184.0,219.8 L1184.5,219.7 L1185.0,218.5 L1185.5,218.1 L1186.0,218.6 L1186.5,219.4 L1187.0,219.4 L1187.5,219.1 L1188.0,219.3 L1188.5,220.1 L1189.0,220.7 L1189.5,220.7 L1190.0,220.5 L1190.5,220.1 L1191.0,219.3 L1191.5,218.2 L1192.0,217.1 L1192.5,216.3 L1193.0,215.6 L1193.5,214.6 L1194.0,215.6 L1194.5,217.5 L1195.0,220.4 L1195.5,222.4 L1196.0,224.1 L1196.5,225.7 L1197.0,226.8 L1197.5,227.4 L1198.0,227.2 L1198.5,226.7 L1199.0,226.1 L1199.5,225.2 L1200.0,225.0 L1200.5,224.8 L1201.0,224.1 L1201.5,223.1 L1202.0,222.7 L1202.5,223.0 L1203.0,223.3 L1203.5,224.0 L1204.0,224.4 L1204.5,223.9 L1205.0,223.8 L1205.5,224.4 L1206.0,224.3 L1206.5,224.3 L1207.0,224.9 L1207.5,225.1 L1208.0,224.9 L1208.5,224.9 L1209.0,224.2 L1209.5,224.5 L1210.0,225.7 L1210.5,226.2 L1211.0,226.7 L1211.5,226.1 L1212.0,225.6 L1212.5,225.9 L1213.0,226.2 L1213.5,226.5 L1214.0,226.9 L1214.5,227.7 L1215.0,228.2 L1215.5,228.6 L1216.0,229.1 L1216.5,229.3 L1217.0,229.3 L1217.5,229.8 L1218.0,230.3 L1218.5,230.9 L1219.0,231.8 L1219.5,232.1 L1220.0,231.9 L1220.5,232.1 L1221.0,233.1 L1221.5,234.2 L1222.0,234.7 L1222.5,234.4 L1223.0,234.9 L1223.5,236.8 L1224.0,237.1 L1224.5,236.8 L1225.0,237.6 L1225.5,238.0 L1226.0,237.9" fill="none" stroke="#0000ff" stroke-width="3.9" stroke-linejoin="round" stroke-linecap="round"/><path d="M1224.5,236.8 L1225.0,237.6 L1225.5,238.0 L1226.0,237.9 L1226.5,238.8 L1227.0,239.3 L1227.5,239.6 L1228.0,240.2 L1228.5,240.4 L1229.0,240.7 L1229.5,241.4 L1230.0,242.1 L1230.5,242.3 L1231.0,242.7 L1231.5,243.0 L1232.0,243.9 L1232.5,244.7 L1233.0,245.1 L1233.5,245.0 L1234.0,245.4 L1234.5,245.7 L1235.0,246.3 L1236.0,246.2 L1236.5,246.8 L1237.0,247.2 L1237.5,247.9 L1238.0,248.4 L1238.5,248.9 L1239.0,249.3 L1239.5,250.0 L1240.0,250.5 L1240.5,250.9 L1241.0,251.2 L1241.5,251.7 L1242.0,252.2 L1242.5,252.8 L1243.0,253.3 L1243.5,253.9 L1244.0,254.4 L1244.5,254.9 L1245.0,255.3 L1245.5,255.8 L1246.0,256.3 L1246.5,256.7 L1247.0,257.1 L1247.5,257.5 L1248.0,258.0 L1248.5,258.6 L1249.0,258.9 L1249.5,259.4 L1250.0,259.9 L1250.5,260.3 L1251.0,260.8 L1251.5,261.4 L1252.0,261.8 L1252.5,262.3 L1253.0,262.6 L1253.5,263.2 L1254.0,263.7 L1254.5,264.1 L1255.0,264.5 L1255.5,265.0 L1256.0,265.5 L1256.5,266.0 L1257.0,266.4 L1257.5,266.8 L1258.0,267.3 L1258.5,267.9 L1259.0,268.3 L1259.5,268.8 L1260.0,269.2 L1260.5,269.7 L1261.0,270.3 L1261.5,270.8 L1262.0,271.5 L1262.5,272.1 L1263.0,272.6 L1263.5,273.0 L1264.0,273.5 L1264.5,273.9 L1265.0,274.4 L1265.5,274.9 L1266.0,275.5 L1266.5,276.3 L1267.0,276.9 L1267.5,277.6 L1268.0,277.9 L1268.5,278.3 L1269.0,278.8 L1269.5,279.4 L1270.0,280.1 L1270.5,280.6 L1271.0,281.0 L1271.5,281.5 L1272.0,282.1 L1272.5,282.7 L1273.0,283.2 L1273.5,283.8 L1274.0,284.4 L1274.5,284.8 L1275.0,285.2 L1275.5,285.7 L1276.0,286.3 L1276.5,286.9 L1277.0,287.6 L1277.5,288.1 L1278.0,288.8 L1278.5,289.5 L1279.0,290.1 L1279.5,290.5 L1280.0,291.0 L1280.5,291.7 L1281.0,292.3 L1281.5,292.9 L1282.0,293.4 L1282.5,294.1 L1283.0,294.7 L1283.5,295.2 L1284.0,295.7 L1284.5,296.2 L1285.0,296.8 L1285.5,297.5 L1286.0,298.2 L1286.5,298.6 L1287.0,299.2 L1287.5,299.7 L1288.0,300.4 L1288.5,300.9 L1289.0,301.5 L1289.5,302.0 L1290.0,302.8 L1290.5,303.3 L1291.0,304.0 L1291.5,304.5 L1292.0,305.1 L1292.5,305.6 L1293.0,306.2 L1293.5,306.9 L1294.0,307.4 L1294.5,308.0 L1295.0,308.6 L1295.5,309.2 L1296.0,309.8 L1296.5,310.3 L1297.0,310.8 L1297.5,311.3 L1298.0,311.9 L1298.5,312.5 L1299.0,313.2 L1299.5,313.8 L1300.0,314.5 L1300.5,315.2 L1301.0,315.6" fill="none" stroke="#0000ff" stroke-width="4.3" stroke-linejoin="round" stroke-linecap="butt"/><path d="M1299.0,313.2 L1299.5,313.8 L1300.0,314.5 L1300.5,315.2 L1301.0,315.6 L1301.5,316.2 L1302.0,316.7 L1302.5,317.4 L1303.0,317.9 L1303.5,318.3 L1304.0,319.0 L1304.5,319.6 L1305.0,320.2 L1305.5,320.7 L1306.0,321.2 L1306.5,321.8 L1307.0,322.4 L1307.5,323.1 L1308.0,323.6 L1308.5,324.3 L1309.0,324.9 L1309.5,325.6 L1310.0,326.0 L1310.5,326.4 L1311.0,326.8 L1311.5,327.4 L1312.0,328.0 L1312.5,328.5 L1313.0,329.0 L1313.5,329.6 L1314.0,330.1 L1314.5,330.8 L1315.0,331.5 L1315.5,332.1 L1316.0,332.7 L1316.5,333.2 L1317.0,333.7 L1317.5,334.3 L1318.0,334.8 L1318.5,335.5 L1319.0,336.1 L1319.5,336.8 L1320.0,337.2 L1320.5,337.6 L1321.0,338.2 L1321.5,338.8 L1322.0,339.5 L1322.5,340.1 L1323.0,340.9 L1323.5,341.4 L1324.0,342.0 L1324.5,342.5 L1325.0,343.3 L1325.5,343.9 L1326.0,344.6 L1326.5,345.1 L1327.0,345.8 L1327.5,346.4 L1328.0,347.2 L1328.5,347.9 L1329.0,348.5 L1329.5,349.2 L1330.0,349.8 L1330.5,350.5 L1331.0,351.2 L1331.5,352.0 L1332.0,352.7 L1332.5,353.4 L1333.0,354.1 L1333.5,354.8 L1334.0,355.6 L1334.5,356.3 L1335.0,357.1 L1335.5,357.9 L1336.0,358.6 L1336.5,359.2 L1337.0,359.9 L1337.5,360.6 L1338.0,361.3 L1338.5,361.9 L1339.0,362.6 L1339.5,363.3 L1340.0,364.0 L1340.5,364.8 L1341.0,365.3 L1341.5,366.0 L1342.0,366.5 L1342.5,367.3 L1343.0,367.9 L1343.5,368.5 L1344.0,369.1 L1344.5,369.8 L1345.0,370.5 L1345.5,371.1 L1346.0,371.7 L1346.5,372.3 L1347.0,373.0 L1347.5,373.6 L1348.0,374.2 L1348.5,374.6 L1349.0,375.1 L1349.5,375.7 L1350.0,376.4 L1350.5,377.0 L1351.0,377.5 L1351.5,378.0 L1352.0,378.5 L1352.5,379.1 L1353.0,379.7 L1353.5,380.3 L1354.0,380.9 L1354.5,381.4 L1355.0,381.9 L1355.5,382.4 L1356.0,383.0 L1356.5,383.5 L1357.0,384.1 L1357.5,384.6 L1358.0,385.0 L1358.5,385.7 L1359.0,386.2 L1359.5,386.9 L1360.0,387.5 L1360.5,387.9 L1361.0,388.4 L1361.5,388.8 L1362.0,389.6 L1362.5,390.1 L1363.0,390.7 L1363.5,391.2 L1364.0,391.8 L1364.5,392.4 L1365.0,392.8 L1365.5,393.4 L1366.0,393.9 L1366.5,394.6 L1367.0,395.0 L1367.5,395.5 L1368.0,396.1 L1368.5,396.7 L1369.0,397.3 L1369.5,397.8 L1370.0,398.3 L1370.5,398.8 L1371.0,399.4 L1371.5,400.0 L1372.0,400.5 L1372.5,401.0 L1373.0,401.6 L1373.5,402.3 L1374.0,402.9 L1374.5,403.3 L1375.0,403.9 L1375.5,404.3 L1376.0,405.0 L1376.5,405.5 L1377.0,406.2 L1377.5,406.8 L1378.0,407.5 L1378.5,408.0 L1379.0,408.5 L1379.5,409.1 L1380.0,409.8 L1380.5,410.3 L1381.0,410.9 L1381.5,411.4 L1382.0,411.9 L1382.5,412.5 L1383.0,413.0 L1383.5,413.5 L1384.0,414.0 L1384.5,414.7 L1385.0,415.4 L1385.5,415.8 L1386.0,416.4 L1386.5,416.9 L1387.0,417.4 L1387.5,417.9 L1388.0,418.6 L1388.5,419.3 L1389.0,419.8 L1389.5,420.3 L1390.0,420.9 L1390.5,421.6 L1391.0,422.2 L1391.5,422.7 L1392.0,423.3 L1392.5,423.7 L1393.0,424.3 L1393.5,424.8 L1394.0,425.3 L1394.5,425.8 L1395.0,426.3 L1395.5,426.9 L1396.0,427.3 L1396.5,427.9 L1397.0,428.6 L1397.5,429.2 L1398.0,429.8 L1398.5,430.2 L1399.0,430.7 L1399.5,431.2 L1400.0,431.8 L1400.5,432.2 L1401.0,432.7 L1401.5,433.2 L1402.0,433.8 L1402.5,434.4 L1403.0,434.8 L1403.5,435.3 L1404.0,435.9 L1404.5,436.5 L1405.0,437.1 L1405.5,437.6 L1406.0,438.1 L1406.5,438.4 L1407.0,439.0 L1407.5,439.3 L1408.0,439.9 L1408.5,440.2 L1409.0,440.8 L1409.5,441.3 L1410.0,441.8 L1410.5,442.4 L1411.0,442.9 L1411.5,443.3 L1412.0,443.7 L1412.5,444.1 L1413.0,444.8 L1413.5,445.3 L1414.0,445.8 L1414.5,446.2 L1415.0,446.7 L1415.5,447.2 L1416.0,447.6 L1416.5,448.2 L1417.0,448.6 L1417.5,449.1 L1418.0,449.3 L1418.5,449.7 L1419.0,450.1 L1419.5,450.6 L1420.0,451.1 L1420.5,451.6 L1421.0,452.1 L1421.5,452.4 L1422.0,452.7 L1422.5,452.9 L1423.0,453.4 L1423.5,453.9 L1424.0,454.5 L1424.5,454.8 L1425.0,455.2 L1425.5,455.4 L1426.0,455.9 L1426.5,456.2 L1427.0,456.5 L1427.5,456.8 L1428.0,457.3 L1428.5,457.8 L1429.0,458.2 L1429.5,458.5 L1430.0,458.9 L1430.5,459.4 L1431.0,459.6 L1431.5,460.1 L1432.0,460.7 L1432.5,461.4 L1433.0,462.1 L1433.5,462.7 L1434.0,463.3 L1434.5,462.1 L1435.0,461.1 L1435.5,461.1 L1436.0,462.0 L1436.5,462.8 L1437.0,463.8 L1437.5,464.4 L1438.0,464.7 L1438.5,465.0 L1439.0,465.3 L1439.5,465.7 L1440.0,466.1 L1440.5,466.3 L1441.0,466.7 L1441.5,467.1 L1442.0,467.4 L1442.5,467.7 L1443.0,468.0 L1443.5,468.5 L1444.0,468.7 L1444.5,469.1 L1445.0,469.4 L1445.5,469.6 L1446.0,469.9 L1446.5,470.2 L1447.0,470.6 L1447.5,470.9 L1448.0,471.1 L1448.5,471.2 L1449.0,471.5 L1449.5,471.9 L1450.0,472.3 L1450.5,472.7 L1451.0,472.9 L1451.5,473.2 L1452.0,473.5 L1452.5,473.9 L1453.0,474.2 L1453.5,474.4 L1454.0,474.8 L1454.5,475.5 L1455.0,476.0 L1455.5,476.5 L1456.0,477.0 L1456.5,477.5 L1457.0,476.4 L1457.5,475.2 L1458.0,475.2 L1458.5,476.0 L1459.0,476.9 L1459.5,477.8 L1460.0,478.3 L1460.5,478.6 L1461.0,478.9 L1461.5,479.1 L1462.0,479.3 L1462.5,479.6 L1463.0,479.9 L1463.5,480.3 L1464.0,480.6 L1464.5,480.6 L1465.0,480.8 L1465.5,480.9 L1466.0,481.3 L1466.5,481.6 L1467.0,481.9 L1467.5,482.2 L1468.0,482.5 L1468.5,482.7 L1469.0,483.0 L1469.5,483.2 L1470.0,483.6 L1470.5,483.9 L1471.0,484.2 L1471.5,484.5 L1472.0,484.6 L1472.5,484.8 L1473.0,485.1 L1473.5,485.5 L1474.0,485.7 L1474.5,485.8 L1475.0,486.1 L1475.5,486.3 L1476.0,486.7 L1476.5,486.9 L1477.0,487.3 L1477.5,487.6 L1478.0,487.9 L1478.5,488.1 L1479.0,488.3 L1479.5,488.5 L1480.0,488.7 L1480.5,488.9 L1481.0,489.3 L1481.5,489.6 L1482.0,489.9 L1482.5,490.3 L1483.0,490.6 L1483.5,490.9 L1484.0,491.1 L1484.5,491.3 L1485.0,491.4 L1485.5,491.5 L1486.0,491.8 L1486.5,492.4 L1487.0,492.8 L1487.5,493.0 L1488.0,493.0 L1488.5,493.3 L1489.0,493.4 L1489.5,493.7 L1490.0,493.9 L1490.5,494.1 L1491.0,494.3 L1491.5,494.6 L1492.0,494.9 L1492.5,495.1 L1493.0,495.3 L1493.5,495.5 L1494.0,495.8 L1494.5,496.0 L1495.0,496.1 L1495.5,496.5 L1496.0,496.8 L1496.5,497.0 L1497.0,497.2 L1497.5,497.3 L1498.0,497.3 L1498.5,497.4 L1499.0,497.6 L1499.5,497.8 L1500.0,497.9 L1500.5,497.9 L1501.0,498.1 L1501.5,498.3 L1502.0,498.6 L1502.5,498.7 L1503.0,498.9 L1503.5,499.0 L1504.0,499.0 L1504.5,499.1 L1505.0,499.2 L1505.5,499.3 L1506.0,499.4 L1506.5,499.4 L1507.0,499.4 L1507.5,499.5 L1508.0,499.6 L1508.5,499.6 L1509.0,499.5 L1509.5,499.4 L1510.0,499.6 L1510.5,499.6 L1511.0,499.7 L1511.5,499.7 L1512.0,499.7 L1512.5,499.6 L1513.0,499.4 L1513.5,499.5 L1514.0,499.4 L1514.5,499.4 L1515.0,499.4 L1515.5,499.4 L1516.0,499.2 L1516.5,499.0 L1517.0,498.8 L1517.5,498.7 L1518.0,498.5 L1518.5,498.4 L1519.0,498.3 L1519.5,498.0 L1520.0,497.7 L1520.5,497.6 L1521.0,497.4 L1521.5,497.1 L1522.0,496.8 L1522.5,496.5 L1523.0,496.2 L1523.5,496.0 L1524.0,495.8 L1524.5,495.5 L1525.0,495.0 L1525.5,494.6 L1526.0,494.4 L1526.5,494.2 L1527.0,493.9 L1527.5,493.4 L1528.0,493.0 L1528.5,492.7 L1529.0,492.3 L1529.5,491.8 L1530.0,491.4 L1530.5,491.0 L1531.0,490.4 L1531.5,489.7 L1532.0,489.3 L1532.5,488.9 L1533.0,488.5 L1533.5,487.9 L1534.0,487.4 L1534.5,486.8 L1535.0,486.3 L1535.5,485.9 L1536.0,485.4 L1536.5,484.9 L1537.0,484.3 L1537.5,483.7 L1538.0,483.2 L1538.5,482.6 L1539.0,482.0 L1539.5,481.4 L1540.0,480.8 L1540.5,480.5 L1541.0,479.9 L1541.5,479.4 L1542.0,478.7 L1542.5,478.2 L1543.0,477.6 L1543.5,477.0 L1544.0,476.4 L1544.5,475.9 L1545.0,475.4 L1545.5,475.0 L1546.0,474.4 L1546.5,473.8 L1547.0,473.2 L1547.5,472.7 L1548.0,472.2 L1548.5,471.6 L1549.0,471.1 L1549.5,470.6 L1550.0,470.2 L1550.5,469.8 L1551.0,469.2 L1551.5,468.8 L1552.0,468.4 L1552.5,468.0 L1553.0,467.5 L1553.5,467.0 L1554.0,466.5 L1554.5,466.2 L1555.0,465.8 L1555.5,465.5 L1556.0,465.0 L1556.5,464.6 L1557.0,464.2 L1557.5,464.0 L1558.0,463.7 L1558.5,463.3 L1559.0,463.0 L1559.5,462.7 L1560.0,462.6 L1560.5,462.4 L1561.0,462.3 L1561.5,462.0 L1562.0,461.8 L1562.5,461.5 L1563.0,461.3 L1563.5,461.2 L1564.0,461.1 L1564.5,461.0 L1565.0,460.8 L1565.5,460.8 L1566.0,460.7 L1566.5,460.6 L1567.0,460.6 L1567.5,460.7 L1568.0,460.7 L1568.5,460.6 L1569.0,460.6 L1569.5,460.6 L1570.0,460.4 L1570.5,460.4 L1571.0,460.2 L1571.5,460.3 L1572.0,460.1 L1572.5,460.1 L1573.0,460.1 L1573.5,460.2 L1574.0,460.2 L1574.5,460.0 L1575.0,459.9 L1575.5,459.7 L1576.0,459.8 L1576.5,459.6 L1577.0,459.4 L1577.5,459.2 L1578.0,459.0 L1578.5,458.8 L1579.0,458.5 L1579.5,458.2 L1580.0,458.1 L1580.5,457.8 L1581.0,457.6 L1581.5,457.1 L1582.0,456.8 L1582.5,456.4 L1583.0,456.1 L1583.5,455.6 L1584.0,455.0 L1584.5,454.4 L1585.0,453.8 L1585.5,453.2 L1586.0,452.6 L1586.5,452.1 L1587.0,451.4 L1587.5,450.8 L1588.0,450.0 L1588.6,451.0 L1588.9,458.0" fill="none" stroke="#0000ff" stroke-width="4.7" stroke-linejoin="round" stroke-linecap="butt"/><path d="M969.0,213.0 L969.5,213.1 L970.0,213.5 L970.5,213.4 L971.0,213.5 L971.5,213.6 L972.0,213.6 L972.5,214.1 L973.0,214.6 L973.5,214.9 L974.0,214.6 L974.5,215.1 L975.0,215.9 L975.5,215.6 L976.0,215.3 L976.5,215.1 L977.0,214.5 L977.5,214.2 L978.0,213.3 L978.5,212.8 L979.0,212.4 L979.5,211.7 L980.0,211.3 L980.5,210.6 L981.0,209.9 L981.5,210.0 L982.0,210.0 L982.5,209.7 L983.0,208.9 L983.5,208.4 L984.0,208.6 L984.5,208.5 L985.0,207.7 L985.5,206.8 L986.0,207.2 L986.5,207.8 L987.0,207.6 L987.5,207.4 L988.0,207.4 L988.5,207.1 L989.0,207.0 L989.5,206.9 L990.0,206.7 L990.5,207.0 L991.0,207.2 L991.5,206.5 L992.0,206.1 L992.5,205.8 L993.0,205.9 L993.5,205.6 L994.0,205.3 L994.5,205.7 L995.0,205.7 L995.5,205.5 L996.0,205.0 L996.5,204.9 L997.0,205.0 L997.5,205.0 L998.0,204.8 L998.5,204.7 L999.0,204.7 L999.5,204.4 L1000.0,204.0 L1000.5,203.7 L1001.0,203.6 L1001.5,203.9 L1002.0,203.8 L1002.5,203.5 L1003.0,203.8 L1003.5,203.9 L1004.0,203.5 L1004.5,203.4 L1005.0,203.0 L1005.5,202.5 L1006.0,202.9 L1006.5,203.9 L1007.0,204.2 L1007.5,204.1 L1008.0,203.8 L1008.5,203.1 L1009.0,203.4 L1009.5,203.4 L1010.0,202.6 L1010.5,203.2 L1011.0,204.3 L1011.5,204.5 L1012.0,204.8 L1012.5,205.0 L1013.0,204.9 L1013.5,204.6 L1014.0,204.6 L1014.5,204.7 L1015.0,204.9 L1015.5,205.8 L1016.0,205.9 L1016.5,205.5 L1017.0,205.1 L1017.5,205.5 L1018.0,205.0 L1018.5,204.0 L1019.0,204.5 L1019.5,204.4 L1020.0,203.8 L1020.5,204.0 L1021.0,204.2 L1021.5,204.1 L1022.0,203.5 L1022.5,203.4 L1023.0,203.1 L1023.5,202.5 L1024.0,202.4 L1024.5,202.5 L1025.0,202.4 L1025.5,201.8 L1026.0,201.7 L1026.5,201.4 L1027.0,201.0 L1027.5,200.9 L1028.0,200.7 L1028.5,200.2 L1029.0,199.8 L1029.5,200.1 L1030.0,199.6 L1030.5,199.0 L1031.0,198.9 L1031.5,198.2 L1032.0,197.6 L1032.5,197.3 L1033.0,197.2 L1033.5,197.0 L1034.0,196.6 L1034.5,195.7 L1035.0,195.1 L1035.5,195.2 L1036.0,195.2 L1036.5,194.5 L1037.0,194.4 L1037.5,194.2 L1038.0,193.3 L1038.5,193.0 L1039.0,192.5 L1039.5,192.0 L1040.0,191.8 L1040.5,191.7 L1041.0,192.1 L1041.5,191.9 L1042.0,191.9 L1042.5,191.7 L1043.0,191.5 L1043.5,191.6 L1044.0,191.1 L1044.5,191.3 L1045.0,191.9 L1045.5,192.4 L1046.0,192.0 L1046.5,191.3 L1047.0,191.6 L1047.5,191.2 L1048.0,191.1 L1048.5,191.0 L1049.0,190.3 L1049.5,190.7 L1050.0,191.0 L1050.5,191.3 L1051.0,191.2 L1051.5,190.9 L1052.0,191.2 L1052.5,191.3 L1053.0,191.5 L1053.5,191.8 L1054.0,191.7 L1054.5,191.6 L1055.0,191.6 L1055.5,191.1 L1056.0,190.6 L1056.5,191.0 L1057.0,190.9 L1057.5,190.5 L1058.0,190.7 L1058.5,190.7 L1059.0,190.2 L1059.5,189.9 L1060.0,190.0 L1060.5,190.4 L1061.0,189.8 L1061.5,189.2 L1062.0,189.7 L1062.5,189.7 L1063.0,189.1 L1063.5,188.9 L1064.0,189.0 L1064.5,189.0 L1065.0,188.3 L1065.5,187.6 L1066.0,187.9 L1066.5,188.0 L1067.0,187.8 L1067.5,187.6 L1068.0,187.5 L1068.5,187.3 L1069.0,187.5 L1069.5,187.0 L1070.0,186.1 L1070.5,185.7 L1071.0,185.7 L1071.5,185.9 L1072.0,185.6 L1072.5,185.3 L1073.0,185.8 L1073.5,186.2 L1074.0,186.0 L1074.5,185.6 L1075.0,185.5 L1075.5,186.0 L1076.0,186.3 L1076.5,186.4 L1077.0,186.2 L1077.5,185.7 L1078.0,185.4 L1078.5,185.9 L1079.0,185.9 L1079.5,185.9 L1080.0,185.8 L1080.5,186.2 L1081.0,186.2 L1081.5,186.0 L1082.0,186.3 L1082.5,186.1 L1083.0,185.9 L1083.5,185.4 L1084.0,185.2 L1084.5,186.1 L1085.0,186.1 L1085.5,185.3 L1086.0,185.7 L1086.5,185.9 L1087.0,186.0 L1087.5,186.3 L1088.0,185.5 L1088.5,185.2 L1089.0,185.7 L1089.5,185.7 L1090.0,185.2 L1090.5,185.0 L1091.0,184.7 L1091.5,184.4 L1092.0,184.4 L1092.5,184.7 L1093.0,184.4 L1093.5,184.2 L1094.0,184.3 L1094.5,183.3 L1095.0,183.1 L1095.5,183.6 L1096.0,183.0 L1096.5,182.7 L1097.0,183.6 L1097.5,183.7 L1098.0,183.9 L1098.5,184.3 L1099.0,184.3 L1099.5,184.6 L1100.0,184.9 L1100.5,185.2 L1101.0,185.5 L1101.5,185.6 L1102.0,185.7 L1102.5,185.9 L1103.0,186.5 L1103.5,186.6 L1104.0,186.9 L1104.5,187.0 L1105.0,187.1 L1105.5,187.3 L1106.0,186.7 L1106.5,186.7 L1107.0,186.9 L1107.5,187.1 L1108.0,186.7 L1108.5,186.7 L1109.0,187.1 L1109.5,187.1 L1110.0,187.3 L1110.5,186.6 L1111.0,186.3 L1111.5,186.8 L1112.0,187.0 L1112.5,187.8 L1113.0,187.6 L1113.5,187.1 L1114.0,187.5 L1114.5,188.2 L1115.0,188.7 L1115.5,188.5 L1116.0,188.6 L1116.5,188.9 L1117.0,189.2 L1117.5,189.4 L1118.0,189.5 L1118.5,189.7 L1119.0,189.5 L1119.5,189.4 L1120.0,189.7 L1120.5,189.6 L1121.0,189.1 L1121.5,189.0 L1122.0,189.2 L1122.5,189.2 L1123.0,188.7 L1123.5,188.3 L1124.0,188.4 L1124.5,188.1 L1125.0,188.1 L1125.5,188.1 L1126.0,187.4 L1126.5,187.3 L1127.0,187.3 L1127.5,187.5 L1128.0,187.6 L1128.5,187.9 L1129.0,188.8 L1129.5,188.9 L1130.0,188.8 L1130.5,188.9 L1131.0,189.1 L1131.5,189.8 L1132.0,190.6 L1132.5,191.0 L1133.0,190.6 L1133.5,190.9 L1134.0,191.2 L1134.5,191.5 L1135.0,192.2 L1135.5,192.0 L1136.0,191.6 L1136.5,191.8 L1137.0,192.1 L1137.5,191.9 L1138.0,192.2 L1138.5,192.1 L1139.0,192.4 L1139.5,193.1 L1140.0,193.5 L1140.5,193.6 L1141.0,193.6 L1141.5,194.4 L1142.0,195.2 L1142.5,194.7 L1143.0,194.9 L1143.5,195.9 L1144.0,195.9 L1144.5,196.3 L1145.0,196.7 L1145.5,196.6 L1146.0,196.5 L1146.5,197.0 L1147.0,197.0 L1147.5,195.9 L1148.0,195.8 L1148.5,196.4 L1149.0,196.4 L1149.5,197.0 L1150.0,197.3 L1150.5,197.1 L1151.0,197.7 L1151.5,198.3 L1152.0,198.3 L1152.5,198.0 L1153.0,198.4 L1153.5,199.3 L1154.0,199.8 L1154.5,200.2 L1155.0,200.4 L1155.5,200.8 L1156.0,201.3 L1156.5,201.3 L1157.0,201.5 L1157.5,201.7 L1158.0,201.8 L1158.5,201.5 L1159.0,201.7 L1159.5,202.2 L1160.0,202.4 L1160.5,202.7 L1161.0,202.7 L1161.5,202.9 L1162.0,203.6 L1162.5,203.9 L1163.0,203.8 L1163.5,203.9 L1164.0,204.4 L1164.5,204.5 L1165.0,204.5 L1165.5,204.8 L1166.0,204.7 L1166.5,205.2 L1167.0,206.1 L1167.5,206.1 L1168.0,206.4 L1168.5,207.2 L1169.0,208.3 L1169.5,208.7 L1170.0,209.4 L1170.5,210.4 L1171.0,210.1 L1171.5,210.3 L1172.0,211.4 L1172.5,211.9 L1173.0,212.5 L1173.5,213.2 L1174.0,213.6 L1174.5,213.9 L1175.0,213.9 L1175.5,214.5 L1176.0,215.1 L1176.5,215.5 L1177.0,216.2 L1177.5,217.1 L1178.0,217.5 L1178.5,216.8 L1179.0,217.6 L1179.5,218.5 L1180.0,218.7 L1180.5,219.3 L1181.0,219.1 L1181.5,218.9 L1182.0,219.7 L1182.5,220.1 L1183.0,219.8 L1183.5,220.4 L1184.0,221.5 L1184.5,222.6 L1185.0,223.5 L1185.5,224.0 L1186.0,225.1 L1186.5,226.2 L1187.0,227.1 L1187.5,227.2 L1188.0,227.5 L1188.5,226.9 L1189.0,226.1 L1189.5,226.0 L1190.0,224.9 L1190.5,224.0 L1191.0,223.5 L1191.5,223.5 L1192.0,224.4 L1192.5,225.4 L1193.0,226.3 L1193.5,227.3 L1194.0,228.6 L1194.5,230.8 L1195.0,233.2 L1195.5,236.3 L1196.0,240.1 L1196.5,242.9 L1197.0,244.6 L1197.5,246.0 L1198.0,247.4 L1198.5,248.1 L1199.0,247.3 L1199.5,246.0 L1200.0,245.0 L1200.5,243.7 L1201.0,242.3 L1201.5,240.3 L1202.0,240.0 L1202.5,242.0 L1203.0,244.3 L1203.5,245.4 L1204.0,245.7 L1204.5,246.2 L1205.0,246.6 L1205.5,246.3 L1206.0,246.5 L1206.5,246.8 L1207.0,247.0 L1207.5,247.1 L1208.0,246.9 L1208.5,247.2 L1209.0,247.6 L1209.5,248.1 L1210.0,248.3 L1210.5,248.2 L1211.0,248.6 L1211.5,248.6 L1212.0,248.7 L1212.5,249.4 L1213.0,249.6 L1213.5,250.0 L1214.0,250.5 L1214.5,250.6 L1215.0,251.4 L1215.5,252.0 L1216.0,252.1 L1216.5,252.1 L1217.0,253.0 L1217.5,253.6 L1218.0,254.0 L1218.5,254.9 L1219.0,255.4 L1219.5,255.8 L1220.0,256.3 L1220.5,257.4 L1221.0,259.2 L1221.5,259.8 L1222.0,259.5 L1222.5,260.1 L1223.0,261.1 L1223.5,261.5 L1224.0,261.6 L1224.5,262.0 L1225.0,262.5 L1225.5,262.7 L1226.0,262.9" fill="none" stroke="#009dff" stroke-width="3.7" stroke-linejoin="round" stroke-linecap="round"/><path d="M1224.5,262.0 L1225.0,262.5 L1225.5,262.7 L1226.0,262.9 L1226.5,263.7 L1227.0,265.0 L1227.5,265.2 L1228.0,265.3 L1228.5,266.2 L1229.0,266.7 L1229.5,267.4 L1230.0,267.9 L1230.5,268.7 L1231.0,269.2 L1231.5,269.2 L1232.0,269.9 L1232.5,270.8 L1233.0,272.1 L1233.5,272.4 L1234.0,272.6 L1234.5,272.8 L1235.0,273.1 L1235.5,274.3 L1236.0,274.6 L1236.0,274.5 L1236.5,275.0 L1237.0,275.5 L1237.5,276.0 L1238.0,276.5 L1238.5,277.2 L1239.0,277.7 L1239.5,278.1 L1240.0,278.6 L1240.5,279.2 L1241.0,279.6 L1241.5,280.1 L1242.0,280.5 L1242.5,281.2 L1243.0,281.6 L1243.5,282.1 L1244.0,282.5 L1244.5,283.1 L1245.0,283.7 L1245.5,284.3 L1246.0,284.8 L1246.5,285.5 L1247.0,286.0 L1247.5,286.3 L1248.0,286.9 L1248.5,287.4 L1249.0,288.2 L1249.5,288.6 L1250.0,289.0 L1250.5,289.5 L1251.0,290.2 L1251.5,290.8 L1252.0,291.3 L1252.5,292.0 L1253.0,292.6 L1253.5,293.0 L1254.0,293.5 L1254.5,293.9 L1255.0,294.5 L1255.5,295.1 L1256.0,295.7 L1256.5,296.5 L1257.0,297.0 L1257.5,297.4 L1258.0,298.0 L1258.5,298.6 L1259.0,299.2 L1259.5,299.7 L1260.0,300.2 L1260.5,300.8 L1261.0,301.5 L1261.5,302.2 L1262.0,302.7 L1262.5,303.2 L1263.0,303.9 L1263.5,304.4 L1264.0,305.1 L1264.5,305.6 L1265.0,306.1 L1265.5,306.5 L1266.0,307.0 L1266.5,307.7 L1267.0,308.4 L1267.5,309.0 L1268.0,309.6 L1268.5,310.1 L1269.0,310.6 L1269.5,311.1 L1270.0,311.7 L1270.5,312.5 L1271.0,313.0 L1271.5,313.7 L1272.0,314.2 L1272.5,314.9 L1273.0,315.4 L1273.5,315.9 L1274.0,316.5 L1274.5,317.4 L1275.0,317.9 L1275.5,318.6 L1276.0,319.2 L1276.5,319.8 L1277.0,320.4 L1277.5,320.9 L1278.0,321.5 L1278.5,322.1 L1279.0,322.8 L1279.5,323.4 L1280.0,324.1 L1280.5,324.6 L1281.0,325.1 L1281.5,325.7 L1282.0,326.5 L1282.5,327.0 L1283.0,327.6 L1283.5,328.2 L1284.0,328.9 L1284.5,329.4 L1285.0,330.1 L1285.5,330.6 L1286.0,331.2 L1286.5,331.8 L1287.0,332.5 L1287.5,333.2 L1288.0,333.7 L1288.5,334.4 L1289.0,335.0 L1289.5,335.7 L1290.0,336.2 L1290.5,336.8 L1291.0,337.4 L1291.5,338.1 L1292.0,338.7 L1292.5,339.4 L1293.0,340.0 L1293.5,340.7 L1294.0,341.2 L1294.5,341.9 L1295.0,342.5 L1295.5,343.2 L1296.0,343.8 L1296.5,344.3 L1297.0,345.0 L1297.5,345.7 L1298.0,346.4 L1298.5,347.0 L1299.0,347.6 L1299.5,348.2 L1300.0,348.8 L1300.5,349.5 L1301.0,350.3" fill="none" stroke="#009dff" stroke-width="4.25" stroke-linejoin="round" stroke-linecap="butt"/><path d="M1299.0,347.6 L1299.5,348.2 L1300.0,348.8 L1300.5,349.5 L1301.0,350.3 L1301.5,350.8 L1302.0,351.4 L1302.5,352.0 L1303.0,352.6 L1303.5,353.2 L1304.0,353.9 L1304.5,354.6 L1305.0,355.4 L1305.5,356.0 L1306.0,356.7 L1306.5,357.2 L1307.0,357.7 L1307.5,358.4 L1308.0,359.0 L1308.5,359.7 L1309.0,360.3 L1309.5,361.0 L1310.0,361.6 L1310.5,362.3 L1311.0,362.9 L1311.5,363.7 L1312.0,364.4 L1312.5,365.0 L1313.0,365.6 L1313.5,366.2 L1314.0,366.7 L1314.5,367.3 L1315.0,367.9 L1315.5,368.7 L1316.0,369.3 L1316.5,369.9 L1317.0,370.4 L1317.5,371.1 L1318.0,371.8 L1318.5,372.5 L1319.0,373.1 L1319.5,373.6 L1320.0,374.2 L1320.5,374.9 L1321.0,375.5 L1321.5,376.0 L1322.0,376.6 L1322.5,377.2 L1323.0,378.0 L1323.5,378.6 L1324.0,379.2 L1324.5,379.8 L1325.0,380.5 L1325.5,381.1 L1326.0,381.7 L1326.5,382.2 L1327.0,382.7 L1327.5,383.3 L1328.0,384.0 L1328.5,384.6 L1329.0,385.1 L1329.5,385.7 L1330.0,386.2 L1330.5,386.9 L1331.0,387.6 L1331.5,388.4 L1332.0,389.0 L1332.5,389.6 L1333.0,390.1 L1333.5,390.8 L1334.0,391.3 L1334.5,392.0 L1335.0,392.6 L1335.5,393.3 L1336.0,393.8 L1336.5,394.3 L1337.0,394.9 L1337.5,395.6 L1338.0,396.2 L1338.5,396.6 L1339.0,397.1 L1339.5,397.7 L1340.0,398.4 L1340.5,398.8 L1341.0,399.4 L1341.5,400.0 L1342.0,400.7 L1342.5,401.4 L1343.0,402.1 L1343.5,402.6 L1344.0,403.1 L1344.5,403.6 L1345.0,404.3 L1345.5,405.0 L1346.0,405.6 L1346.5,406.2 L1347.0,406.8 L1347.5,407.4 L1348.0,408.1 L1348.5,408.6 L1349.0,409.2 L1349.5,409.8 L1350.0,410.5 L1350.5,411.0 L1351.0,411.5 L1351.5,412.1 L1352.0,412.8 L1352.5,413.4 L1353.0,414.0 L1353.5,414.7 L1354.0,415.1 L1354.5,415.7 L1355.0,416.2 L1355.5,416.9 L1356.0,417.6 L1356.5,418.3 L1357.0,418.9 L1357.5,419.5 L1358.0,419.9 L1358.5,420.4 L1359.0,421.0 L1359.5,421.7 L1360.0,422.4 L1360.5,423.0 L1361.0,423.6 L1361.5,424.3 L1362.0,424.9 L1362.5,425.4 L1363.0,426.0 L1363.5,426.6 L1364.0,427.1 L1364.5,427.7 L1365.0,428.4 L1365.5,429.1 L1366.0,429.7 L1366.5,430.2 L1367.0,430.7 L1367.5,431.2 L1368.0,431.8 L1368.5,432.4 L1369.0,432.9 L1369.5,433.6 L1370.0,434.1 L1370.5,434.7 L1371.0,435.2 L1371.5,435.8 L1372.0,436.4 L1372.5,437.1 L1373.0,437.8 L1373.5,438.5 L1374.0,439.3 L1374.5,440.1 L1375.0,440.9 L1375.5,439.9 L1376.0,439.0 L1376.5,439.1 L1377.0,440.2 L1377.5,441.2 L1378.0,442.4 L1378.5,443.0 L1379.0,443.5 L1379.5,443.9 L1380.0,444.4 L1380.5,444.9 L1381.0,445.4 L1381.5,445.8 L1382.0,446.3 L1382.5,446.7 L1383.0,447.1 L1383.5,447.6 L1384.0,448.0 L1384.5,448.6 L1385.0,449.0 L1385.5,449.4 L1386.0,449.6 L1386.5,450.1 L1387.0,450.3 L1387.5,450.7 L1388.0,451.1 L1388.5,451.6 L1389.0,452.1 L1389.5,452.4 L1390.0,452.7 L1390.5,453.0 L1391.0,453.3 L1391.5,453.6 L1392.0,454.0 L1392.5,454.4 L1393.0,454.7 L1393.5,455.1 L1394.0,455.3 L1394.5,455.6 L1395.0,456.0 L1395.5,456.4 L1396.0,456.8 L1396.5,457.2 L1397.0,457.5 L1397.5,457.9 L1398.0,458.2 L1398.5,458.5 L1399.0,458.9 L1399.5,459.2 L1400.0,459.7 L1400.5,460.0 L1401.0,460.4 L1401.5,460.9 L1402.0,461.3 L1402.5,461.7 L1403.0,462.0 L1403.5,462.3 L1404.0,462.7 L1404.5,463.1 L1405.0,463.5 L1405.5,463.9 L1406.0,464.3 L1406.5,464.7 L1407.0,465.0 L1407.5,465.3 L1408.0,465.5 L1408.5,465.9 L1409.0,466.2 L1409.5,466.5 L1410.0,466.8 L1410.5,467.1 L1411.0,467.5 L1411.5,467.8 L1412.0,468.1 L1412.5,468.2 L1413.0,468.5 L1413.5,468.7 L1414.0,469.1 L1414.5,469.5 L1415.0,469.9 L1415.5,470.2 L1416.0,470.5 L1416.5,470.6 L1417.0,470.8 L1417.5,471.0 L1418.0,471.4 L1418.5,471.7 L1419.0,472.0 L1419.5,472.2 L1420.0,472.4 L1420.5,472.7 L1421.0,473.0 L1421.5,473.4 L1422.0,473.7 L1422.5,474.1 L1423.0,474.4 L1423.5,474.7 L1424.0,475.0 L1424.5,475.4 L1425.0,475.6 L1425.5,475.9 L1426.0,476.0 L1426.5,476.3 L1427.0,476.7 L1427.5,477.1 L1428.0,477.4 L1428.5,477.6 L1429.0,477.9 L1429.5,478.1 L1430.0,478.3 L1430.5,478.5 L1431.0,478.8 L1431.5,479.2 L1432.0,479.8 L1432.5,480.2 L1433.0,480.7 L1433.5,481.0 L1434.0,481.5 L1434.5,480.2 L1435.0,479.1 L1435.5,479.0 L1436.0,479.9 L1436.5,480.5 L1437.0,481.1 L1437.5,481.6 L1438.0,481.8 L1438.5,482.2 L1439.0,482.3 L1439.5,482.5 L1440.0,482.6 L1440.5,482.9 L1441.0,483.1 L1441.5,483.4 L1442.0,483.5 L1442.5,483.7 L1443.0,484.0 L1443.5,484.2 L1444.0,484.5 L1444.5,484.7 L1445.0,484.9 L1445.5,484.9 L1446.0,485.1 L1446.5,485.2 L1447.0,485.5 L1447.5,485.6 L1448.0,486.0 L1448.5,486.1 L1449.0,486.3 L1449.5,486.5 L1450.0,486.7 L1450.5,487.0 L1451.0,487.3 L1451.5,487.6 L1452.0,487.9 L1452.5,488.0 L1453.0,488.2 L1453.5,488.4 L1454.0,488.8 L1454.5,489.2 L1455.0,489.6 L1455.5,490.1 L1456.0,490.4 L1456.5,490.7 L1457.0,489.5 L1457.5,488.4 L1458.0,488.4 L1458.5,489.1 L1459.0,489.8 L1459.5,490.5 L1460.0,490.9 L1460.5,491.1 L1461.0,491.4 L1461.5,491.6 L1462.0,491.9 L1462.5,492.0 L1463.0,492.1 L1463.5,492.3 L1464.0,492.5 L1464.5,492.8 L1465.0,493.0 L1465.5,493.2 L1466.0,493.4 L1466.5,493.4 L1467.0,493.6 L1467.5,493.7 L1468.0,494.0 L1468.5,494.2 L1469.0,494.5 L1469.5,494.9 L1470.0,495.0 L1470.5,495.1 L1471.0,495.2 L1471.5,495.4 L1472.0,495.6 L1472.5,495.7 L1473.0,496.1 L1473.5,496.3 L1474.0,496.5 L1474.5,496.7 L1475.0,497.0 L1475.5,497.2 L1476.0,497.4 L1476.5,497.5 L1477.0,497.6 L1477.5,497.8 L1478.0,498.0 L1478.5,498.3 L1479.0,498.6 L1479.5,498.7 L1480.0,499.0 L1480.5,499.1 L1481.0,499.5 L1481.5,499.6 L1482.0,499.8 L1482.5,500.0 L1483.0,500.3 L1483.5,500.5 L1484.0,500.7 L1484.5,500.9 L1485.0,501.1 L1485.5,501.2 L1486.0,501.4 L1486.5,501.6 L1487.0,501.8 L1487.5,502.0 L1488.0,502.2 L1488.5,502.3 L1489.0,502.3 L1489.5,502.6 L1490.0,502.8 L1490.5,503.1 L1491.0,503.2 L1491.5,503.3 L1492.0,503.2 L1492.5,503.3 L1493.0,503.4 L1493.5,503.7 L1494.0,503.8 L1494.5,503.8 L1495.0,503.8 L1495.5,503.9 L1496.0,503.9 L1496.5,503.9 L1497.0,503.8 L1497.5,503.9 L1498.0,504.0 L1498.5,504.1 L1499.0,504.1 L1499.5,504.0 L1500.0,503.8 L1500.5,503.8 L1501.0,503.8 L1501.5,503.8 L1502.0,503.6 L1502.5,503.5 L1503.0,503.5 L1503.5,503.4 L1504.0,503.1 L1504.5,503.1 L1505.0,502.7 L1505.5,502.5 L1506.0,502.2 L1506.5,502.0 L1507.0,501.8 L1507.5,501.6 L1508.0,501.5 L1508.5,501.2 L1509.0,500.9 L1509.5,500.6 L1510.0,500.3 L1510.5,500.1 L1511.0,499.7 L1511.5,499.4 L1512.0,499.1 L1512.5,498.8 L1513.0,498.4 L1513.5,498.0 L1514.0,497.7 L1514.5,497.4 L1515.0,497.1 L1515.5,496.7 L1516.0,496.3 L1516.5,495.9 L1517.0,495.6 L1517.5,495.3 L1518.0,494.8 L1518.5,494.3 L1519.0,494.0 L1519.5,493.7 L1520.0,493.4 L1520.5,492.9 L1521.0,492.5 L1521.5,492.1 L1522.0,491.7 L1522.5,491.3 L1523.0,490.9 L1523.5,490.6 L1524.0,490.3 L1524.5,489.9 L1525.0,489.5 L1525.5,489.0 L1526.0,488.7 L1526.5,488.3 L1527.0,488.0 L1527.5,487.5 L1528.0,487.2 L1528.5,486.9 L1529.0,486.5 L1529.5,486.2 L1530.0,485.7 L1530.5,485.5 L1531.0,485.2 L1531.5,485.0 L1532.0,484.8 L1532.5,484.2 L1533.0,483.8 L1533.5,483.4 L1534.0,483.2 L1534.5,483.0 L1535.0,482.7 L1535.5,482.3 L1536.0,482.0 L1536.5,481.7 L1537.0,481.5 L1537.5,481.2 L1538.0,480.9 L1538.5,480.5 L1539.0,480.2 L1539.5,480.0 L1540.0,479.8 L1540.5,479.5 L1541.0,479.2 L1541.5,478.8 L1542.0,478.5 L1542.5,478.4 L1543.0,478.3 L1543.5,478.1 L1544.0,477.8 L1544.5,477.2 L1545.0,477.0 L1545.5,476.8 L1546.0,476.7 L1546.5,476.5 L1547.0,476.2 L1547.5,475.9 L1548.0,475.6 L1548.5,475.4 L1549.0,475.4 L1549.5,475.3 L1550.0,474.9 L1550.5,474.7 L1551.0,474.5 L1551.5,474.4 L1552.0,474.1 L1552.5,473.8 L1553.0,473.7 L1553.5,473.5 L1554.0,473.4 L1554.5,473.2 L1555.0,473.0 L1555.5,472.8 L1556.0,472.7 L1556.5,472.4 L1557.0,472.2 L1557.5,472.1 L1558.0,471.9 L1558.5,471.7 L1559.0,471.4 L1559.5,471.5 L1560.0,471.3 L1560.5,471.2 L1561.0,471.0 L1561.5,470.8 L1562.0,470.5 L1562.5,470.2 L1563.0,469.9 L1563.5,469.8 L1564.0,469.7 L1564.5,469.7 L1565.0,469.4 L1565.5,469.2 L1566.0,469.0 L1566.5,468.7 L1567.0,468.5 L1567.5,468.3 L1568.0,468.1 L1568.5,468.0 L1569.0,467.8 L1569.5,467.4 L1570.0,467.1 L1570.5,466.8 L1571.0,466.5 L1571.5,466.3 L1572.0,466.0 L1572.5,465.9 L1573.0,465.5 L1573.5,465.2 L1574.0,464.9 L1574.5,464.6 L1575.0,464.2 L1575.5,463.9 L1576.0,463.5 L1576.5,463.1 L1577.0,462.6 L1577.5,462.2 L1578.0,461.9 L1578.5,461.5 L1579.0,461.0 L1579.5,460.5 L1580.0,460.1 L1580.5,459.6 L1581.0,459.2 L1581.5,458.8 L1582.0,458.3 L1582.5,457.8 L1583.0,457.2 L1583.5,456.7 L1584.0,456.2 L1584.5,455.6 L1585.0,454.9 L1585.5,454.3 L1586.0,453.6 L1586.5,452.9 L1587.0,452.3 L1587.5,451.8 L1588.0,451.0 L1588.6,451.0 L1588.9,459.0" fill="none" stroke="#009dff" stroke-width="4.8" stroke-linejoin="round" stroke-linecap="butt"/><path d="M969.0,259.4 L969.5,259.4 L970.0,259.0 L970.5,259.2 L971.0,259.5 L971.5,259.0 L972.0,258.7 L972.5,258.6 L973.0,258.4 L973.5,259.1 L974.0,259.3 L974.5,259.0 L975.0,259.1 L975.5,258.9 L976.0,258.5 L976.5,258.1 L977.0,258.4 L977.5,258.7 L978.0,258.0 L978.5,257.3 L979.0,257.6 L979.5,257.9 L980.0,257.9 L980.5,257.7 L981.0,257.5 L981.5,256.9 L982.0,256.6 L982.5,257.0 L983.0,256.9 L983.5,256.1 L984.0,256.3 L984.5,256.6 L985.0,256.4 L985.5,256.7 L986.0,256.4 L986.5,255.7 L987.0,255.1 L987.5,255.3 L988.0,256.0 L988.5,255.9 L989.0,255.7 L989.5,255.9 L990.0,256.0 L990.5,255.8 L991.0,255.6 L991.5,255.4 L992.0,255.7 L992.5,255.6 L993.0,255.1 L993.5,254.9 L994.0,254.9 L994.5,254.9 L995.0,255.0 L995.5,254.9 L996.0,254.6 L996.5,254.0 L997.0,254.2 L997.5,254.2 L998.0,253.9 L998.5,254.4 L999.0,254.4 L999.5,253.8 L1000.0,253.8 L1000.5,253.8 L1001.0,253.4 L1001.5,253.6 L1002.0,253.8 L1002.5,254.1 L1003.0,253.6 L1003.5,252.7 L1004.0,252.9 L1004.5,253.1 L1005.0,252.8 L1005.5,252.8 L1006.0,252.8 L1006.5,252.1 L1007.0,251.9 L1007.5,251.9 L1008.0,251.9 L1008.5,251.8 L1009.0,251.9 L1009.5,252.4 L1010.0,252.7 L1010.5,253.1 L1011.0,252.7 L1011.5,252.1 L1012.0,252.9 L1012.5,253.4 L1013.0,253.1 L1013.5,252.9 L1014.0,253.0 L1014.5,253.3 L1015.0,253.3 L1015.5,253.7 L1016.0,253.5 L1016.5,253.3 L1017.0,253.1 L1017.5,253.2 L1018.0,253.4 L1018.5,253.7 L1019.0,253.7 L1019.5,253.7 L1020.0,253.8 L1020.5,253.1 L1021.0,253.3 L1021.5,253.8 L1022.0,253.6 L1022.5,253.2 L1023.0,252.9 L1023.5,253.1 L1024.0,253.7 L1024.5,253.2 L1025.0,252.9 L1025.5,253.7 L1026.0,253.0 L1026.5,252.6 L1027.0,252.9 L1027.5,252.5 L1028.0,252.2 L1028.5,251.9 L1029.0,251.8 L1029.5,252.2 L1030.0,251.9 L1030.5,251.1 L1031.0,250.5 L1031.5,250.9 L1032.0,251.7 L1032.5,250.9 L1033.0,250.3 L1033.5,250.2 L1034.0,250.4 L1034.5,249.8 L1035.0,249.4 L1035.5,249.1 L1036.0,248.9 L1036.5,249.1 L1037.0,249.1 L1037.5,249.2 L1038.0,248.5 L1038.5,248.0 L1039.0,247.7 L1039.5,248.1 L1040.0,248.5 L1040.5,247.9 L1041.0,247.2 L1041.5,247.4 L1042.0,247.7 L1042.5,247.4 L1043.0,247.4 L1043.5,247.6 L1044.0,247.5 L1044.5,247.4 L1045.0,247.4 L1045.5,247.2 L1046.0,247.0 L1046.5,247.1 L1047.0,247.2 L1047.5,246.8 L1048.0,246.8 L1048.5,246.7 L1049.0,246.5 L1049.5,246.5 L1050.0,246.7 L1050.5,246.0 L1051.0,245.7 L1051.5,246.0 L1052.0,245.6 L1052.5,245.6 L1053.0,245.7 L1053.5,245.3 L1054.0,244.9 L1054.5,244.7 L1055.0,245.1 L1055.5,245.9 L1056.0,245.8 L1056.5,244.8 L1057.0,245.2 L1057.5,245.8 L1058.0,245.8 L1058.5,245.6 L1059.0,245.5 L1059.5,245.7 L1060.0,245.2 L1060.5,245.1 L1061.0,245.4 L1061.5,245.2 L1062.0,245.4 L1062.5,245.3 L1063.0,245.0 L1063.5,244.8 L1064.0,244.5 L1064.5,244.4 L1065.0,243.5 L1065.5,243.1 L1066.0,243.5 L1066.5,243.2 L1067.0,243.2 L1067.5,243.3 L1068.0,242.5 L1068.5,242.0 L1069.0,242.0 L1069.5,241.6 L1070.0,241.8 L1070.5,242.1 L1071.0,241.7 L1071.5,241.3 L1072.0,241.1 L1072.5,241.1 L1073.0,241.5 L1073.5,241.4 L1074.0,241.5 L1074.5,242.3 L1075.0,241.7 L1075.5,241.0 L1076.0,241.6 L1076.5,241.8 L1077.0,241.3 L1077.5,241.2 L1078.0,241.5 L1078.5,241.7 L1079.0,241.5 L1079.5,241.3 L1080.0,241.5 L1080.5,241.7 L1081.0,241.7 L1081.5,241.2 L1082.0,241.0 L1082.5,241.7 L1083.0,241.9 L1083.5,241.7 L1084.0,241.8 L1084.5,241.9 L1085.0,242.3 L1085.5,242.2 L1086.0,242.0 L1086.5,242.0 L1087.0,241.7 L1087.5,241.2 L1088.0,240.9 L1088.5,241.3 L1089.0,241.2 L1089.5,240.8 L1090.0,240.6 L1090.5,240.3 L1091.0,240.1 L1091.5,240.3 L1092.0,240.1 L1092.5,239.6 L1093.0,239.9 L1093.5,240.3 L1094.0,240.1 L1094.5,239.7 L1095.0,239.9 L1095.5,240.3 L1096.0,239.7 L1096.5,239.4 L1097.0,239.5 L1097.5,239.2 L1098.0,239.9 L1098.5,240.8 L1099.0,240.0 L1099.5,239.8 L1100.0,240.2 L1100.5,240.0 L1101.0,240.0 L1101.5,239.9 L1102.0,239.5 L1102.5,239.0 L1103.0,238.9 L1103.5,239.3 L1104.0,238.6 L1104.5,237.8 L1105.0,237.9 L1105.5,237.7 L1106.0,237.5 L1106.5,237.8 L1107.0,237.8 L1107.5,237.4 L1108.0,237.2 L1108.5,236.9 L1109.0,237.0 L1109.5,236.9 L1110.0,236.4 L1110.5,236.2 L1111.0,236.4 L1111.5,236.7 L1112.0,236.6 L1112.5,236.0 L1113.0,236.4 L1113.5,236.4 L1114.0,236.3 L1114.5,236.5 L1115.0,236.5 L1115.5,236.3 L1116.0,236.4 L1116.5,236.7 L1117.0,236.5 L1117.5,236.9 L1118.0,237.3 L1118.5,237.4 L1119.0,237.8 L1119.5,237.4 L1120.0,237.2 L1120.5,237.3 L1121.0,236.7 L1121.5,236.9 L1122.0,237.1 L1122.5,236.4 L1123.0,236.4 L1123.5,236.8 L1124.0,237.0 L1124.5,237.1 L1125.0,236.7 L1125.5,235.9 L1126.0,235.8 L1126.5,236.1 L1127.0,236.2 L1127.5,236.3 L1128.0,236.3 L1128.5,236.5 L1129.0,236.6 L1129.5,236.8 L1130.0,237.4 L1130.5,238.0 L1131.0,237.9 L1131.5,237.9 L1132.0,238.5 L1132.5,239.1 L1133.0,239.5 L1133.5,240.2 L1134.0,240.4 L1134.5,239.6 L1135.0,239.4 L1135.5,239.4 L1136.0,239.3 L1136.5,239.5 L1137.0,239.8 L1137.5,240.0 L1138.0,239.7 L1138.5,239.0 L1139.0,238.9 L1139.5,238.9 L1140.0,238.7 L1140.5,239.0 L1141.0,239.2 L1141.5,239.9 L1142.0,240.3 L1142.5,240.1 L1143.0,240.4 L1143.5,241.0 L1144.0,241.0 L1144.5,241.1 L1145.0,241.5 L1145.5,241.9 L1146.0,242.1 L1146.5,242.5 L1147.0,243.5 L1147.5,243.6 L1148.0,243.7 L1148.5,243.5 L1149.0,243.0 L1149.5,242.7 L1150.0,242.7 L1150.5,242.9 L1151.0,242.6 L1151.5,242.5 L1152.0,242.1 L1152.5,242.2 L1153.0,242.1 L1153.5,241.4 L1154.0,241.2 L1154.5,241.5 L1155.0,241.4 L1155.5,241.3 L1156.0,242.1 L1156.5,242.6 L1157.0,242.6 L1157.5,243.1 L1158.0,243.2 L1158.5,242.5 L1159.0,242.7 L1159.5,243.0 L1160.0,243.4 L1160.5,244.3 L1161.0,244.9 L1161.5,245.2 L1162.0,245.1 L1162.5,245.9 L1163.0,247.2 L1163.5,247.7 L1164.0,248.0 L1164.5,248.3 L1165.0,248.3 L1165.5,248.3 L1166.0,247.8 L1166.5,247.3 L1167.0,247.5 L1167.5,247.2 L1168.0,246.7 L1168.5,246.3 L1169.0,246.2 L1169.5,246.2 L1170.0,245.5 L1170.5,245.7 L1171.0,246.0 L1171.5,245.3 L1172.0,244.8 L1172.5,244.4 L1173.0,244.7 L1173.5,244.8 L1174.0,244.0 L1174.5,243.8 L1175.0,244.5 L1175.5,245.1 L1176.0,246.3 L1176.5,247.4 L1177.0,247.5 L1177.5,247.5 L1178.0,248.3 L1178.5,249.3 L1179.0,249.8 L1179.5,250.1 L1180.0,250.7 L1180.5,251.1 L1181.0,251.3 L1181.5,251.6 L1182.0,251.3 L1182.5,251.2 L1183.0,251.2 L1183.5,251.3 L1184.0,251.3 L1184.5,251.5 L1185.0,251.3 L1185.5,251.2 L1186.0,251.6 L1186.5,251.5 L1187.0,251.0 L1187.5,250.6 L1188.0,250.8 L1188.5,250.4 L1189.0,250.1 L1189.5,250.3 L1190.0,250.8 L1190.5,251.9 L1191.0,252.9 L1191.5,253.9 L1192.0,254.6 L1192.5,254.7 L1193.0,254.2 L1193.5,254.0 L1194.0,254.2 L1194.5,253.0 L1195.0,252.5 L1195.5,253.3 L1196.0,253.4 L1196.5,253.6 L1197.0,254.2 L1197.5,254.1 L1198.0,254.3 L1198.5,254.8 L1199.0,255.3 L1199.5,255.0 L1200.0,254.9 L1200.5,255.4 L1201.0,255.7 L1201.5,256.2 L1202.0,256.5 L1202.5,256.6 L1203.0,257.0 L1203.5,257.0 L1204.0,257.2 L1204.5,257.6 L1205.0,257.3 L1205.5,257.6 L1206.0,258.2 L1206.5,258.5 L1207.0,258.4 L1207.5,258.7 L1208.0,259.8 L1208.5,260.6 L1209.0,260.2 L1209.5,260.0 L1210.0,260.4 L1210.5,260.4 L1211.0,260.5 L1211.5,261.1 L1212.0,262.1 L1212.5,262.7 L1213.0,263.0 L1213.5,263.5 L1214.0,263.3 L1214.5,263.0 L1215.0,263.0 L1215.5,263.2 L1216.0,263.8 L1216.5,264.4 L1217.0,264.2 L1217.5,264.0 L1218.0,264.4 L1218.5,264.7 L1219.0,264.6 L1219.5,265.0 L1220.0,265.5 L1220.5,265.4 L1221.0,265.5 L1221.5,265.8 L1222.0,266.0 L1222.5,266.2 L1223.0,266.9 L1223.5,267.1 L1224.0,267.1 L1224.5,267.4 L1225.0,267.2 L1225.5,267.0 L1226.0,267.7" fill="none" stroke="#ff0000" stroke-width="3.9" stroke-linejoin="round" stroke-linecap="round"/><path d="M1224.5,267.4 L1225.0,267.2 L1225.5,267.0 L1226.0,267.7 L1226.5,268.2 L1227.0,268.3 L1227.5,268.6 L1228.0,268.5 L1228.5,269.3 L1229.0,270.5 L1229.5,270.8 L1230.0,270.1 L1230.5,269.9 L1231.0,270.5 L1231.5,270.6 L1232.0,270.7 L1232.5,271.3 L1233.0,272.1 L1233.5,271.8 L1236.0,271.8 L1236.5,272.2 L1237.0,272.5 L1237.5,272.8 L1238.0,273.3 L1238.5,273.6 L1239.0,274.0 L1239.5,274.3 L1240.0,274.7 L1240.5,275.1 L1241.0,275.3 L1241.5,275.8 L1242.0,276.2 L1242.5,276.5 L1243.0,276.7 L1243.5,277.2 L1244.0,277.7 L1244.5,278.1 L1245.0,278.4 L1245.5,278.6 L1246.0,279.0 L1246.5,279.2 L1247.0,279.6 L1247.5,279.8 L1248.0,280.1 L1248.5,280.5 L1249.0,280.8 L1249.5,281.1 L1250.0,281.4 L1250.5,281.8 L1251.0,282.0 L1251.5,282.3 L1252.0,282.6 L1252.5,283.1 L1253.0,283.6 L1253.5,284.0 L1254.0,284.3 L1254.5,284.6 L1255.0,285.0 L1255.5,285.2 L1256.0,285.6 L1256.5,285.9 L1257.0,286.3 L1257.5,286.8 L1258.0,287.2 L1258.5,287.6 L1259.0,288.0 L1259.5,288.4 L1260.0,288.8 L1260.5,289.0 L1261.0,289.3 L1261.5,289.6 L1262.0,290.0 L1262.5,290.5 L1263.0,290.8 L1263.5,291.3 L1264.0,291.7 L1264.5,292.2 L1265.0,292.5 L1265.5,292.8 L1266.0,293.1 L1266.5,293.5 L1267.0,293.8 L1267.5,294.2 L1268.0,294.7 L1268.5,295.1 L1269.0,295.4 L1269.5,295.7 L1270.0,296.1 L1270.5,296.5 L1271.0,297.0 L1271.5,297.4 L1272.0,297.7 L1272.5,298.1 L1273.0,298.5 L1273.5,298.9 L1274.0,299.4 L1274.5,299.7 L1275.0,300.1 L1275.5,300.6 L1276.0,301.0 L1276.5,301.6 L1277.0,302.0 L1277.5,302.4 L1278.0,302.7 L1278.5,303.0 L1279.0,303.4 L1279.5,304.0 L1280.0,304.5 L1280.5,305.0 L1281.0,305.3 L1281.5,305.7 L1282.0,306.2 L1282.5,306.6 L1283.0,307.1 L1283.5,307.4 L1284.0,307.8 L1284.5,308.2 L1285.0,308.7 L1285.5,309.3 L1286.0,309.6 L1286.5,310.1 L1287.0,310.6 L1287.5,311.2 L1288.0,311.6 L1288.5,311.9 L1289.0,312.3 L1289.5,312.7 L1290.0,313.1 L1290.5,313.6 L1291.0,314.1 L1291.5,314.6 L1292.0,315.2 L1292.5,315.6 L1293.0,316.1 L1293.5,316.5 L1294.0,316.9 L1294.5,317.4 L1295.0,317.9 L1295.5,318.3 L1296.0,318.7 L1296.5,319.3 L1297.0,319.8 L1297.5,320.4 L1298.0,320.9 L1298.5,321.3 L1299.0,321.7 L1299.5,322.3 L1300.0,322.7 L1300.5,323.1 L1301.0,323.5" fill="none" stroke="#ff0000" stroke-width="4.45" stroke-linejoin="round" stroke-linecap="butt"/><path d="M1299.0,321.7 L1299.5,322.3 L1300.0,322.7 L1300.5,323.1 L1301.0,323.5 L1301.5,323.9 L1302.0,324.5 L1302.5,325.1 L1303.0,325.7 L1303.5,326.1 L1304.0,326.6 L1304.5,327.2 L1305.0,327.7 L1305.5,328.1 L1306.0,328.5 L1306.5,329.1 L1307.0,329.6 L1307.5,330.2 L1308.0,330.6 L1308.5,331.1 L1309.0,331.6 L1309.5,332.1 L1310.0,332.6 L1310.5,333.1 L1311.0,333.6 L1311.5,334.0 L1312.0,334.4 L1312.5,334.9 L1313.0,335.5 L1313.5,336.1 L1314.0,336.7 L1314.5,337.2 L1315.0,337.7 L1315.5,338.3 L1316.0,338.7 L1316.5,339.2 L1317.0,339.8 L1317.5,340.4 L1318.0,340.8 L1318.5,341.4 L1319.0,341.8 L1319.5,342.4 L1320.0,342.8 L1320.5,343.4 L1321.0,343.9 L1321.5,344.4 L1322.0,345.0 L1322.5,345.5 L1323.0,346.2 L1323.5,346.7 L1324.0,347.2 L1324.5,347.6 L1325.0,348.1 L1325.5,348.7 L1326.0,349.4 L1326.5,350.0 L1327.0,350.5 L1327.5,350.9 L1328.0,351.2 L1328.5,351.7 L1329.0,352.2 L1329.5,352.9 L1330.0,353.4 L1330.5,354.0 L1331.0,354.6 L1331.5,355.1 L1332.0,355.6 L1332.5,356.2 L1333.0,356.5 L1333.5,357.0 L1334.0,357.5 L1334.5,358.2 L1335.0,358.7 L1335.5,359.3 L1336.0,359.8 L1336.5,360.5 L1337.0,361.0 L1337.5,361.5 L1338.0,361.9 L1338.5,362.4 L1339.0,362.9 L1339.5,363.4 L1340.0,363.9 L1340.5,364.5 L1341.0,365.1 L1341.5,365.5 L1342.0,365.9 L1342.5,366.4 L1343.0,367.0 L1343.5,367.6 L1344.0,368.2 L1344.5,368.6 L1345.0,369.0 L1345.5,369.4 L1346.0,369.9 L1346.5,370.4 L1347.0,371.0 L1347.5,371.5 L1348.0,372.0 L1348.5,372.4 L1349.0,372.8 L1349.5,373.3 L1350.0,373.8 L1350.5,374.3 L1351.0,374.9 L1351.5,375.4 L1352.0,376.0 L1352.5,376.4 L1353.0,376.9 L1353.5,377.5 L1354.0,377.9 L1354.5,378.5 L1355.0,378.9 L1355.5,379.4 L1356.0,379.9 L1356.5,380.4 L1357.0,380.8 L1357.5,381.3 L1358.0,381.8 L1358.5,382.4 L1359.0,382.7 L1359.5,383.2 L1360.0,383.6 L1360.5,384.4 L1361.0,385.0 L1361.5,385.4 L1362.0,385.7 L1362.5,386.2 L1363.0,386.8 L1363.5,387.4 L1364.0,387.9 L1364.5,388.4 L1365.0,389.1 L1365.5,389.6 L1366.0,390.1 L1366.5,390.4 L1367.0,390.9 L1367.5,391.5 L1368.0,392.0 L1368.5,392.6 L1369.0,393.1 L1369.5,393.7 L1370.0,394.2 L1370.5,394.7 L1371.0,395.0 L1371.5,395.6 L1372.0,396.2 L1372.5,396.8 L1373.0,397.2 L1373.5,397.8 L1374.0,398.4 L1374.5,398.9 L1375.0,399.3 L1375.5,399.9 L1376.0,400.4 L1376.5,400.9 L1377.0,401.5 L1377.5,402.1 L1378.0,402.7 L1378.5,403.2 L1379.0,403.8 L1379.5,404.4 L1380.0,405.0 L1380.5,405.5 L1381.0,406.1 L1381.5,406.7 L1382.0,407.3 L1382.5,407.7 L1383.0,408.3 L1383.5,409.0 L1384.0,409.7 L1384.5,410.2 L1385.0,410.7 L1385.5,411.3 L1386.0,411.8 L1386.5,412.3 L1387.0,412.8 L1387.5,413.4 L1388.0,414.1 L1388.5,414.6 L1389.0,415.2 L1389.5,415.7 L1390.0,416.3 L1390.5,416.9 L1391.0,417.5 L1391.5,418.0 L1392.0,418.5 L1392.5,419.2 L1393.0,419.8 L1393.5,420.3 L1394.0,420.7 L1394.5,421.3 L1395.0,421.9 L1395.5,422.5 L1396.0,422.9 L1396.5,423.4 L1397.0,424.0 L1397.5,424.6 L1398.0,425.2 L1398.5,425.7 L1399.0,426.2 L1399.5,426.8 L1400.0,427.5 L1400.5,428.0 L1401.0,428.7 L1401.5,429.2 L1402.0,429.8 L1402.5,430.2 L1403.0,430.7 L1403.5,431.3 L1404.0,431.9 L1404.5,432.5 L1405.0,432.9 L1405.5,433.4 L1406.0,433.8 L1406.5,434.5 L1407.0,435.0 L1407.5,435.5 L1408.0,435.9 L1408.5,436.5 L1409.0,437.1 L1409.5,437.6 L1410.0,438.2 L1410.5,438.6 L1411.0,439.2 L1411.5,439.5 L1412.0,440.0 L1412.5,440.4 L1413.0,440.9 L1413.5,441.4 L1414.0,442.1 L1414.5,442.4 L1415.0,442.9 L1415.5,443.2 L1416.0,443.8 L1416.5,444.3 L1417.0,444.8 L1417.5,445.2 L1418.0,445.6 L1418.5,446.1 L1419.0,446.6 L1419.5,447.0 L1420.0,447.3 L1420.5,447.7 L1421.0,448.0 L1421.5,448.5 L1422.0,449.0 L1422.5,449.4 L1423.0,449.8 L1423.5,450.1 L1424.0,450.6 L1424.5,451.0 L1425.0,451.3 L1425.5,451.8 L1426.0,452.1 L1426.5,452.4 L1427.0,452.7 L1427.5,453.1 L1428.0,453.6 L1428.5,454.0 L1429.0,454.4 L1429.5,454.8 L1430.0,455.1 L1430.5,455.5 L1431.0,455.9 L1431.5,456.5 L1432.0,457.0 L1432.5,457.4 L1433.0,457.9 L1433.5,458.5 L1434.0,459.1 L1434.5,458.1 L1435.0,457.0 L1435.5,457.2 L1436.0,458.1 L1436.5,459.0 L1437.0,459.7 L1437.5,460.3 L1438.0,460.7 L1438.5,461.0 L1439.0,461.3 L1439.5,461.6 L1440.0,462.1 L1440.5,462.5 L1441.0,462.9 L1441.5,463.2 L1442.0,463.5 L1442.5,463.9 L1443.0,464.2 L1443.5,464.5 L1444.0,464.8 L1444.5,465.2 L1445.0,465.4 L1445.5,465.7 L1446.0,466.1 L1446.5,466.6 L1447.0,467.0 L1447.5,467.2 L1448.0,467.5 L1448.5,467.9 L1449.0,468.4 L1449.5,468.7 L1450.0,469.1 L1450.5,469.2 L1451.0,469.7 L1451.5,470.0 L1452.0,470.3 L1452.5,470.6 L1453.0,470.9 L1453.5,471.3 L1454.0,471.7 L1454.5,472.2 L1455.0,472.7 L1455.5,473.4 L1456.0,473.7 L1456.5,474.1 L1457.0,473.0 L1457.5,471.9 L1458.0,472.0 L1458.5,472.7 L1459.0,473.5 L1459.5,474.4 L1460.0,475.0 L1460.5,475.2 L1461.0,475.3 L1461.5,475.5 L1462.0,475.7 L1462.5,476.0 L1463.0,476.4 L1463.5,476.7 L1464.0,477.1 L1464.5,477.3 L1465.0,477.6 L1465.5,477.8 L1466.0,478.1 L1466.5,478.2 L1467.0,478.5 L1467.5,478.7 L1468.0,479.1 L1468.5,479.4 L1469.0,479.6 L1469.5,480.0 L1470.0,480.2 L1470.5,480.5 L1471.0,480.8 L1471.5,481.1 L1472.0,481.4 L1472.5,481.6 L1473.0,481.8 L1473.5,482.0 L1474.0,482.3 L1474.5,482.5 L1475.0,482.7 L1475.5,482.9 L1476.0,483.3 L1476.5,483.5 L1477.0,484.0 L1477.5,484.3 L1478.0,484.9 L1478.5,485.2 L1479.0,485.5 L1479.5,485.8 L1480.0,486.0 L1480.5,486.2 L1481.0,486.3 L1481.5,486.6 L1482.0,487.0 L1482.5,487.2 L1483.0,487.6 L1483.5,488.0 L1484.0,488.3 L1484.5,488.6 L1485.0,488.9 L1485.5,489.2 L1486.0,489.5 L1486.5,489.8 L1487.0,490.1 L1487.5,490.4 L1488.0,490.8 L1488.5,491.0 L1489.0,491.2 L1489.5,491.3 L1490.0,491.6 L1490.5,492.0 L1491.0,492.3 L1491.5,492.7 L1492.0,492.9 L1492.5,493.2 L1493.0,493.3 L1493.5,493.6 L1494.0,494.0 L1494.5,494.2 L1495.0,494.5 L1495.5,494.6 L1496.0,494.8 L1496.5,494.9 L1497.0,495.3 L1497.5,495.5 L1498.0,495.8 L1498.5,496.1 L1499.0,496.2 L1499.5,496.5 L1500.0,496.7 L1500.5,496.9 L1501.0,497.0 L1501.5,497.2 L1502.0,497.3 L1502.5,497.6 L1503.0,497.9 L1503.5,498.1 L1504.0,498.2 L1504.5,498.3 L1505.0,498.3 L1505.5,498.4 L1506.0,498.4 L1506.5,498.5 L1507.0,498.7 L1507.5,498.9 L1508.0,499.1 L1508.5,498.9 L1509.0,499.0 L1509.5,498.9 L1510.0,499.2 L1510.5,499.4 L1511.0,499.4 L1511.5,499.4 L1512.0,499.4 L1512.5,499.5 L1513.0,499.5 L1513.5,499.7 L1514.0,499.6 L1514.5,499.7 L1515.0,499.7 L1515.5,499.7 L1516.0,499.6 L1516.5,499.5 L1517.0,499.5 L1517.5,499.6 L1518.0,499.8 L1518.5,499.7 L1519.0,499.6 L1519.5,499.5 L1520.0,499.6 L1520.5,499.5 L1521.0,499.4 L1521.5,499.4 L1522.0,499.4 L1522.5,499.4 L1523.0,499.3 L1523.5,499.3 L1524.0,499.1 L1524.5,499.1 L1525.0,499.1 L1525.5,499.0 L1526.0,498.7 L1526.5,498.7 L1527.0,498.7 L1527.5,498.6 L1528.0,498.5 L1528.5,498.4 L1529.0,498.3 L1529.5,498.2 L1530.0,498.2 L1530.5,498.3 L1531.0,498.2 L1531.5,498.0 L1532.0,497.9 L1532.5,497.8 L1533.0,497.7 L1533.5,497.4 L1534.0,497.2 L1534.5,497.2 L1535.0,497.0 L1535.5,497.0 L1536.0,496.8 L1536.5,496.8 L1537.0,496.6 L1537.5,496.6 L1538.0,496.4 L1538.5,496.4 L1539.0,496.2 L1539.5,496.1 L1540.0,495.8 L1540.5,495.7 L1541.0,495.7 L1541.5,495.6 L1542.0,495.3 L1542.5,495.1 L1543.0,494.9 L1543.5,494.8 L1544.0,494.7 L1544.5,494.5 L1545.0,494.3 L1545.5,494.1 L1546.0,494.0 L1546.5,493.9 L1547.0,493.7 L1547.5,493.5 L1548.0,493.2 L1548.5,493.0 L1549.0,492.8 L1549.5,492.7 L1550.0,492.7 L1550.5,492.5 L1551.0,492.3 L1551.5,491.8 L1552.0,491.7 L1552.5,491.5 L1553.0,491.3 L1553.5,491.2 L1554.0,490.9 L1554.5,490.8 L1555.0,490.6 L1555.5,490.6 L1556.0,490.3 L1556.5,490.0 L1557.0,489.8 L1557.5,489.6 L1558.0,489.4 L1558.5,489.0 L1559.0,488.8 L1559.5,488.6 L1560.0,488.4 L1560.5,488.3 L1561.0,488.0 L1561.5,487.7 L1562.0,487.4 L1562.5,487.3 L1563.0,487.1 L1563.5,486.9 L1564.0,486.6 L1564.5,486.2 L1565.0,485.9 L1565.5,485.6 L1566.0,485.5 L1566.5,485.2 L1567.0,485.0 L1567.5,484.7 L1568.0,484.5 L1568.5,484.3 L1569.0,484.1 L1569.5,483.9 L1570.0,483.7 L1570.5,483.3 L1571.0,482.9 L1571.5,482.5 L1572.0,482.2 L1572.5,481.9 L1573.0,481.6 L1573.5,481.2 L1574.0,480.9 L1574.5,480.5 L1575.0,480.2 L1575.5,479.8 L1576.0,479.4 L1576.5,478.9 L1577.0,478.4 L1577.5,477.8 L1578.0,477.3 L1578.5,476.9 L1579.0,476.4 L1579.5,475.9 L1580.0,475.2 L1580.5,474.5 L1581.0,473.8 L1581.5,473.2 L1582.0,472.6 L1582.5,471.9 L1583.0,471.2 L1583.5,470.5 L1584.0,469.8 L1584.5,468.9 L1585.0,468.1 L1585.5,467.2 L1586.0,466.2 L1586.5,465.3 L1587.0,464.4 L1587.5,463.4 L1588.0,462.3 L1588.5,461.5 L1588.9,476.0" fill="none" stroke="#ff0000" stroke-width="5.0" stroke-linejoin="round" stroke-linecap="butt"/></g>
<text x="1027.30" y="546.80" font-size="27.6" fill="#000" text-anchor="middle" >10</text>
<text x="1220.75" y="546.80" font-size="27.6" fill="#000" text-anchor="middle" >100</text>
<text x="1414.20" y="546.80" font-size="27.6" fill="#000" text-anchor="middle" >1000</text>
<text x="958.80" y="524.10" font-size="27.6" fill="#000" text-anchor="end" >0.0</text>
<text x="958.80" y="370.35" font-size="27.6" fill="#000" text-anchor="end" >0.5</text>
<text x="958.80" y="216.60" font-size="27.6" fill="#000" text-anchor="end" >1.0</text>
<text x="1120.20" y="591.80" font-size="36.0" fill="#000" text-anchor="start" >Wavenumber (cm<tspan font-size="26" dy="-13.4">-1</tspan><tspan dy="13.4">)</tspan></text>
<text transform="translate(895.3,286.9) rotate(-90)" font-size="36" text-anchor="middle">Optical Density</text>
<text x="867.00" y="73.80" font-size="45.5" fill="#000" text-anchor="start" >(b)</text>
<text x="993.20" y="130.90" font-size="28" fill="#009dff" text-anchor="start" >Meijo EC<tspan font-weight="bold" dx="-1.3" dy="-3.2" textLength="11.2" lengthAdjust="spacingAndGlyphs">-</tspan><tspan dx="-1.1" dy="3.2">Y type II</tspan></text>
<text x="1143.20" y="162.80" font-size="28" fill="#0000ff" text-anchor="start" >type I</text>
<text x="1008.00" y="298.30" font-size="28" fill="#ff0000" text-anchor="start" >DexMat</text>
<text x="1149.00" y="382.50" font-size="28" fill="#ff8000" text-anchor="start" >Nanocomp</text>
<rect x="1311.60" y="70.50" width="250.40" height="168.30" fill="#fff"/>
<rect x="1311.60" y="70.50" width="250.40" height="168.30" fill="none" stroke="#000" stroke-width="2.4"/>
<line x1="1337.58" y1="238.80" x2="1337.58" y2="235.20" stroke="#000" stroke-width="1.8"/>
<line x1="1352.78" y1="238.80" x2="1352.78" y2="235.20" stroke="#000" stroke-width="1.8"/>
<line x1="1363.56" y1="238.80" x2="1363.56" y2="235.20" stroke="#000" stroke-width="1.8"/>
<line x1="1371.92" y1="238.80" x2="1371.92" y2="235.20" stroke="#000" stroke-width="1.8"/>
<line x1="1378.75" y1="238.80" x2="1378.75" y2="235.20" stroke="#000" stroke-width="1.8"/>
<line x1="1384.53" y1="238.80" x2="1384.53" y2="235.20" stroke="#000" stroke-width="1.8"/>
<line x1="1389.54" y1="238.80" x2="1389.54" y2="235.20" stroke="#000" stroke-width="1.8"/>
<line x1="1393.95" y1="238.80" x2="1393.95" y2="235.20" stroke="#000" stroke-width="1.8"/>
<line x1="1397.90" y1="238.80" x2="1397.90" y2="233.00" stroke="#000" stroke-width="1.8"/>
<line x1="1423.88" y1="238.80" x2="1423.88" y2="235.20" stroke="#000" stroke-width="1.8"/>
<line x1="1439.08" y1="238.80" x2="1439.08" y2="235.20" stroke="#000" stroke-width="1.8"/>
<line x1="1449.86" y1="238.80" x2="1449.86" y2="235.20" stroke="#000" stroke-width="1.8"/>
<line x1="1458.22" y1="238.80" x2="1458.22" y2="235.20" stroke="#000" stroke-width="1.8"/>
<line x1="1465.05" y1="238.80" x2="1465.05" y2="235.20" stroke="#000" stroke-width="1.8"/>
<line x1="1470.83" y1="238.80" x2="1470.83" y2="235.20" stroke="#000" stroke-width="1.8"/>
<line x1="1475.84" y1="238.80" x2="1475.84" y2="235.20" stroke="#000" stroke-width="1.8"/>
<line x1="1480.25" y1="238.80" x2="1480.25" y2="235.20" stroke="#000" stroke-width="1.8"/>
<line x1="1484.20" y1="238.80" x2="1484.20" y2="233.00" stroke="#000" stroke-width="1.8"/>
<line x1="1510.18" y1="238.80" x2="1510.18" y2="235.20" stroke="#000" stroke-width="1.8"/>
<line x1="1525.38" y1="238.80" x2="1525.38" y2="235.20" stroke="#000" stroke-width="1.8"/>
<line x1="1536.16" y1="238.80" x2="1536.16" y2="235.20" stroke="#000" stroke-width="1.8"/>
<line x1="1544.52" y1="238.80" x2="1544.52" y2="235.20" stroke="#000" stroke-width="1.8"/>
<line x1="1551.35" y1="238.80" x2="1551.35" y2="235.20" stroke="#000" stroke-width="1.8"/>
<line x1="1557.13" y1="238.80" x2="1557.13" y2="235.20" stroke="#000" stroke-width="1.8"/>
<g clip-path="url(#clipBI)"><path d="M1352.3,156.8 L1352.8,151.2 L1353.3,146.0 L1353.8,141.6 L1354.3,137.2 L1354.8,133.4 L1355.3,129.8 L1355.8,127.0 L1356.3,126.0 L1356.8,126.8 L1357.3,128.3 L1357.8,129.5 L1358.3,128.5 L1358.8,127.1 L1359.3,126.4 L1359.8,124.6 L1360.3,121.8 L1360.8,119.8 L1361.3,118.0 L1361.8,116.1 L1362.3,115.0 L1362.8,114.5 L1363.3,114.2 L1363.8,112.8 L1364.3,111.2 L1364.8,111.5 L1365.3,112.0 L1365.8,112.7 L1366.3,113.7 L1366.8,114.3 L1367.3,115.0 L1367.8,116.0 L1368.3,117.0 L1368.8,117.6 L1369.3,118.1 L1369.8,118.9 L1370.3,119.8 L1370.8,119.4 L1371.3,117.0 L1371.8,115.0 L1372.3,113.1 L1372.8,111.3 L1373.3,110.3 L1373.8,110.0 L1374.3,109.4 L1374.8,108.2 L1375.3,107.5 L1375.8,107.7 L1376.3,108.8 L1376.8,109.0 L1377.3,109.5 L1377.8,110.4 L1378.3,110.6 L1378.8,110.1 L1379.3,109.8 L1379.8,110.6 L1380.3,110.8 L1380.8,110.0 L1381.3,109.7 L1381.8,109.2 L1382.3,109.5 L1382.8,109.1 L1383.3,108.5 L1383.8,109.0 L1384.3,108.7 L1384.8,107.9 L1385.3,107.7 L1385.8,107.2 L1386.3,107.1 L1386.8,107.5 L1387.3,107.3 L1387.8,106.8 L1388.3,106.4 L1388.8,105.6 L1389.3,106.0 L1389.8,106.0 L1390.3,105.4 L1390.8,105.5 L1391.3,105.8 L1391.8,105.5 L1392.3,105.2 L1392.8,105.0 L1393.3,104.9 L1393.8,105.6 L1394.3,105.4 L1394.8,105.2 L1395.3,105.1 L1395.8,105.2 L1396.3,104.9 L1396.8,105.3 L1397.3,105.2 L1397.8,104.5 L1398.3,104.5 L1398.8,104.4 L1399.3,104.3 L1399.8,104.3 L1400.3,104.1 L1400.8,103.7 L1401.3,103.9 L1401.8,104.5 L1402.3,105.4 L1402.8,105.0 L1403.3,104.6 L1403.8,104.7 L1404.3,105.0 L1404.8,105.4 L1405.3,106.0 L1405.8,106.0 L1406.3,105.6 L1406.8,105.8 L1407.3,105.5 L1407.8,105.8 L1408.3,105.7 L1408.8,105.8 L1409.3,106.0 L1409.8,106.0 L1410.3,106.4 L1410.8,105.8 L1411.3,105.5 L1411.8,106.1 L1412.3,106.1 L1412.8,106.3 L1413.3,106.6 L1413.8,106.5 L1414.3,106.6 L1414.8,106.8 L1415.3,106.5 L1415.8,106.8 L1416.3,106.9 L1416.8,107.0 L1417.3,106.9 L1417.8,106.7 L1418.3,106.8 L1418.8,107.0 L1419.3,106.7 L1419.8,106.8 L1420.3,107.3 L1420.8,107.2 L1421.3,107.0 L1421.8,107.2 L1422.3,107.6 L1422.8,107.9 L1423.3,107.9 L1423.8,107.9 L1424.3,108.1 L1424.8,107.9 L1425.3,107.9 L1425.8,107.6 L1426.3,107.4 L1426.8,108.0 L1427.3,108.4 L1427.8,108.4 L1428.3,108.3 L1428.8,108.8 L1429.3,108.6 L1429.8,108.4 L1430.3,108.3 L1430.8,108.1 L1431.3,108.8 L1431.8,109.0 L1432.3,108.7 L1432.8,109.2 L1433.3,109.2 L1433.8,108.5 L1434.3,108.9 L1434.8,109.1 L1435.3,109.4 L1435.8,109.6 L1436.3,109.6 L1436.8,109.7 L1437.3,110.0 L1437.8,109.9 L1438.3,109.6 L1438.8,109.4 L1439.3,109.5 L1439.8,109.8 L1440.3,110.0 L1440.8,109.6 L1441.3,109.6 L1441.8,109.7 L1442.3,109.5 L1442.8,110.3 L1443.3,110.3 L1443.8,110.1 L1444.3,110.1 L1444.8,110.1 L1445.3,110.3 L1445.8,110.1 L1446.3,110.6 L1446.8,110.7 L1447.3,110.1 L1447.8,109.9 L1448.3,109.9 L1448.8,110.5 L1449.3,111.0 L1449.8,110.5 L1450.3,110.4 L1450.8,111.0 L1451.3,111.1 L1451.8,110.7 L1452.3,111.2 L1452.8,111.4 L1453.3,111.1 L1453.8,111.4 L1454.3,111.8 L1454.8,111.8 L1455.3,111.3 L1455.8,110.9 L1456.3,111.0 L1456.8,111.4 L1457.3,111.4 L1457.8,111.5 L1458.3,111.5 L1458.8,111.3 L1459.3,111.6 L1459.8,111.8 L1460.3,111.6 L1460.8,111.5 L1461.3,112.1 L1461.8,112.3 L1462.3,111.6 L1462.8,111.7 L1463.3,112.4 L1463.8,112.1 L1464.3,111.4 L1464.8,111.4 L1465.3,111.7 L1465.8,111.2 L1466.3,110.9 L1466.8,111.7 L1467.3,111.4 L1467.8,111.0 L1468.3,111.1 L1468.8,110.8 L1469.3,109.9 L1469.8,110.0 L1470.3,110.4 L1470.8,110.4 L1471.3,110.0 L1471.8,109.8 L1472.3,109.9 L1472.8,109.2 L1473.3,108.8 L1473.8,108.3 L1474.3,108.1 L1474.8,108.1 L1475.3,107.7 L1475.8,107.3 L1476.3,106.7 L1476.8,106.0 L1477.3,105.9 L1477.8,106.0 L1478.3,105.7 L1478.8,105.2 L1479.3,105.2 L1479.8,104.6 L1480.3,104.2 L1480.8,104.2 L1481.3,103.5 L1481.8,102.7 L1482.3,102.3 L1482.8,102.3 L1483.3,102.1 L1483.8,102.0 L1484.3,102.1 L1484.8,101.2 L1485.3,100.5 L1485.8,99.8 L1486.3,98.9 L1486.8,98.8 L1487.3,98.6 L1487.8,97.8 L1488.3,96.7 L1488.8,95.8 L1489.3,95.2 L1489.8,95.1 L1490.3,95.2 L1490.8,95.1 L1491.3,94.4 L1491.8,93.9 L1492.3,93.0 L1492.8,91.8 L1493.3,91.7 L1493.8,91.2 L1494.3,90.0 L1494.8,88.8 L1495.3,88.5 L1495.8,88.4 L1496.3,87.8 L1496.8,86.8 L1497.3,86.5 L1497.8,86.4 L1498.3,85.5 L1498.8,84.3 L1499.3,83.6 L1499.8,83.6 L1500.3,83.1 L1500.8,81.7 L1501.3,80.8 L1501.8,80.6 L1502.3,79.9 L1502.8,78.6 L1503.3,77.3 L1503.8,76.6 L1504.3,76.1 L1504.8,75.6 L1505.3,74.4 L1505.8,72.9 L1506.3,73.4 L1506.8,73.2 L1507.3,72.0 L1507.8,71.4 L1508.3,69.7 L1508.8,67.8" fill="none" stroke="#b97aff" stroke-width="4.2" stroke-linejoin="round" stroke-linecap="round"/><path d="M1352.0,196.6 L1352.5,194.4 L1353.0,192.1 L1353.5,190.1 L1354.0,189.4 L1354.5,188.7 L1355.0,188.2 L1355.5,188.6 L1356.0,189.0 L1356.5,189.1 L1357.0,189.8 L1357.5,189.4 L1358.0,188.7 L1358.5,187.1 L1359.0,185.1 L1359.5,183.1 L1360.0,181.6 L1360.5,179.6 L1361.0,177.2 L1361.5,175.4 L1362.0,174.4 L1362.5,173.6 L1363.0,173.1 L1363.5,172.8 L1364.0,172.4 L1364.5,173.9 L1365.0,175.3 L1365.5,176.7 L1366.0,178.1 L1366.5,178.4 L1367.0,177.8 L1367.5,177.9 L1368.0,178.9 L1368.5,178.4 L1369.0,177.4 L1369.5,177.3 L1370.0,177.6 L1370.5,178.4 L1371.0,179.0 L1371.5,178.9 L1372.0,179.0 L1372.5,179.1 L1373.0,179.0 L1373.5,179.2 L1374.0,178.9 L1374.5,178.8 L1375.0,179.0 L1375.5,179.5 L1376.0,180.0 L1376.5,180.0 L1377.0,179.7 L1377.5,178.8 L1378.0,178.3 L1378.5,178.1 L1379.0,177.2 L1379.5,176.7 L1380.0,176.9 L1380.5,176.9 L1381.0,176.3 L1381.5,175.8 L1382.0,175.4 L1382.5,175.3 L1383.0,175.4 L1383.5,175.2 L1384.0,175.7 L1384.5,175.6 L1385.0,175.8 L1385.5,176.1 L1386.0,176.0 L1386.5,176.1 L1387.0,175.5 L1387.5,175.0 L1388.0,174.9 L1388.5,174.9 L1389.0,174.9 L1389.5,174.6 L1390.0,175.0 L1390.5,175.4 L1391.0,175.3 L1391.5,174.9 L1392.0,174.2 L1392.5,174.3 L1393.0,174.4 L1393.5,174.0 L1394.0,174.3 L1394.5,174.3 L1395.0,173.5 L1395.5,172.7 L1396.0,172.7 L1396.5,172.8 L1397.0,172.8 L1397.5,173.1 L1398.0,172.9 L1398.5,172.4 L1399.0,171.8 L1399.5,171.5 L1400.0,172.0 L1400.5,172.0 L1401.0,171.2 L1401.5,171.2 L1402.0,171.1 L1402.5,170.7 L1403.0,170.8 L1403.5,171.1 L1404.0,171.1 L1404.5,171.1 L1405.0,171.6 L1405.5,171.4 L1406.0,170.8 L1406.5,170.4 L1407.0,171.0 L1407.5,171.2 L1408.0,170.8 L1408.5,170.7 L1409.0,170.4 L1409.5,170.4 L1410.0,170.1 L1410.5,170.4 L1411.0,170.6 L1411.5,170.0 L1412.0,170.1 L1412.5,170.0 L1413.0,170.3 L1413.5,169.8 L1414.0,169.5 L1414.5,170.3 L1415.0,170.0 L1415.5,169.5 L1416.0,169.8 L1416.5,169.9 L1417.0,169.1 L1417.5,169.5 L1418.0,170.2 L1418.5,169.4 L1419.0,169.3 L1419.5,169.6 L1420.0,169.1 L1420.5,168.3 L1421.0,168.5 L1421.5,169.4 L1422.0,169.1 L1422.5,168.5 L1423.0,168.5 L1423.5,168.5 L1424.0,168.7 L1424.5,169.2 L1425.0,168.8 L1425.5,168.5 L1426.0,168.9 L1426.5,168.7 L1427.0,168.7 L1427.5,168.7 L1428.0,168.6 L1428.5,168.4 L1429.0,168.0 L1429.5,168.3 L1430.0,168.8 L1430.5,168.4 L1431.0,168.2 L1431.5,167.9 L1432.0,167.7 L1432.5,168.0 L1433.0,168.8 L1433.5,169.0 L1434.0,168.5 L1434.5,168.9 L1435.0,168.8 L1435.5,168.5 L1436.0,168.6 L1436.5,168.8 L1437.0,168.9 L1437.5,168.6 L1438.0,168.3 L1438.5,168.2 L1439.0,168.3 L1439.5,168.4 L1440.0,168.1 L1440.5,168.3 L1441.0,168.7 L1441.5,168.5 L1442.0,168.7 L1442.5,168.9 L1443.0,168.7 L1443.5,168.5 L1444.0,168.3 L1444.5,168.3 L1445.0,168.9 L1445.5,168.7 L1446.0,168.1 L1446.5,168.3 L1447.0,168.3 L1447.5,168.6 L1448.0,168.7 L1448.5,168.5 L1449.0,168.2 L1449.5,168.0 L1450.0,168.3 L1450.5,168.6 L1451.0,168.9 L1451.5,168.5 L1452.0,168.4 L1452.5,169.0 L1453.0,168.6 L1453.5,168.5 L1454.0,169.4 L1454.5,169.4 L1455.0,168.4 L1455.5,168.6 L1456.0,168.6 L1456.5,168.6 L1457.0,169.2 L1457.5,169.3 L1458.0,169.6 L1458.5,169.7 L1459.0,169.6 L1459.5,169.5 L1460.0,169.3 L1460.5,169.6 L1461.0,169.8 L1461.5,169.5 L1462.0,170.0 L1462.5,170.3 L1463.0,169.7 L1463.5,170.0 L1464.0,170.4 L1464.5,170.1 L1465.0,170.7 L1465.5,171.2 L1466.0,170.9 L1466.5,170.9 L1467.0,170.8 L1467.5,170.6 L1468.0,171.1 L1468.5,171.6 L1469.0,171.7 L1469.5,171.6 L1470.0,171.6 L1470.5,171.8 L1471.0,171.9 L1471.5,171.8 L1472.0,171.7 L1472.5,171.6 L1473.0,171.6 L1473.5,171.5 L1474.0,171.9 L1474.5,172.3 L1475.0,171.9 L1475.5,172.1 L1476.0,172.5 L1476.5,172.9 L1477.0,172.3 L1477.5,172.6 L1478.0,172.9 L1478.5,172.5 L1479.0,172.5 L1479.5,173.3 L1480.0,173.6 L1480.5,172.7 L1481.0,172.6 L1481.5,172.6 L1482.0,173.1 L1482.5,173.7 L1483.0,173.3 L1483.5,172.6 L1484.0,172.9 L1484.5,173.4 L1485.0,173.6 L1485.5,173.7 L1486.0,173.5 L1486.5,173.7 L1487.0,173.6 L1487.5,173.9 L1488.0,174.3 L1488.5,174.1 L1489.0,174.0 L1489.5,174.2 L1490.0,174.2 L1490.5,174.1 L1491.0,174.6 L1491.5,174.5 L1492.0,174.0 L1492.5,174.0 L1493.0,174.2 L1493.5,173.9 L1494.0,173.6 L1494.5,173.8 L1495.0,174.2 L1495.5,174.2 L1496.0,174.4 L1496.5,174.8 L1497.0,174.3 L1497.5,174.0 L1498.0,174.3 L1498.5,174.6 L1499.0,174.7 L1499.5,174.7 L1500.0,175.0 L1500.5,174.9 L1501.0,174.9 L1501.5,175.0 L1502.0,174.3 L1502.5,174.2 L1503.0,174.4 L1503.5,174.5 L1504.0,173.9 L1504.5,173.7 L1505.0,174.2 L1505.5,174.3 L1506.0,174.0 L1506.5,173.8 L1507.0,174.4 L1507.5,174.4 L1508.0,173.7 L1508.5,173.8 L1509.0,174.0 L1509.5,174.1 L1510.0,174.4 L1510.5,174.2 L1511.0,174.3 L1511.5,174.2 L1512.0,173.4 L1512.5,173.7 L1513.0,173.8 L1513.5,173.4 L1514.0,173.1 L1514.5,173.0 L1515.0,173.3 L1515.5,173.5 L1516.0,172.6 L1516.5,172.2 L1517.0,172.7 L1517.5,172.1 L1518.0,171.9 L1518.5,171.9 L1519.0,172.4 L1519.5,172.5 L1520.0,171.7 L1520.5,171.8 L1521.0,172.1 L1521.5,171.7 L1522.0,171.1 L1522.5,170.7 L1523.0,170.7 L1523.5,171.0 L1524.0,170.9 L1524.5,171.0 L1525.0,170.3 L1525.5,169.7 L1526.0,170.1 L1526.5,170.4 L1527.0,170.2 L1527.5,169.7 L1528.0,169.2 L1528.5,169.0 L1529.0,168.9 L1529.5,168.2 L1530.0,167.8 L1530.5,168.4 L1531.0,168.7 L1531.5,167.7 L1532.0,167.0 L1532.5,166.7 L1533.0,167.0 L1533.5,166.8 L1534.0,166.4 L1534.5,167.0 L1535.0,166.9 L1535.5,166.8 L1536.0,166.4 L1536.5,165.8 L1537.0,165.8 L1537.5,165.5 L1538.0,165.2 L1538.5,165.1 L1539.0,165.0 L1539.5,164.0 L1540.0,163.7 L1540.5,163.9 L1541.0,163.1 L1541.5,162.9 L1542.0,163.0 L1542.5,162.6 L1543.0,162.4 L1543.5,162.1 L1544.0,162.0 L1544.5,161.6 L1545.0,160.8 L1545.5,160.6 L1546.0,160.8 L1546.5,160.3 L1547.0,159.6 L1547.5,159.5 L1548.0,159.2 L1548.5,159.4 L1549.0,159.2 L1549.5,157.9 L1550.0,157.8 L1550.5,157.9 L1551.0,157.0 L1551.5,156.8 L1552.0,156.8 L1552.5,156.3 L1553.0,155.9 L1553.5,155.9 L1554.0,155.7 L1554.5,154.7 L1555.0,154.0 L1555.5,153.3 L1556.0,153.0 L1556.5,152.5 L1557.0,151.1 L1557.5,150.6 L1558.0,150.2 L1558.5,149.6 L1559.0,148.9 L1559.5,147.5 L1560.0,146.8 L1560.5,146.1 L1561.0,145.2 L1561.5,144.8" fill="none" stroke="#00dd00" stroke-width="4.4" stroke-linejoin="round" stroke-linecap="round"/></g>
<text x="1311.60" y="263.50" font-size="23.3" fill="#000" text-anchor="middle" >10</text>
<text x="1397.90" y="263.50" font-size="23.3" fill="#000" text-anchor="middle" >100</text>
<text x="1484.20" y="263.50" font-size="23.3" fill="#000" text-anchor="middle" >1000</text>
<text x="1308.40" y="77.60" font-size="24.5" fill="#000" text-anchor="end" >0.5</text>
<text x="1308.40" y="246.00" font-size="24.5" fill="#000" text-anchor="end" >0.0</text>
<rect x="1336.40" y="58.00" width="148.60" height="26.00" fill="#fff"/>
<text x="1341.60" y="81.20" font-size="25.8" fill="#9900cc" text-anchor="start" >Hamamatsu</text>
<text x="1385.80" y="212.00" font-size="26" fill="#008000" text-anchor="start" >Taiyo</text>
</svg>
</body>
</html>
